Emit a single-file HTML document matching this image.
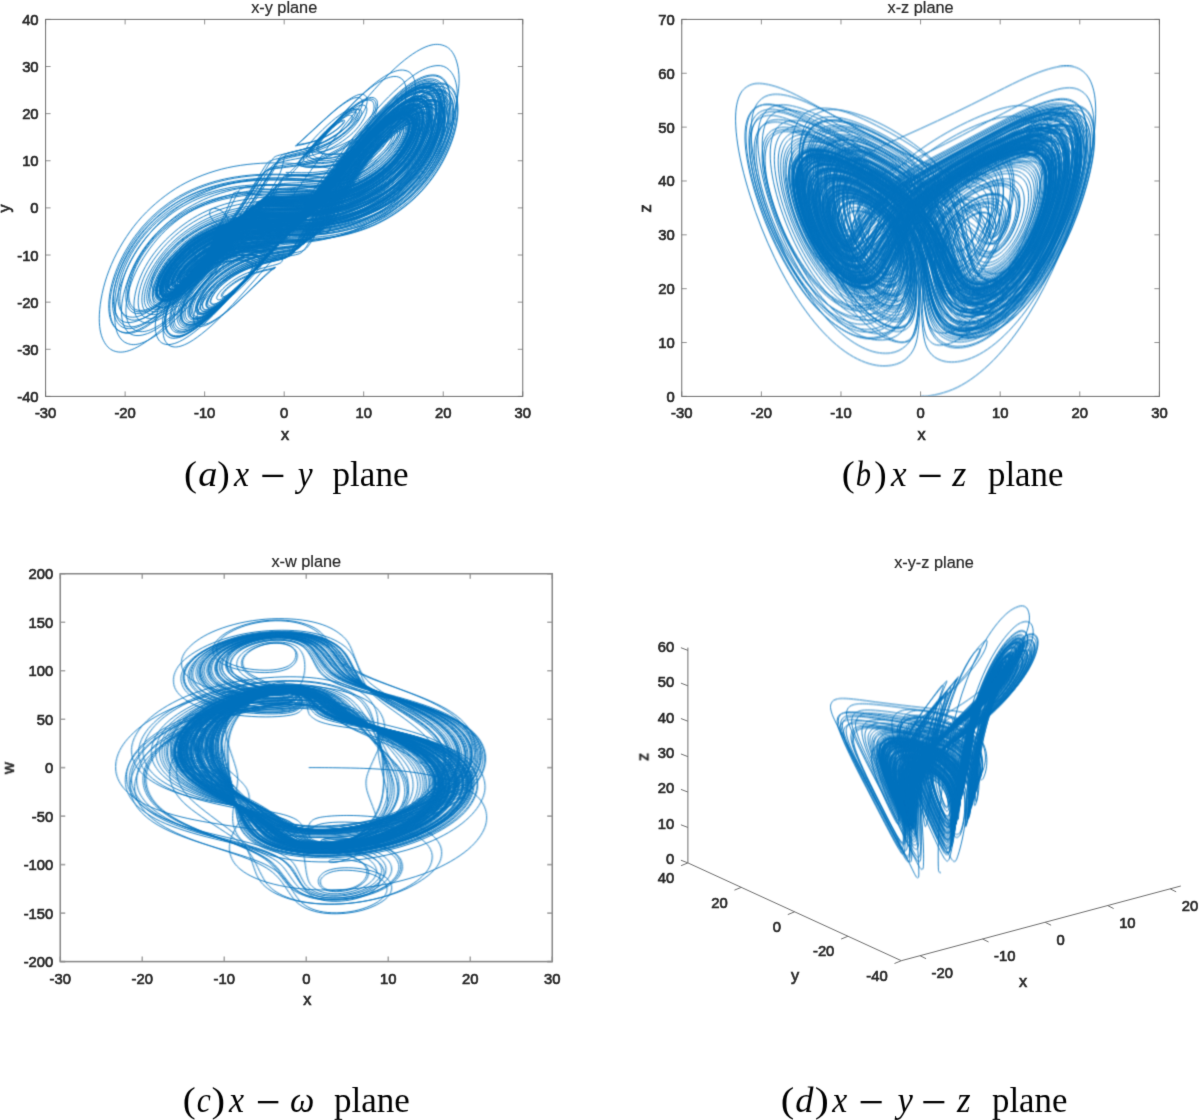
<!DOCTYPE html>
<html><head><meta charset="utf-8"><title>Hyperchaotic attractor</title>
<style>
html,body{margin:0;padding:0;background:#fff}
svg{display:block}
text{font-family:"Liberation Sans",sans-serif;stroke:#262626;stroke-width:.65px}
text.s{font-family:"Liberation Serif",serif;stroke:none}
.cv{fill:none;stroke:#0072bd;stroke-linejoin:round;stroke-linecap:round}
</style></head><body>
<svg width="1200" height="1120" viewBox="0 0 1200 1120">
<rect width="1200" height="1120" fill="#fff"/>
<defs>
<filter id="bl" x="0" y="0" width="100%" height="100%" filterUnits="userSpaceOnUse" color-interpolation-filters="sRGB"><feConvolveMatrix order="3" kernelMatrix="0.0311 0.1141 0.0311 0.1141 0.4191 0.1141 0.0311 0.1141 0.0311" edgeMode="none"/></filter>
<filter id="bt" x="0" y="0" width="100%" height="100%" filterUnits="userSpaceOnUse" color-interpolation-filters="sRGB"><feConvolveMatrix order="3" kernelMatrix="0.0113 0.0838 0.0113 0.0838 0.6193 0.0838 0.0113 0.0838 0.0113" edgeMode="none"/></filter>
<clipPath id="ca"><rect x="45.6" y="19.4" width="477.15" height="377"/></clipPath>
<clipPath id="cb"><rect x="681.75" y="19.4" width="477.65" height="377"/></clipPath>
<clipPath id="cc"><rect x="60.25" y="573.75" width="492" height="387.85"/></clipPath>
<clipPath id="cd"><rect x="600" y="560" width="600" height="480"/></clipPath>
</defs>
<g filter="url(#bt)">
<rect x="45.60" y="19.40" width="477.15" height="377.00" fill="none" stroke="#6e6e6e" stroke-width="1.0"/>
<path d="M45.60 396.40v-5M45.60 19.40v5M125.12 396.40v-5M125.12 19.40v5M204.65 396.40v-5M204.65 19.40v5M284.18 396.40v-5M284.18 19.40v5M363.70 396.40v-5M363.70 19.40v5M443.23 396.40v-5M443.23 19.40v5M522.75 396.40v-5M522.75 19.40v5M45.60 396.40h5M522.75 396.40h-5M45.60 349.27h5M522.75 349.27h-5M45.60 302.15h5M522.75 302.15h-5M45.60 255.02h5M522.75 255.02h-5M45.60 207.90h5M522.75 207.90h-5M45.60 160.77h5M522.75 160.77h-5M45.60 113.65h5M522.75 113.65h-5M45.60 66.52h5M522.75 66.52h-5M45.60 19.40h5M522.75 19.40h-5" stroke="#6e6e6e" stroke-opacity=".75" stroke-width="1.0" fill="none"/>
<text x="45.60" y="418.20" font-size="14.8" text-anchor="middle" fill="#262626">-30</text>
<text x="125.12" y="418.20" font-size="14.8" text-anchor="middle" fill="#262626">-20</text>
<text x="204.65" y="418.20" font-size="14.8" text-anchor="middle" fill="#262626">-10</text>
<text x="284.18" y="418.20" font-size="14.8" text-anchor="middle" fill="#262626">0</text>
<text x="363.70" y="418.20" font-size="14.8" text-anchor="middle" fill="#262626">10</text>
<text x="443.23" y="418.20" font-size="14.8" text-anchor="middle" fill="#262626">20</text>
<text x="522.75" y="418.20" font-size="14.8" text-anchor="middle" fill="#262626">30</text>
<text x="38.60" y="401.90" font-size="14.8" text-anchor="end" fill="#262626">-40</text>
<text x="38.60" y="354.77" font-size="14.8" text-anchor="end" fill="#262626">-30</text>
<text x="38.60" y="307.65" font-size="14.8" text-anchor="end" fill="#262626">-20</text>
<text x="38.60" y="260.52" font-size="14.8" text-anchor="end" fill="#262626">-10</text>
<text x="38.60" y="213.40" font-size="14.8" text-anchor="end" fill="#262626">0</text>
<text x="38.60" y="166.27" font-size="14.8" text-anchor="end" fill="#262626">10</text>
<text x="38.60" y="119.15" font-size="14.8" text-anchor="end" fill="#262626">20</text>
<text x="38.60" y="72.02" font-size="14.8" text-anchor="end" fill="#262626">30</text>
<text x="38.60" y="24.90" font-size="14.8" text-anchor="end" fill="#262626">40</text>
<text x="284.18" y="12.90" font-size="16.3" text-anchor="middle" fill="#262626" style="stroke-width:.2px">x-y plane</text>
<text x="285.18" y="440.20" font-size="16.3" text-anchor="middle" fill="#262626">x</text>
<text x="9.85" y="208.40" font-size="16.3" text-anchor="middle" fill="#262626" transform="rotate(-90 9.85 208.40)">y</text>
<rect x="681.75" y="19.40" width="477.65" height="377.00" fill="none" stroke="#6e6e6e" stroke-width="1.0"/>
<path d="M681.75 396.40v-5M681.75 19.40v5M761.36 396.40v-5M761.36 19.40v5M840.97 396.40v-5M840.97 19.40v5M920.58 396.40v-5M920.58 19.40v5M1000.18 396.40v-5M1000.18 19.40v5M1079.79 396.40v-5M1079.79 19.40v5M1159.40 396.40v-5M1159.40 19.40v5M681.75 396.40h5M1159.40 396.40h-5M681.75 342.54h5M1159.40 342.54h-5M681.75 288.69h5M1159.40 288.69h-5M681.75 234.83h5M1159.40 234.83h-5M681.75 180.97h5M1159.40 180.97h-5M681.75 127.11h5M1159.40 127.11h-5M681.75 73.26h5M1159.40 73.26h-5M681.75 19.40h5M1159.40 19.40h-5" stroke="#6e6e6e" stroke-opacity=".75" stroke-width="1.0" fill="none"/>
<text x="681.75" y="418.20" font-size="14.8" text-anchor="middle" fill="#262626">-30</text>
<text x="761.36" y="418.20" font-size="14.8" text-anchor="middle" fill="#262626">-20</text>
<text x="840.97" y="418.20" font-size="14.8" text-anchor="middle" fill="#262626">-10</text>
<text x="920.58" y="418.20" font-size="14.8" text-anchor="middle" fill="#262626">0</text>
<text x="1000.18" y="418.20" font-size="14.8" text-anchor="middle" fill="#262626">10</text>
<text x="1079.79" y="418.20" font-size="14.8" text-anchor="middle" fill="#262626">20</text>
<text x="1159.40" y="418.20" font-size="14.8" text-anchor="middle" fill="#262626">30</text>
<text x="674.75" y="401.90" font-size="14.8" text-anchor="end" fill="#262626">0</text>
<text x="674.75" y="348.04" font-size="14.8" text-anchor="end" fill="#262626">10</text>
<text x="674.75" y="294.19" font-size="14.8" text-anchor="end" fill="#262626">20</text>
<text x="674.75" y="240.33" font-size="14.8" text-anchor="end" fill="#262626">30</text>
<text x="674.75" y="186.47" font-size="14.8" text-anchor="end" fill="#262626">40</text>
<text x="674.75" y="132.61" font-size="14.8" text-anchor="end" fill="#262626">50</text>
<text x="674.75" y="78.76" font-size="14.8" text-anchor="end" fill="#262626">60</text>
<text x="674.75" y="24.90" font-size="14.8" text-anchor="end" fill="#262626">70</text>
<text x="920.58" y="12.90" font-size="16.3" text-anchor="middle" fill="#262626" style="stroke-width:.2px">x-z plane</text>
<text x="921.58" y="440.20" font-size="16.3" text-anchor="middle" fill="#262626">x</text>
<text x="650.60" y="208.40" font-size="16.3" text-anchor="middle" fill="#262626" transform="rotate(-90 650.60 208.40)">z</text>
<rect x="60.25" y="573.75" width="492.00" height="387.85" fill="none" stroke="#8c8c8c" stroke-width="1.6"/>
<path d="M60.25 961.60v-5M60.25 573.75v5M142.25 961.60v-5M142.25 573.75v5M224.25 961.60v-5M224.25 573.75v5M306.25 961.60v-5M306.25 573.75v5M388.25 961.60v-5M388.25 573.75v5M470.25 961.60v-5M470.25 573.75v5M552.25 961.60v-5M552.25 573.75v5M60.25 961.60h5M552.25 961.60h-5M60.25 913.12h5M552.25 913.12h-5M60.25 864.64h5M552.25 864.64h-5M60.25 816.16h5M552.25 816.16h-5M60.25 767.67h5M552.25 767.67h-5M60.25 719.19h5M552.25 719.19h-5M60.25 670.71h5M552.25 670.71h-5M60.25 622.23h5M552.25 622.23h-5M60.25 573.75h5M552.25 573.75h-5" stroke="#8c8c8c" stroke-opacity=".75" stroke-width="1.6" fill="none"/>
<text x="60.25" y="984.00" font-size="14.8" text-anchor="middle" fill="#262626">-30</text>
<text x="142.25" y="984.00" font-size="14.8" text-anchor="middle" fill="#262626">-20</text>
<text x="224.25" y="984.00" font-size="14.8" text-anchor="middle" fill="#262626">-10</text>
<text x="306.25" y="984.00" font-size="14.8" text-anchor="middle" fill="#262626">0</text>
<text x="388.25" y="984.00" font-size="14.8" text-anchor="middle" fill="#262626">10</text>
<text x="470.25" y="984.00" font-size="14.8" text-anchor="middle" fill="#262626">20</text>
<text x="552.25" y="984.00" font-size="14.8" text-anchor="middle" fill="#262626">30</text>
<text x="53.25" y="967.10" font-size="14.8" text-anchor="end" fill="#262626">-200</text>
<text x="53.25" y="918.62" font-size="14.8" text-anchor="end" fill="#262626">-150</text>
<text x="53.25" y="870.14" font-size="14.8" text-anchor="end" fill="#262626">-100</text>
<text x="53.25" y="821.66" font-size="14.8" text-anchor="end" fill="#262626">-50</text>
<text x="53.25" y="773.17" font-size="14.8" text-anchor="end" fill="#262626">0</text>
<text x="53.25" y="724.69" font-size="14.8" text-anchor="end" fill="#262626">50</text>
<text x="53.25" y="676.21" font-size="14.8" text-anchor="end" fill="#262626">100</text>
<text x="53.25" y="627.73" font-size="14.8" text-anchor="end" fill="#262626">150</text>
<text x="53.25" y="579.25" font-size="14.8" text-anchor="end" fill="#262626">200</text>
<text x="306.25" y="567.25" font-size="16.3" text-anchor="middle" fill="#262626" style="stroke-width:.2px">x-w plane</text>
<text x="307.25" y="1005.40" font-size="16.3" text-anchor="middle" fill="#262626">x</text>
<text x="14.10" y="768.17" font-size="16.3" text-anchor="middle" fill="#262626" transform="rotate(-90 14.10 768.17)">w</text>
<text x="674.30" y="864.30" font-size="14.8" text-anchor="end" fill="#262626">0</text>
<text x="674.30" y="828.88" font-size="14.8" text-anchor="end" fill="#262626">10</text>
<text x="674.30" y="793.47" font-size="14.8" text-anchor="end" fill="#262626">20</text>
<text x="674.30" y="758.05" font-size="14.8" text-anchor="end" fill="#262626">30</text>
<text x="674.30" y="722.63" font-size="14.8" text-anchor="end" fill="#262626">40</text>
<text x="674.30" y="687.22" font-size="14.8" text-anchor="end" fill="#262626">50</text>
<text x="674.30" y="651.80" font-size="14.8" text-anchor="end" fill="#262626">60</text>
<text x="674.30" y="883.10" font-size="14.8" text-anchor="end" fill="#262626">40</text>
<text x="727.65" y="907.55" font-size="14.8" text-anchor="end" fill="#262626">20</text>
<text x="781.00" y="932.00" font-size="14.8" text-anchor="end" fill="#262626">0</text>
<text x="834.35" y="956.45" font-size="14.8" text-anchor="end" fill="#262626">-20</text>
<text x="887.70" y="980.90" font-size="14.8" text-anchor="end" fill="#262626">-40</text>
<text x="931.56" y="977.99" font-size="14.8" text-anchor="start" fill="#262626">-20</text>
<text x="994.09" y="961.28" font-size="14.8" text-anchor="start" fill="#262626">-10</text>
<text x="1056.61" y="944.56" font-size="14.8" text-anchor="start" fill="#262626">0</text>
<text x="1119.14" y="927.85" font-size="14.8" text-anchor="start" fill="#262626">10</text>
<text x="1181.67" y="911.14" font-size="14.8" text-anchor="start" fill="#262626">20</text>
<path d="M687.90 862.90L687.90 647.57M687.90 862.90L901.30 960.70M901.30 960.70L1180.80 886.00M687.90 862.90L680.90 860.20M687.90 827.48L680.90 824.78M687.90 792.07L680.90 789.37M687.90 756.65L680.90 753.95M687.90 721.23L680.90 718.53M687.90 685.82L680.90 683.12M687.90 650.40L680.90 647.70M687.90 862.90L681.10 865.70M741.25 887.35L734.45 890.15M794.60 911.80L787.80 914.60M847.95 936.25L841.15 939.05M901.30 960.70L894.50 963.50M920.06 955.69L926.06 958.69M982.59 938.98L988.59 941.98M1045.11 922.26L1051.11 925.26M1107.64 905.55L1113.64 908.55M1170.17 888.84L1176.17 891.84" stroke="#6e6e6e" stroke-width="1" fill="none"/>
<text x="934.00" y="567.50" font-size="16.3" text-anchor="middle" fill="#262626" style="stroke-width:.2px">x-y-z plane</text>
<text x="1023.00" y="987.30" font-size="16.3" text-anchor="middle" fill="#262626">x</text>
<text x="795.00" y="981.00" font-size="16.3" text-anchor="middle" fill="#262626">y</text>
<text x="648.50" y="757.00" font-size="16.3" text-anchor="middle" fill="#262626" transform="rotate(-90 648.50 757.00)">z</text>
<text class="s" transform="translate(183.88 485.75) scale(1.081 1)" font-size="36" fill="#000">(</text>
<text class="s" transform="translate(198.19 485.75) scale(1.065 1)" font-size="36" fill="#000" font-style="italic">a</text>
<text class="s" transform="translate(217.30 485.75) scale(1.043 1)" font-size="36" fill="#000">)</text>
<text class="s" transform="translate(234.07 485.75) scale(0.942 1)" font-size="36" fill="#000" font-style="italic">x</text>
<rect x="262.30" y="474.75" width="21.05" height="2.3" fill="#000"/>
<text class="s" transform="translate(297.69 485.75) scale(0.932 1)" font-size="36" fill="#000" font-style="italic">y</text>
<text class="s" transform="translate(332.51 485.75) scale(0.976 1)" font-size="36" fill="#000">plane</text>
<text class="s" transform="translate(841.63 485.75) scale(1.081 1)" font-size="36" fill="#000">(</text>
<text class="s" transform="translate(855.69 485.75) scale(0.848 1)" font-size="36" fill="#000" font-style="italic">b</text>
<text class="s" transform="translate(874.20 485.75) scale(1.038 1)" font-size="36" fill="#000">)</text>
<text class="s" transform="translate(890.99 485.75) scale(0.978 1)" font-size="36" fill="#000" font-style="italic">x</text>
<rect x="919.40" y="474.75" width="21.20" height="2.3" fill="#000"/>
<text class="s" transform="translate(952.25 485.75) scale(1.000 1)" font-size="36" fill="#000" font-style="italic">z</text>
<text class="s" transform="translate(988.02 485.75) scale(0.967 1)" font-size="36" fill="#000">plane</text>
<text class="s" transform="translate(182.63 1112.00) scale(1.081 1)" font-size="36" fill="#000">(</text>
<text class="s" transform="translate(196.87 1112.00) scale(0.879 1)" font-size="36" fill="#000" font-style="italic">c</text>
<text class="s" transform="translate(211.58 1112.00) scale(1.135 1)" font-size="36" fill="#000">)</text>
<text class="s" transform="translate(229.07 1112.00) scale(0.942 1)" font-size="36" fill="#000" font-style="italic">x</text>
<rect x="257.90" y="1101.00" width="20.45" height="2.3" fill="#000"/>
<text class="s" transform="translate(289.91 1112.00) scale(0.956 1)" font-size="36" fill="#000" font-style="italic">ω</text>
<text class="s" transform="translate(334.01 1112.00) scale(0.973 1)" font-size="36" fill="#000">plane</text>
<text class="s" transform="translate(780.81 1112.00) scale(1.124 1)" font-size="36" fill="#000">(</text>
<text class="s" transform="translate(795.14 1112.00) scale(1.012 1)" font-size="36" fill="#000" font-style="italic">d</text>
<text class="s" transform="translate(814.63 1112.00) scale(1.178 1)" font-size="36" fill="#000">)</text>
<text class="s" transform="translate(832.32 1112.00) scale(0.938 1)" font-size="36" fill="#000" font-style="italic">x</text>
<rect x="860.60" y="1101.00" width="21.10" height="2.3" fill="#000"/>
<text class="s" transform="translate(897.38 1112.00) scale(0.961 1)" font-size="36" fill="#000" font-style="italic">y</text>
<rect x="923.30" y="1101.00" width="21.05" height="2.3" fill="#000"/>
<text class="s" transform="translate(957.08 1112.00) scale(0.968 1)" font-size="36" fill="#000" font-style="italic">z</text>
<text class="s" transform="translate(992.02 1112.00) scale(0.967 1)" font-size="36" fill="#000">plane</text>
</g>
<g filter="url(#bl)"><g clip-path="url(#ca)"><path class="cv" transform="scale(0.2)" stroke-width="4.5" d="M1437 1037C1435 1032 1433 1031 1438 1020s71-105 139-199 141-191 214-279 147-170 209-223 109-79 143-90 58-8 79 0 38 24 51 52 25 74 22 136-17 139-46 221-73 155-123 226-110 133-176 183-138 90-216 118-162 45-246 49-172-4-245-22-129-47-157-70-34-39-37-49 0-15 2-20 8-8 15-10 20-1 34 7 29 21 36 39 12 41 4 77-39 98-85 157-89 90-101 96-15 5-17 4-5-2-6-5-3-6 3-19 28-50 75-88 109-67 177-86 186-22 221-27 33-7 47-22 71-106 134-195 136-184 208-269 145-163 203-208 93-60 119-65 41-1 55 7 26 23 33 48 10 67-3 125-44 126-87 191-97 122-159 169-132 84-209 109-163 40-254 44-227-11-289-14-64 5-78 14-31 40-74 113-78 108-81 110-2 2-3 2 0 0 0 0 0-1 1-2-2-6 42-37 106-57 171-70 134-6 151-1 14 6 15 8 2 4 1 8-11 20-78 93-146 152-198 191-72 40-85 41-18-2-23-7-9-10-10-24 1-39 27-82 75-89 129-128 118-68 190-85 171-24 193-32 25-3 59-54 102-166 167-256 137-180 204-250 124-114 159-131 53-18 69-15 26 9 35 23 15 33 13 71-18 96-51 157-80 118-137 167-123 88-197 116-156 45-248 52-227-2-287 2-76 12-103 32-87 103-143 168-84 78-91 81-9 2-11 2-3-2-4-5-2-4 5-17 40-53 91-86 114-60 184-73 178-10 196-13 18-5 25-14 44-78 104-164 132-182 203-273 147-179 214-243 121-99 157-114 58-16 77-11 34 16 45 36 22 49 21 100-17 117-47 188-74 143-127 203-114 113-183 153-146 69-230 88-173 24-266 20-231-31-273-36-31-1-36 2-5-8-13 26-48 148-61 172-3 9-3 10 0 0 0 1 0 0 4-2 81-43 141-57 115-12 133-8 18 9 20 12 3 6 1 12-10 26-70 90-131 121-159 135-31 11-36 10-8-3-10-7-4-9-1-22 21-42 62-83 96-72 159-95 160-38 180-47 15 8 54-60 100-161 167-255 137-188 209-272 143-154 197-194 87-51 112-55 41 2 56 12 27 26 34 56 8 72-7 135-46 133-89 198-96 124-158 171-132 86-210 112-164 41-258 46-219-5-310-9-103 3-122 14-26 10-67 84-33 62-33 63 1 2 1 2 1 1 4 0 60-30 119-44 117-12 136-7 20 10 23 13 3 7 2 15-10 28-67 89-120 107-140 117-23 6-27 5-5-3-7-6-3-6 2-19 25-47 68-82 98-66 168-86 125-29 138-38 20-24 62-96 109-167 176-260 140-189 212-272 143-152 196-190 87-50 112-54 44 2 59 13 29 29 36 61 10 80-4 145-44 140-86 208-96 130-157 180-130 91-207 120-161 47-253 55-190 4-300-6-165-13-181-8-22 9-31 23-24 82-23 94 2 12 4 15 3 4 14 4 106-19 144-17 44 9 49 13 7 9 8 15 5 10-19 43-93 94-109 103-15 5-17 5-2-1-3-2-1-3 1-7 10-22 50-51 94-54 162-69 44-10 44-10 0 0 0 0 1 0 0 0 14-9-7 5-104 97-175 162-123 97-146 106-31 5-38 2-12-7-15-15-7-22 3-50 40-71 87-119 102-80 165-107 173-41 219-50 44-13 61-33 69-116 129-206 128-184 198-269 141-161 195-203 87-56 110-60 39 0 52 9 23 21 29 47 7 65-9 122-48 124-93 184-101 112-166 154-136 73-217 94-168 30-270 30-217-7-260 0-59 15-92 48-116 140-144 164-19 13-20 14-3 0-3-1-1-1 0-3-7 0 19-25 83-62 145-84 135-30 193-26 50 7 51 8 2 3 2 4 11-9-8 12-116 128-189 202-138 128-174 148-50 16-60 14-18-6-24-14-10-19-7-44 18-69 56-122 91-97 149-135 126-64 200-80 184-16 209-22 32-9 53-37 84-141 145-229 131-177 196-245 119-108 150-122 46-14 58-11 22 9 29 22 12 29 8 65-24 93-61 149-87 109-147 152-129 76-207 98-161 32-262 33-186 0-218 9-46 14-93 68-127 161-181 214-76 58-86 60-13 1-17-1-5-5-6-11-4-12 13-42 58-74 111-110 117-65 190-81 194-17 229-23 37-7 58-30 89-126 156-215 139-182 209-257 134-130 175-153 62-25 79-24 28 8 38 20 17 29 18 63-10 88-39 149-74 121-128 174-118 95-190 127-150 53-236 63-210 4-288 2-84 7-103 19-48 54-103 132-112 136-132 150-20 10-23 9-5-1-6-2-2-3 0-10 9-23 46-58 94-71 158-94 133-33 220-33 80-4 88-9 11-15 57-86 116-167 186-259 145-185 215-260 137-131 181-157 71-30 92-29 37 8 50 23 24 36 28 75-2 99-25 168-63 137-111 201-108 119-174 163-139 77-219 100-168 33-260 33-219-20-285-29-52-2-59 3-5-16-22 37-75 166-81 175-2 4-2 4 0 1 0 1 0 0 1-1 34-26 91-50 128-36 174-34 51 9 55 12 5 6 5 9 10-2-14 30-114 128-173 178-85 56-97 58-16 1-20-2-6-9-7-16-6-14 15-50 72-69 122-104 107-61 183-79 117-24 132-35 35-46 87-129 120-179 189-271 143-182 211-251 126-113 164-132 60-19 78-16 32 12 43 28 20 40 20 83-14 103-43 170-73 133-126 189-115 104-185 140-148 61-235 76-179 17-288 13-191-8-221-1-43 14-71 48-91 129-92 130-1 2-1 2 0 0 0 0 0 0 2-1 62-41 121-61 131-24 165-19 32 10 35 13 4 6 4 11 13-3-36 53-133 141-181 176-61 33-70 33-12-2-15-5-6-7-6-17 2-28 30-67 80-78 136-109 120-51 209-67 73-17 88-32 57-88 115-176 128-184 198-273 144-174 207-232 110-85 140-95 49-9 65-3 28 18 37 38 17 53 10 104-29 117-66 183-86 127-144 178-124 92-198 122-157 49-248 58-202 4-305-1-123 2-147 13-32 14-85 92-65 87-65 88-1 1-1 0 0 1 2-1 54-41 113-62 131-31 173-28 44 10 47 13 4 6 4 10 15-7-20 36-126 139-184 186-83 54-95 56-17-1-21-3-7-9-7-17-5-19 17-57 74-71 125-107 108-63 183-80 128-25 144-36 30-32 82-116 117-177 186-269 142-181 210-250 125-112 162-130 58-18 75-15 31 12 41 28 20 39 19 82-16 102-46 168-75 129-129 184-117 100-188 134-150 57-238 70-183 14-295 8-161-2-188 8-37 10-81 69-95 122-97 124-2 1-2 1-1 0-1 0 0 0 1-1-5-1 38-31 106-56 170-67 123-4 137 1 12 7 14 9 1 5 0 10-24 36-91 107-144 142-186 169-53 24-62 23-14-3-18-8-7-10-6-25 10-47 42-90 83-88 142-121 122-54 208-68 115-18 131-29 38-46 93-133 121-180 189-268 142-173 204-229 105-79 133-88 43-7 57-1 24 17 32 36 12 45 3 95-35 113-75 174-92 117-152 162-130 81-208 105-163 37-259 40-226-6-273 0-63 14-92 39-102 126-148 175-49 41-53 42-4 1-5 1-2-2-2-4-3-1 10-19 60-61 117-89 124-47 196-52 132 0 133 0 0 0 1 0 0 0 0 0 0 0-1 0 4-3-4 1-52 47-123 129-148 170-215 231-116 89-143 99-42 7-54 2-20-13-27-28-11-39-2-83 38-100 79-159 95-111 156-153 129-72 203-91 146-24 241-18 96 3 107-4 6 15 50-70 94-168 155-247 127-148 169-179 58-33 71-34 19 3 25 9 10 14 10 31-5 52-32 99-74 97-130 139-122 74-197 96-154 30-257 31-143 4-167 15-40 21-102 102-134 175-199 242-116 102-141 113-35 9-43 7-14-8-18-17-8-21-1-51 33-78 75-126 98-93 163-126 136-55 219-67 202-9 235-16 44-11 74-45 105-145 171-228 137-158 187-197 72-43 86-45 23 2 29 7 13 13 14 30-1 43-24 90-66 100-119 145-117 81-189 106-150 37-247 41-158 6-182 16-34 11-90 86-128 174-193 245-121 114-149 128-37 12-46 10-14-7-18-14-8-17-3-43 27-71 66-119 93-93 156-127 135-58 217-71 206-10 245-16 48-12 76-40 99-133 165-217 138-163 192-208 80-52 96-55 25 1 32 6 13 12 16 28 1 37-19 83-59 98-110 145-113 85-183 113-148 43-239 49-180 5-207 14-36 9-80 65-122 168-187 242-127 128-159 146-42 17-51 16-16-6-20-12-8-15-5-38 19-62 55-110 88-94 150-130 131-61 211-76 207-13 254-18 54-12 79-35 90-118 156-203 137-168 195-219 91-64 109-69 28-1 36 3 14 12 17 26 4 34-12 77-52 98-101 146-108 90-177 120-145 49-233 57-198 4-230 12-42 11-77 51-110 152-175 230-132 139-168 162-48 22-57 22-16-5-21-11-9-13-7-32 14-51 47-98 83-94 142-131 128-65 206-81 204-15 257-21 60-11 83-32 83-106 149-192 137-172 198-229 101-77 122-83 32-4 40 0 16 11 20 24 7 29-6 70-45 94-90 144-103 95-170 128-140 56-224 67-213 7-256 13-54 13-81 38-93 124-157 205-133 151-176 183-57 31-68 31-16-2-21-7-9-12-8-27 6-41 34-86 76-93 133-131 124-69 200-86 195-20 260-24 68-11 90-29 74-91 139-178 136-174 200-238 112-92 137-101 37-8 47-5 17 10 22 22 8 28 0 65-36 92-78 144-97 100-162 136-136 62-218 77-206 12-272 16-74 11-97 28-72 87-135 171-132 160-181 201-67 42-78 44-18-2-23-5-8-10-9-22 1-29 25-70 67-89 122-129 119-71 194-90 181-24 258-28 75-10 95-26 67-79 132-167 136-177 202-246 123-109 153-123 44-13 56-10 19 8 25 20 11 25 6 59-26 86-63 141-90 105-151 145-131 72-209 91-164 26-269 26-123 6-146 18-41 29-104 115-128 169-183 222-82 62-95 65-19 2-23-1-9-7-10-16-4-19 13-53 55-81 107-122 114-73 185-94 161-29 252-32 86-9 105-23 58-66 122-153 134-179 203-254 133-129 171-151 56-23 70-21 24 7 31 17 14 23 13 53-15 79-46 134-79 113-136 158-124 83-198 108-155 39-249 43-191 0-221 8-40 11-75 54-112 157-171 223-103 95-120 103-22 5-26 4-8-5-10-10-4-11 3-33 34-64 80-105 107-76 176-100 139-35 236-38 105-8 123-19 43-43 104-129 132-179 202-262 143-153 193-190 78-43 97-45 31 3 41 11 18 20 21 45 0 63-21 118-61 119-111 172-110 100-179 135-145 58-229 71-200 9-285 8-89 7-110 20-51 53-109 135-121 149-153 173-35 20-40 20-7-2-9-4-4-5-3-13 6-23 37-61 85-76 146-105 131-47 212-53 144-6 159-12 13 4 64-71 119-169 189-260 144-179 212-245 122-105 156-119 53-15 69-11 28 13 37 29 17 41 14 85-21 104-55 169-83 126-139 177-122 94-195 125-154 51-241 59-202 2-291-3-89 2-105 12-29 22-79 103-105 142-121 154-13 8-15 8-3 0-3-1-1-2 0-5 0-11 34-42 94-66 158-87 138-27 206-24 55 6 55 6 1 1 1 1 0 0-2 2-66 67-138 148-151 166-212 216-97 66-119 70-32 1-41-4-17-15-22-31-6-47 10-94 53-102 101-157 107-97 172-130 135-56 212-66 189-3 214-7 31-8 45-25 63-113 118-197 123-172 184-236 110-97 135-107 36-10 46-7 16 9 21 20 8 26 1 60-32 88-74 139-97 97-161 133-136 61-218 76-201 12-279 14-86 10-112 28-71 74-137 158-137 163-187 204-69 44-81 46-18-2-23-6-9-9-10-21 1-32 24-73 66-91 121-131 119-72 193-92 181-25 257-29 75-11 96-27 66-80 131-168 135-177 201-245 121-108 151-122 43-12 54-10 20 9 25 20 11 25 6 59-27 87-65 141-91 104-152 144-132 70-211 89-167 23-271 24-115 7-138 19-46 37-109 124-130 168-184 219-80 58-93 61-18 1-23-2-8-8-9-17-3-19 15-55 57-82 109-123 115-73 187-94 166-27 253-31 83-9 102-23 60-70 124-157 135-179 203-253 132-126 169-147 54-20 67-19 23 8 30 18 14 23 12 54-16 80-48 136-81 111-139 157-125 81-200 105-156 37-251 40-183 1-211 9-38 10-78 59-116 163-175 227-99 90-115 96-21 5-26 3-7-5-9-10-5-12 4-36 39-67 86-108 107-75 176-98 141-34 240-37 100-8 117-19 47-50 109-136 132-179 202-261 142-150 191-184 73-39 91-40 30 3 40 12 17 21 20 46-2 67-25 123-64 117-115 170-113 98-182 131-147 55-232 66-212 6-283 7-77 9-98 24-60 71-118 150-120 143-149 163-32 16-36 16-8-2-10-5-3-6-2-15 9-28 44-67 89-77 151-104 131-45 215-51 136-6 151-12 17-4 71-82 122-172 192-261 144-177 210-240 117-94 149-106 49-12 63-7 27 14 35 32 16 42 10 88-27 110-63 173-86 123-144 173-125 89-200 118-157 45-246 51-223-5-285-6-66 7-83 19-48 62-98 137-98 118-109 125-11 5-12 5-3-1-3-2-1-2 1-7 9-24 51-58 104-65 170-83 140-21 213-16 34 1 34 1 0 0 0 0 0 0-1 0 6-14-42 36-129 151-203 230-146 143-193 173-68 32-84 31-27-5-36-14-16-23-18-51 6-75 33-132 72-117 126-169 117-92 186-121 143-47 222-52 185 7 207 4 26-6 38-20 51-99 102-181 116-167 175-229 102-89 123-97 30-6 38-4 14 9 18 19 7 22-3 56-38 84-82 132-101 91-167 123-141 52-225 62-212 5-255 11-54 11-83 39-99 126-167 209-138 156-186 193-68 39-81 40-21-2-27-7-11-12-12-29 3-45 28-91 68-98 123-141 120-77 193-99 152-32 255-35 119-8 140-21 44-36 107-123 130-176 195-244 118-106 144-118 37-11 46-8 16 7 20 16 8 20 2 51-29 79-70 129-95 95-158 130-136 60-218 73-211 11-259 16-57 12-83 35-89 116-154 199-136 162-188 205-75 47-89 50-22-1-28-6-11-11-13-25 1-37 22-81 62-96 115-140 117-79 189-103 149-35 248-39 139-7 161-18 37-21 99-106 130-176 195-248 125-117 154-132 42-14 52-12 16 7 21 16 9 18 5 46-24 75-62 125-91 98-152 135-133 64-213 79-206 14-267 19-67 11-91 30-77 96-142 181-135 166-190 214-83 58-98 61-24 1-30-3-12-10-14-23-2-32 16-73 57-93 108-138 113-82 184-107 147-39 242-44 153-6 176-16 33-12 91-92 128-175 195-250 129-127 163-146 46-18 57-17 18 6 23 14 10 18 7 43-18 70-53 120-86 100-146 138-130 69-208 86-189 20-270 23-84 10-106 26-65 72-129 158-133 170-192 224-91 69-108 73-25 3-32-1-12-9-14-20-5-27 10-65 51-90 99-135 110-84 179-111 146-43 237-48 165-7 189-16 32-8 85-79 126-173 193-251 134-136 171-160 53-23 64-22 20 5 26 12 10 17 9 40-13 64-45 114-81 102-139 143-127 72-203 92-164 26-265 28-109 8-131 21-51 47-114 134-132 172-192 232-101 81-120 87-27 5-34 2-12-8-15-18-5-22 6-56 44-86 90-132 106-86 174-114 143-46 232-53 175-6 200-15 33-7 80-69 123-170 190-249 137-146 179-174 60-30 73-30 21 4 27 11 12 16 11 37-8 59-36 109-75 103-132 146-123 77-197 100-154 32-256 34-139 6-162 17-37 20-98 105-129 174-192 239-109 95-130 104-30 6-37 4-13-7-16-15-6-19 2-49 36-78 80-124 102-88 168-118 141-49 227-57 183-7 210-16 34-7 76-60 119-165 187-246 139-153 186-188 68-37 82-38 24 3 31 9 12 15 13 35-4 53-28 102-69 104-123 150-119 82-191 107-152 39-247 43-169 4-195 14-34 8-84 74-124 171-187 241-118 110-143 122-33 10-40 9-13-6-16-13-7-15-1-40 28-70 69-116 96-89 161-120 138-52 222-62 189-8 217-15 36-8 74-54 114-158 182-242 140-160 192-201 79-48 95-51 27 1 35 7 14 15 16 33 0 47-20 95-61 106-113 154-113 88-184 117-148 46-237 53-199 4-231 11-43 12-77 50-110 151-173 226-125 128-154 145-39 15-46 14-13-4-17-9-6-12-3-32 19-58 55-103 91-89 154-121 134-56 216-67 193-9 223-16 37-8 71-47 110-152 178-238 141-166 198-215 91-63 111-67 31-2 40 3 16 14 20 30 5 43-11 90-51 105-99 156-108 96-176 129-143 55-228 66-215 7-266 12-61 11-85 33-83 107-145 187-129 147-166 173-47 24-55 24-13-2-17-6-6-9-5-23 8-41 39-83 82-87 142-122 130-58 209-71 196-10 227-17 38-8 67-41 103-142 171-230 142-173 205-232 108-86 133-94 39-7 50-3 20 13 26 28 10 38 0 80-37 103-80 159-98 105-161 144-136 68-216 86-166 23-272 22-124 4-147 16-37 23-98 108-126 167-175 212-66 47-75 48-13 1-17-2-6-6-6-13-2-19 18-53 65-79 120-115 120-64 195-79 197-16 235-21 42-8 63-30 88-121 155-210 139-179 208-252 131-121 167-140 56-20 71-18 26 9 34 21 15 30 14 65-16 91-48 150-80 119-136 168-123 88-197 116-154 45-244 51-220-3-264 1-54 11-76 31-79 110-135 181-105 111-121 119-17 6-21 6-5-3-6-6-3-5 1-17 25-44 68-81 103-72 170-93 145-29 233-31 68-6 80-15 41-54 101-138 130-180 202-268 145-171 208-225 105-76 133-84 45-6 60 1 26 18 34 39 13 52 4 106-34 121-74 185-91 124-151 173-129 88-205 115-159 44-249 49-220-8-288-11-68 4-83 14-32 38-78 114-93 124-101 130-6 4-7 4-2 0-2-1 0-1 1-4-1-9 40-41 102-62 166-79 148-18 188-12 25 6 26 8 1 2 1 3 23-21-32 38-134 151-204 219-128 106-156 118-40 10-49 7-16-9-21-18-10-24-3-56 34-79 75-131 95-97 156-131 130-59 207-71 171-12 192-19 25-4 53-46 96-160 159-248 134-174 195-234 108-88 133-98 39-8 50-4 20 12 25 26 10 36 2 77-35 99-77 154-97 103-160 142-134 68-214 86-168 23-277 22-143 4-171 16-44 24-107 104-135 165-181 204-60 39-68 40-13 0-16-3-5-6-5-14 0-23 23-58 70-81 127-115 124-61 201-74 188-13 215-19 30-5 59-41 104-148 172-237 142-179 209-246 124-109 157-124 50-15 65-12 24 12 33 26 14 35 10 74-21 98-57 159-86 117-144 164-125 85-200 112-156 42-248 46-218-4-257 0-51 11-74 34-84 119-139 186-95 96-107 102-14 4-17 3-4-2-5-5-2-4 3-18 30-50 77-86 108-68 178-86 179-20 231-23 42-6 53-16 51-74 112-160 134-182 205-269 146-170 208-224 104-74 132-82 47-6 62 1 27 20 35 42 15 57 6 112-35 123-74 189-90 127-150 178-127 91-202 120-158 47-247 54-194-1-292-11-94-2-108 5-10-12-49 65-96 155-108 165-6 6-7 6-1 0-1 0 0 0 0-1-10 8 15-16 87-61 149-80 140-25 182-20 36 9 38 11 3 4 3 7 22-17-27 38-134 149-200 208-107 80-127 86-27 3-34 0-11-8-14-18-5-25 8-59 47-83 95-128 108-81 174-107 171-37 233-45 56-13 73-29 62-95 121-185 127-181 196-263 139-150 187-184 73-40 92-41 31 3 41 12 19 22 22 48-1 70-23 126-61 119-111 173-112 99-181 133-145 58-231 71-195 12-294 10-118 6-145 20-54 43-118 124-121 134-140 146-20 9-23 9-5-2-6-4-2-4 0-12 13-32 53-68 98-71 163-92 140-31 226-32 63-6 72-13 30-44 86-125 127-177 198-268 145-179 213-245 122-102 157-117 56-15 74-11 31 15 42 33 20 46 17 93-18 112-50 181-77 135-131 192-118 104-189 140-149 62-234 76-176 16-275 9-188-20-207-17-25 7-36 21-46 102-82 158-35 48-36 48 0 1 1 0 9-14 61-43 119-49 179-55 95 5 102 9 8 6 9 9 3 4-2 14-62 78-131 147-131 114-157 126-33 10-40 8-10-5-13-11-6-12 0-33 26-63 68-106 99-80 163-107 177-41 222-50 46-13 64-35 76-123 139-213 132-185 202-268 142-155 194-194 82-48 104-51 37 2 49 12 22 22 27 50 4 67-13 126-53 126-100 185-103 111-169 151-139 71-220 90-171 26-274 25-205-6-240 2-51 14-84 50-117 148-142 170-19 13-21 14-2 0-2-1-1-1 0-3-6 0 20-27 84-63 146-85 136-30 197-27 52 7 54 8 1 2 1 3 8-5-5 10-110 120-183 196-143 138-184 161-55 22-67 21-20-5-26-13-11-20-9-43 11-63 46-118 89-95 145-136 121-71 193-89 191-21 229-26 42-10 57-27 64-106 122-193 126-178 192-252 128-127 164-148 53-21 67-20 23 7 31 17 13 24 12 55-15 81-47 136-79 110-137 156-124 80-199 105-157 38-253 41-203-1-239 8-51 14-89 55-119 151-178 213-94 80-107 85-18 2-22 1-7-5-9-11-4-9 7-35 46-67 95-106 110-72 180-92 180-26 244-30 59-10 77-25 67-89 131-177 136-181 206-260 140-143 186-173 69-34 87-34 30 4 40 15 18 24 20 53-4 77-29 135-66 121-118 175-115 98-185 131-147 57-233 68-200 8-287 7-92 5-112 18-47 46-103 127-118 145-143 163-27 15-30 15-6-2-7-4-3-4-1-11 6-21 40-57 90-73 153-98 131-40 215-43 109-4 119-10 15-11 64-86 119-169 189-260 145-183 215-253 129-117 168-137 62-21 80-18 33 11 44 26 21 40 21 82-12 102-40 170-72 135-125 193-114 107-184 145-146 64-230 80-173 20-271 14-195-19-216-16-28 8-40 23-52 105-90 162-43 53-44 53-1 1-1 1 0 0 0 0 0 0 1-2 25-29 79-57 122-48 183-52 97 5 104 9 6 5 7 7 2 3-2 12-66 80-136 151-138 129-172 146-42 15-51 14-13-5-17-11-7-14-3-35 18-60 57-106 93-87 154-119 124-50 214-62 106-16 122-28 40-50 95-137 121-180 190-268 141-168 200-219 98-71 122-77 40-4 53 2 22 17 29 38 10 51-3 102-41 117-83 176-98 111-161 154-135 74-215 94-166 31-268 31-204-4-240 4-51 14-88 53-119 150-158 186-39 28-42 29-5 0-6-1-2-3-2-6-4-5 18-32 75-67 135-94 126-44 201-48 116-2 122-4 7-3 11-13 10-41 60-117 121-173 192-268 145-188 216-267 140-139 189-171 81-39 106-41 44 6 60 21 30 37 37 76 7 92-9 164-47 149-89 221-95 138-156 193-129 99-204 132-158 55-245 66-181 10-271-1-177-37-222-58-21-12-21-13-1 0-1 0 0 0 1 1 8 6 16 29 12 52 2 93-49 104-50 106-1 2-1 2 0 1 0 1-2 2 4-2 92-51 150-64 107-8 118-4 12 6 13 9 2 4 0 11-21 36-85 101-129 114-154 126-28 8-33 6-8-3-10-8-4-9 1-24 24-51 68-91 99-71 165-94 155-35 173-45 16 5 60-72 104-166 171-259 140-188 211-270 140-149 191-184 82-45 105-47 40 4 54 15 25 29 31 61 6 80-11 145-52 133-97 197-101 120-164 165-135 81-214 105-167 37-263 40-232-9-306-11-84 8-102 20-38 35-80 108-18 35-18 36 1 1 1 1 1 1 4 0 73-36 133-49 112-8 128-3 18 9 20 13 3 7 1 15-18 38-77 98-117 103-136 111-21 5-25 4-5-3-7-7-3-6 3-21 29-51 73-86 101-65 172-84 122-28 135-37 22-31 67-105 112-170 180-264 140-188 211-269 142-147 193-182 82-44 106-46 42 4 57 17 27 30 34 64 6 83-10 150-49 140-92 207-98 126-161 175-133 87-210 114-164 43-257 49-197 1-307-10-137-7-152-1-21 10-32 31-25 84-25 91 2 8 4 10 1 4 15 3 115-24 153-21 43 9 48 14 7 8 7 14 4 11-21 45-95 97-114 108-16 6-18 5-3-1-4-2-1-2 0-8 9-21 50-53 93-54 163-71 57-14 57-14 0 0 0 0 0-1 0-1 0 0 0 1 4-12-46 34-142 143-205 194-96 63-113 66-24 1-31-3-11-12-13-23-5-28 14-71 62-87 111-130 109-79 175-102 182-33 218-41 38-11 56-33 74-125 134-215 129-183 197-265 138-149 187-183 75-41 95-43 33 3 44 13 20 24 24 52 1 74-20 132-60 121-110 178-109 102-176 139-143 62-227 77-177 19-288 16-163 1-194 12-45 17-102 86-124 142-141 153-16 8-18 8-3-1-4-2-1-3 0-8 8-20 46-54 97-66 162-86 146-24 217-23 38-3 40-5 2-2 3-4-1-2-1-3-2-1-3-1 1-5-15 8-92 99-164 185-150 172-215 230-112 83-140 92-44 7-58 1-24-17-31-35-13-46-4-97 37-108 77-172 92-122 151-169 127-83 200-107 151-36 230-35 183 21 200 21 21-4 28-12 26-60 65-135 98-160 155-224 102-97 123-107 27-7 34-5 11 6 14 13 6 17-2 42-33 72-77 118-101 85-168 114-139 47-225 54-191 4-219 11-37 7-74 51-116 155-185 239-141 160-194 202-80 49-97 52-27-2-35-8-15-14-18-33 0-48 20-97 60-106 111-155 113-90 183-119 148-48 236-56 201-3 234-10 44-11 74-46 105-146 168-222 126-133 157-152 40-17 48-17 13 5 16 10 7 11 5 29-18 51-53 96-88 89-150 122-131 57-212 69-197 10-229 17-39 8-70 44-106 145-174 231-141 169-200 222-97 69-118 75-33 3-42-2-18-13-22-29-6-39 8-85 47-104 93-156 104-99 171-133 141-59 224-72 212-9 274-13 71-10 94-29 73-89 135-171 129-153 170-184 51-29 60-29 13 2 17 6 6 8 6 20-6 32-35 73-77 86-135 121-126 61-203 75-199 13-234 19-41 9-67 37-98 134-165 222-140 175-205 239-116 94-143 105-43 9-54 5-21-11-28-25-11-33-3-74 31-99 71-156 93-109 155-150 133-73 211-93 161-29 265-28 152-2 176-12 32-8 85-82 123-168 175-220 75-59 86-62 14-1 17 1 6 5 7 12 3 13-13 42-56 76-109 113-117 66-190 83-195 18-240 23-46 8-65 26-79 107-145 196-139 181-208 257-136 134-177 159-64 27-80 26-29-7-38-18-17-28-18-60 8-85 36-144 74-121 128-173 117-95 189-127 150-52 236-61 215-3 285-3 75-7 95-21 54-66 110-144 114-135 135-150 23-10 26-10 6 1 7 3 2 4 0 12-10 29-46 65-94 73-159 97-134 35-221 37-95 4-105 10-20 23-73 101-123 172-194 263-144 181-213 249-125 108-161 125-58 17-76 13-31-13-42-30-20-43-18-88 16-107 47-174 76-134 130-191 117-104 188-140 148-61 233-75 176-16 276-8 177 16 195 12 25-7 39-27 61-121 98-172 33-38 34-39 1 0 1 0 1 0 0 0 1 0-2 3-39 38-95 65-125 43-185 46-84-8-89-11-5-5-6-8-3-2 4-13 83-98 153-168 134-119 163-133 38-11 46-9 13 5 16 12 7 16 2 38-24 65-66 112-97 85-160 116-124 46-219 58-91 15-107 28-46 64-102 151-123 181-192 267-142 165-198 212-92 62-115 67-38 2-50-5-22-18-27-40-8-56 6-108 46-118 90-176 102-109 166-150 137-70 218-89 169-27 274-26 189 3 221-6 46-14 90-64 124-155 159-184 32-22 35-22 5 0 6 2 2 2 2 6 2 9-25 39-81 69-142 95-128 41-206 44-103 2-109 5-2-11-21 31-67 114-132 204-136 187-209 277-147 172-211 229-112 84-145 96-54 9-73 2-33-20-45-43-20-61-16-118 23-127 55-201 79-144 133-205 117-112 187-152 147-68 231-86 174-25 266-21 188 22 272 45 42 10 44 9 4-2 5-5-5-29 0-72 44-126 47-132 1-4 1-5 0-1-1-1 10-6-9 3-111 52-167 59-87 0-95-4-9-7-10-10-3-5 2-16 52-70 115-129 105-82 119-86 17-2 21 0 6 4 7 9 4 7-7 31-46 62-95 97-103 62-181 80-108 25-121 36-34 50-85 131-118 178-188 271-143 186-213 260-133 128-177 153-69 29-90 28-37-9-49-24-24-38-28-77 3-100 27-168 64-136 112-198 108-116 174-159 140-74 222-95 171-32 270-32 238 15 299 15 67-7 82-18 32-35 57-94 11-34 10-35-1-3-2-4 15-8-20 3-130 37-172 36-49-10-54-14-7-8-8-13-5-7 18-40 100-109 135-133 35-16 39-16 6 2 7 3 2 4 1 9-3 19-36 52-86 65-148 87-130 33-139 39-12 7-17 24-6 53-40 114-104 160-172 256-139 193-212 281-146 169-209 222-108 78-142 89-57 9-78 1-37-24-51-52-23-69-20-131 18-141 48-219 73-154 125-221 114-123 181-170 142-81 224-106 170-37 263-40 194 4 281 21 149 44 166 56 15 14 16 17 0 4-1 6-3 3-7 4-19 0-37-10-32-27-39-46-10-39 0-73 47-90 48-92 0-1 0-2 0 0 0 0 1-1-3 1-86 47-139 58-79 4-85 2-6-4-7-7-2-3 1-10 41-55 104-113 104-79 117-83 16-2 19 0 5 3 6 8 3 9-7 30-44 62-94 96-104 56-191 76-75 21-87 34-41 73-94 157-124 180-193 274-142 186-213 261-134 128-178 153-72 31-94 30-39-10-52-25-26-38-30-80 1-98 23-168 59-143 106-208 104-121 169-167 138-80 218-104 169-37 265-40 212 7 314 16 108 2 120-4 18-10 26-30 13-65 11-73-5-10-9-12 23-11-46-2-114 6-129 0-18-10-20-15-5-9-1-20 28-51 70-90 47-33 49-34 3 0 4 1 1 1 1 2 4-1-10 16-59 51-113 72-100 24-102 24-1-1-1-1 0 0 0-1-24 21 30-27 142-135 194-171 65-34 75-34 13 3 17 6 7 11 6 21-1 24-33 70-80 77-135 110-123 54-204 71-65 18-81 35-58 98-116 186-128 186-197 276-143 176-208 237-114 91-147 103-52 12-69 7-30-17-40-37-18-49-14-100 24-116 57-183 81-131 137-185 121-98 193-130 153-55 243-67 187-11 300-5 170 4 199-6 41-14 78-62 63-90 63-91 1-2 1-2-1 0-1 0 19-10-37 19-119 47-174 51-77-7-84-11-8-7-9-11-4-5 6-23 76-94 137-149 93-69 105-71 16-2 19 0 6 5 7 11 3 12-11 38-52 69-103 104-110 58-191 76-102 23-116 34-39 59-92 143-122 179-192 272-144 183-212 253-128 116-168 136-62 22-81 19-34-12-46-28-22-42-22-85 9-105 37-174 71-134 123-193 113-109 181-147 145-67 229-85 176-23 279-21 225 15 263 11 49-12 66-28 71-117 75-127 2-7 2-7-1-2-2-2 24-13-16 5-125 48-177 51-71-7-78-12-9-7-9-12-4-5 7-25 78-97 133-143 74-49 82-51 10 1 13 3 4 4 4 9 2 11-17 39-63 69-117 98-153 53-202 65-41 14-54 30-53 99-112 186-128 186-199 278-145 181-214 250-126 111-165 130-63 21-83 17-36-13-49-31-23-45-25-92 10-114 37-184 68-142 119-204 112-115 179-157 143-73 226-93 173-30 271-30 234 18 306 23 67-3 76-9 14-6 22-35 11-77 10-82-4-8-8-10 15-8-60 4-107 7-122 2-16-10-19-14-3-9 0-20 29-51 73-92 54-40 58-40 4 0 5 0 1 2 1 3 4 1-9 17-58 53-113 75-119 33-120 33-1 0-1 0 0 0 0-1-8 6 2-2 109-102 178-163 112-83 131-89 25-2 31 1 10 8 12 16 5 19-7 49-46 78-95 120-108 74-176 97-167 33-189 42-21-3-57 57-101 167-166 259-135 185-205 264-138 141-184 171-72 36-92 36-35-5-47-17-22-28-25-61 1-82 23-145 60-130 109-188 108-108 175-147 142-67 226-85 174-22 281-20 204 6 241-2 53-16 89-54 116-138 124-145 6-4 7-4 0 0 1 0 0 1-1 2 8-1-27 27-97 60-161 76-140 14-165 9-20-7-22-9-2-4-1-7-8 1 54-67 143-154 202-202 87-56 102-59 22 1 28 5 10 9 11 21 2 33-17 72-63 89-115 130-115 74-184 95-185 29-215 36-36 10-58 39-86 140-149 230-133 182-201 257-133 131-173 154-60 26-77 25-28-7-37-19-17-27-17-60 10-86 38-145 73-119 128-170 118-92 190-123 152-50 241-59 220-3 294-4 89-11 115-28 76-81 136-154 100-101 111-107 13-4 15-3 4 2 5 4 2 5-2 16-29 45-75 80-108 65-177 82-185 17-218 20-29 5-38 15-45 73-105 158-131 182-203 272-146 176-212 237-117 92-150 104-54 12-71 7-32-17-42-37-19-50-16-102 22-120 55-190 80-136 135-193 120-105 191-141 151-61 236-75 177-16 273-8 199 25 218 24 23-6 30-14 24-67 55-128 46-77 46-78 1-1 1-1 0 0-1 0 36-25-12 8-109 59-169 71-116 7-131 2-15-8-17-11-2-6 0-12 20-35 85-104 137-129 170-147 39-14 45-13 10 3 13 8 5 9 2 24-16 49-53 90-93 79-155 107-175 43-216 54-42 12-61 36-80 128-142 219-133 186-204 271-143 160-199 204-90 56-114 60-40 1-54-8-24-22-31-48-8-66 6-125 45-127 89-190 99-117 162-162 134-79 213-102 166-34 263-37 233 9 286 6 68-12 92-31 82-106 122-152 24-26 25-26 1-1 1-1 0 1 0 1 2-1-3 4-57 48-115 71-131 35-182 33-57-9-60-12-4-4-5-7-9 5 12-23 114-129 181-191 112-88 132-95 27-3 33-1 10 7 12 15 6 20-5 49-43 76-91 120-107 78-173 102-182 36-221 44-40 12-60 37-81 129-143 219-133 184-202 264-138 145-185 177-73 37-92 38-32-4-43-14-20-26-23-55 1-77 24-136 62-123 112-179 112-102 180-138 144-61 229-75 179-18 289-14 152-1 180-13 40-15 97-89 121-142 137-153 15-7 17-7 3 1 3 2 2 2 0 7-6 18-44 51-97 67-162 86-138 25-214 22-40 2-41 2 0 1 0 1 0 0 0 0 0 1 1 1-3 6 14-8 92-99 165-183 150-166 212-218 100-67 124-73 37-2 48 4 21 16 26 36 8 49-5 100-46 117-91 175-102 110-165 149-135 69-210 85-149 19-242 10-93-5-104 0-4-18-39 55-87 163-145 242-125 149-167 180-57 33-68 33-18-2-23-7-10-13-10-29 5-44 32-90 73-96 130-136 121-72 197-92 157-27 261-27 120-6 143-19 47-35 112-121 135-175 200-243 119-104 145-116 38-9 48-7 15 8 20 18 8 22 2 53-30 83-71 134-96 97-160 132-136 60-217 74-210 11-258 17-56 11-80 34-87 114-151 198-135 162-186 205-75 48-89 50-21-1-27-5-11-11-13-25 0-35 21-78 63-96 116-139 116-79 189-102 149-35 249-38 135-7 158-18 38-24 100-110 131-176 197-248 125-117 155-132 42-14 52-12 17 7 22 16 9 19 5 47-24 76-61 126-91 99-152 136-133 65-212 81-203 15-269 19-71 11-94 29-74 90-138 175-134 166-190 215-83 59-99 63-23 0-29-4-12-9-14-22-2-30 16-70 56-93 107-137 113-81 183-106 147-39 243-43 149-7 172-17 33-14 92-96 129-176 196-251 130-127 164-147 48-18 59-17 18 6 24 14 10 18 7 44-18 70-52 121-86 101-146 140-129 70-207 88-179 21-269 24-92 9-115 24-59 63-123 149-132 170-191 226-92 70-109 75-25 2-32-1-11-8-14-19-4-25 10-62 50-88 98-133 110-84 179-110 145-42 237-48 160-6 184-16 31-8 86-83 127-175 195-253 134-137 172-161 54-24 66-24 20 6 26 13 12 17 10 41-12 64-43 115-80 103-138 145-126 74-202 95-157 29-261 30-123 7-146 20-43 32-106 119-130 173-191 234-102 85-121 91-27 5-34 2-12-7-15-16-5-20 6-53 42-82 88-128 105-85 173-113 143-45 232-52 169-7 194-16 31-6 81-73 124-172 192-252 138-147 181-176 62-32 75-32 23 4 29 11 13 16 13 38-7 59-35 110-73 105-129 149-121 80-195 104-153 35-252 38-157 4-181 15-34 10-89 85-127 173-189 240-112 101-134 110-30 8-37 6-11-7-15-14-6-16 2-43 33-74 76-120 101-87 167-116 140-49 226-57 177-7 203-15 31-6 76-65 122-168 190-250 140-155 189-191 72-42 87-43 25 2 33 9 14 15 15 35-2 54-25 103-66 107-119 154-116 86-188 114-150 43-241 49-191 3-221 11-40 11-78 56-114 158-177 231-121 119-147 133-34 12-41 10-12-4-15-10-6-13-2-34 23-62 62-107 95-87 159-118 137-52 221-61 182-8 208-16 32-5 73-57 117-163 185-248 142-163 197-208 85-55 104-58 29-1 38 6 16 14 19 32 4 49-15 97-55 107-104 158-111 94-179 126-146 53-231 63-216 5-263 11-57 12-82 34-86 115-149 193-127 142-160 165-42 20-50 20-11-3-15-7-6-10-4-24 10-44 43-87 87-85 148-118 132-55 212-66 188-10 215-17 32-5 67-47 111-155 179-243 142-171 204-228 104-77 128-84 37-5 48 0 19 14 24 30 10 40-2 85-42 105-85 161-100 105-164 143-136 67-217 84-172 21-276 19-118 5-140 17-40 29-101 115-126 164-173 205-60 41-68 43-12 0-16-3-5-6-5-14-1-19 21-54 68-80 125-115 122-61 198-75 195-13 226-18 35-7 59-34 96-133 163-222 141-180 209-251 129-116 164-134 54-18 69-15 26 9 34 22 15 32 13 69-17 95-50 155-82 118-139 167-124 88-198 116-155 44-245 50-221-3-265 0-54 11-76 30-76 107-131 178-103 109-118 117-16 5-19 4-5-2-6-4-3-4 1-16 25-43 68-79 104-71 171-91 153-27 233-28 59-7 70-15 40-56 100-140 130-180 202-269 146-173 210-229 109-82 138-92 48-8 64-2 27 18 36 39 15 53 8 105-30 121-68 187-89 127-148 178-126 92-200 122-157 49-245 56-190 2-291-8-99-3-113 4-11-10-51 66-96 154-111 168-10 7-10 8-1 0-2 0 0-1 0-2-9 7 17-18 85-62 147-81 139-27 187-23 41 9 43 11 3 3 3 6 22-19-20 29-131 145-199 210-119 95-142 103-32 6-40 3-13-8-16-17-7-24 2-54 39-77 86-127 104-84 167-113 127-45 222-54 96-13 111-25 40-52 95-138 120-180 188-265 140-162 195-207 86-56 107-60 35-1 46 6 19 18 24 39 5 56-11 108-51 116-98 171-105 104-171 141-141 64-224 79-176 20-285 17-144 4-172 16-44 22-106 101-130 154-160 176-31 16-35 17-7-2-8-4-3-4-2-11 5-23 38-58 87-75 149-101 131-41 216-45 110-6 121-13 20-18 72-95 121-173 192-264 146-179 213-247 125-107 161-123 56-18 74-14 30 13 40 30 19 42 17 86-16 109-48 176-78 130-133 185-119 102-191 136-150 58-235 71-176 14-280 5-155-11-173-6-23 6-44 38-82 146-113 182-22 21-22 21-2 1-2 1 0-1 0-1-4 3 5-8 64-53 123-77 130-37 188-37 68 10 71 12 4 4 4 6 6-2-6 15-106 120-176 190-132 114-161 127-38 11-46 9-14-7-18-14-7-19-2-44 26-68 70-119 99-85 161-117 125-50 212-61 116-15 132-25 32-35 85-121 118-179 186-266 140-168 199-219 96-68 119-74 38-4 50 2 21 16 27 36 8 49-4 99-43 114-87 171-100 108-164 148-137 70-217 89-168 26-274 25-178-1-209 9-44 14-94 73-128 159-166 191-40 25-44 26-7-1-8-2-3-4-2-9-1-13 25-46 79-72 139-100 128-46 207-51 127-6 138-11 8 3 53-67 112-163 182-255 144-185 214-261 136-130 180-156 69-29 89-28 35 8 47 22 23 35 26 73-4 93-29 161-64 136-114 196-109 114-176 155-142 71-223 91-171 27-266 24-224-21-255-20-36 7-47 17-34 66-72 131-57 82-57 82-1 1-2 2 0 0 1-1-6 6 4-4 79-57 140-76 136-25 174-21 36 9 39 12 3 5 3 9 17-11-30 44-135 146-194 196-87 57-101 59-19 0-24-3-8-8-9-17-2-27 16-62 60-84 113-123 116-69 188-87 162-26 183-35 17 5 63-68 109-173 176-264 138-181 206-253 128-117 165-136 57-20 73-18 29 11 39 25 17 33 16 72-14 95-45 158-76 124-130 176-119 95-192 126-152 52-241 62-209 4-301 3-109 7-135 21-56 49-116 126-93 99-99 103-7 2-8 2-2-1-2-2-1-2 2-8 22-34 70-66 111-59 179-72 174-6 184-4 5 1 5 2 0 0 0 1 18-18-22 20-119 135-194 213-145 141-189 167-63 28-77 27-23-5-31-14-13-20-13-46 10-71 39-125 77-111 133-157 121-82 191-106 142-33 233-33 114-3 128-10 11 6 59-81 104-172 167-254 132-156 180-193 70-42 85-43 24 1 31 7 14 16 15 34-1 49-24 98-65 104-118 150-115 84-186 110-151 42-243 48-201 1-236 9-47 13-86 54-118 153-183 225-123 118-149 132-35 12-42 10-12-5-16-11-6-13-2-36 25-63 65-108 95-89 159-120 135-52 219-62 180-9 206-17 31-5 73-60 118-166 186-250 141-162 195-205 82-52 100-55 29 0 37 7 16 14 19 33 2 47-18 96-57 108-107 158-111 92-180 123-147 52-234 61-214 4-256 10-54 12-81 38-94 125-157 202-126 136-157 156-39 18-47 17-12-3-15-8-6-9-3-25 14-48 49-91 88-86 150-118 132-55 214-65 185-9 211-16 31-5 68-52 114-159 183-245 142-170 202-223 99-71 121-78 36-3 46 2 18 14 24 31 7 43-6 89-44 107-90 162-103 102-168 139-139 64-221 79-186 16-280 16-98 7-120 20-50 48-111 133-127 160-170 196-55 35-63 36-12-1-15-3-5-7-5-16 0-25 25-61 73-82 131-116 126-59 203-72 191-12 220-17 33-6 60-38 101-141 169-230 141-178 208-246 124-108 157-123 50-14 64-11 24 11 32 25 14 32 10 72-23 98-58 158-85 117-144 163-127 84-202 110-157 40-249 44-212-5-248 1-46 11-71 37-90 129-145 195-95 94-107 99-15 4-17 3-5-3-6-6-4-6 3-21 34-52 81-88 108-69 177-88 177-22 235-24 47-7 60-18 54-76 116-163 134-182 206-268 145-165 204-213 97-65 123-71 42-2 56 6 25 20 32 44 11 59-2 115-41 126-83 189-96 122-158 168-132 84-210 109-161 38-253 42-228-13-279-13-55 6-69 17-42 63-86 132-84 106-89 110-5 3-6 3-1-1-2-1 0-2 1-5 9-17 53-49 107-61 172-74 153-12 178-6 16 5 17 6 1 2 1 4 10-9-50 57-141 157-209 220-117 91-141 99-34 6-43 3-15-10-19-21-8-25 2-62 40-89 84-139 100-94 164-126 134-53 215-62 152-10 170-17 16 5 58-64 105-173 170-260 136-170 195-223 96-72 118-78 34-4 45 1 18 14 23 30 7 42-5 87-45 103-90 157-103 100-168 137-138 61-221 76-188 16-286 16-112 7-139 22-57 48-123 132-133 156-173 186-47 27-54 27-11-1-14-5-5-7-5-17 4-31 33-69 81-82 141-114 129-55 207-66 174-11 196-18 23 2 64-54 115-164 184-253 143-175 208-237 114-91 142-102 45-9 58-4 23 13 30 29 13 38 5 82-31 106-70 165-91 115-152 159-130 79-207 103-161 35-257 36-199-4-229 2-42 11-71 45-101 146-154 205-79 72-88 75-11 2-14 1-4-4-4-7-4-5 6-25 46-61 98-96 114-63 186-78 190-14 220-18 30-5 44-21 73-106 137-195 137-184 209-268 145-159 201-201 88-54 112-57 40 0 53 9 25 24 31 51 8 70-7 130-48 128-93 192-100 119-164 164-134 80-213 103-164 37-256 38-229-15-273-15-49 6-63 17-38 62-81 131-78 101-82 104-4 2-4 2-1 0-2-1 0-1 1-3 8-15 52-46 107-58 173-71 145-8 164-3 14 5 15 7 1 3 0 6-2 6-67 78-144 157-206 209-96 65-114 69-26 1-33-3-12-11-15-23-4-33 13-74 58-90 107-136 110-83 177-108 152-37 235-44 71-11 87-24 49-71 105-159 122-179 190-261 137-151 185-186 73-40 90-41 30 2 39 11 17 20 20 45-1 66-24 120-63 115-115 167-113 94-183 126-147 53-234 64-216 6-290 8-88 10-115 28-75 80-138 157-119 126-140 138-24 8-28 8-7-3-8-6-4-5 0-18 19-42 60-80 98-75 163-99 135-35 230-39 88-8 101-17 41-49 101-134 130-179 201-266 145-169 205-220 101-70 127-77 42-4 55 3 24 19 32 40 11 55-1 108-40 120-81 182-96 119-158 164-131 81-209 105-163 37-256 39-223-11-262-7-49 9-67 26-68 102-116 166-75 81-80 83-6 2-8 2-1-1-2-2-1-2 3-10 29-40 79-72 115-58 184-70 181-4 189-2 3 0 3 0 0 1 0 1 16-15-13 11-107 117-181 198-149 156-201 193-78 42-95 43-28-3-37-10-16-19-18-40 0-60 24-115 69-106 120-157 112-93 179-123 140-48 219-54 172 1 191-3 25-6 42-30 72-135 130-219 126-169 184-226 97-77 117-84 30-4 39-1 14 11 18 23 7 31-5 69-43 93-89 143-105 92-172 124-142 53-227 64-215 5-265 10-62 12-90 37-94 114-160 195-136 152-179 182-57 31-67 31-17-3-22-8-9-11-8-27 7-43 35-88 76-94 133-132 125-68 201-86 199-19 257-24 62-11 85-30 77-100 142-187 137-174 200-236 110-90 134-99 36-7 46-3 17 10 22 22 8 29-1 67-37 93-80 145-98 99-163 135-137 61-219 76-208 12-273 15-73 11-96 29-74 89-137 172-133 159-180 198-65 40-76 41-17-1-21-5-9-10-9-22 2-30 26-72 70-89 125-128 121-70 195-88 190-22 258-26 68-11 89-28 71-88 136-176 137-176 203-244 121-106 150-119 43-12 54-9 20 9 26 21 11 26 5 62-28 89-66 143-91 105-152 145-132 71-211 90-165 25-270 24-121 7-144 19-42 30-104 117-128 169-183 219-79 59-91 62-18 1-22-2-9-7-10-15-3-18 15-53 57-81 109-121 115-72 187-93 172-26 253-29 76-10 96-24 62-75 126-163 136-179 205-254 132-127 170-148 55-22 69-20 24 7 32 18 13 23 12 54-15 81-46 138-80 113-137 159-124 83-198 108-155 40-249 44-195-1-226 7-41 11-74 50-109 153-168 219-102 96-119 104-21 5-25 3-8-4-9-9-4-9 3-30 34-63 80-103 106-76 174-99 141-33 239-36 97-8 114-19 45-49 107-135 132-179 203-262 142-156 194-193 79-46 99-48 32 2 43 10 19 21 22 46 2 66-18 122-60 117-109 173-110 102-177 138-144 61-227 75-182 14-283 11-109 4-130 15-36 26-94 110-120 157-155 186-38 23-43 24-7-1-9-3-3-4-2-10 1-19 29-52 80-76 140-104 131-47 210-54 144-5 157-10 8 10 55-61 113-164 183-255 144-183 214-255 131-121 171-142 62-22 80-20 31 10 42 24 20 37 21 77-11 97-40 163-72 131-125 188-115 104-185 140-147 62-231 76-174 17-277 10-165-11-184-6-26 7-48 39-85 145-120 186-29 27-31 28-2 0-2 0-1 0-1-1-3 3 7-11 61-55 120-81 128-40 192-42 87 8 91 11 3 3 4 4 2 1-3 9-81 91-154 168-146 142-189 168-58 26-69 26-19-5-25-11-10-15-9-36 11-61 42-109 80-100 138-139 124-69 197-86 189-19 218-26 36-9 55-34 81-135 143-223 131-179 197-249 123-115 156-131 49-17 63-14 22 9 30 21 13 29 10 63-21 87-56 144-84 112-142 156-126 79-202 103-159 35-257 38-201-2-236 7-51 15-90 57-122 155-178 211-83 68-94 72-14 1-18 0-5-5-6-10-4-13 9-38 51-70 103-108 117-66 189-83 192-19 231-24 41-8 60-28 82-115 148-204 138-182 208-260 138-137 182-164 67-31 85-30 30 6 41 17 18 27 20 59-6 83-32 143-68 124-121 178-115 99-185 134-147 57-232 69-187 11-287 7-108 2-128 12-32 22-88 105-114 151-140 171-24 14-27 14-5-1-6-2-2-3-1-8 2-13 34-47 88-70 150-95 131-38 211-39 99-2 106-6 3 3 33-49 95-143 162-236 140-188 213-272 145-157 201-199 92-55 118-59 45 0 61 10 29 27 37 58 11 74-1 139-41 139-81 209-93 133-153 186-128 96-203 128-158 52-246 61-181 7-275-6-176-32-186-32-12 3-15 7-3 20-16 75-55 129-56 132-1 3-1 3 0 0 1 0-8 6 7-3 109-54 166-64 104-4 115 1 12 7 14 10 2 6-1 14-34 51-98 115-124 107-145 116-25 6-30 5-7-4-9-8-4-9 2-27 30-57 74-95 100-71 168-92 153-33 171-42 17-1 63-80 109-169 176-262 139-186 210-266 139-142 187-174 77-39 99-40 37 5 51 17 24 31 29 65 2 86-18 151-56 134-103 197-106 115-171 158-138 76-219 98-169 33-267 34-236-13-292-11-67 10-85 24-68 92-93 135-7 13-8 14 1 1 1 1 0 0 3-1 67-36 127-52 120-15 142-10 23 9 25 13 4 7 2 13-2 19-59 81-129 123-159 139-32 11-37 10-7-3-9-6-4-8-1-19 14-37 57-79 96-69 159-92 155-38 174-47 12 9 52-61 98-160 164-253 139-189 210-274 144-159 200-203 93-57 119-62 45-1 60 9 28 26 36 55 12 70 0 133-41 133-82 201-93 128-153 179-129 90-205 120-160 47-252 55-193 4-305-5-147-6-166 1-27 10-45 40-37 90-38 94 1 5 2 6 2 2 7 2 79-27 135-34 85 2 94 7 12 9 14 13 4 7-3 23-55 75-105 119-67 46-73 47-7 0-9-2-3-2-3-6-3-6 13-28 62-62 118-89 156-47 175-54 18-10 21-16 3-16 2-22-4-7-6-8-3-2-8-1-12-2-74 68-146 168-218 240-135 119-172 137-55 18-70 16-26-10-35-23-16-32-14-70 17-97 50-160 84-116 141-168 121-89 190-117 143-43 219-45 182 16 201 16 21-4 28-11 21-50 60-127 96-163 157-238 123-134 158-156 49-22 60-22 18 5 24 12 10 16 8 38-13 63-45 113-81 99-140 139-127 70-204 89-162 25-267 25-127 5-151 18-47 32-113 117-136 173-198 234-103 84-123 91-28 5-36 1-12-8-15-18-6-23 5-57 43-84 89-130 106-88 173-116 141-48 229-55 173-8 198-17 32-6 79-69 123-171 190-251 136-146 179-176 60-30 73-30 21 4 28 11 11 16 11 37-8 56-36 107-74 103-130 146-122 78-196 101-153 33-255 35-145 6-169 17-36 17-96 99-129 174-192 239-110 97-131 106-30 7-37 4-13-7-16-15-7-17 2-47 36-76 80-122 101-88 167-118 140-49 226-57 182-8 208-16 34-7 76-61 120-166 188-248 139-154 186-189 70-38 84-40 24 3 31 10 13 15 15 35-4 52-28 102-68 105-122 150-117 84-190 110-151 40-244 44-177 4-204 13-35 9-81 68-122 168-185 239-119 113-144 126-34 10-41 9-12-7-16-13-7-13-1-38 28-65 68-110 96-89 160-120 136-52 220-62 188-8 215-16 35-7 73-55 116-160 184-244 140-161 194-204 81-51 98-53 28 0 36 6 15 15 18 33 1 46-19 95-59 106-109 155-112 91-182 121-147 48-235 57-207 3-243 10-48 12-78 43-102 140-165 216-126 133-157 152-40 17-48 17-12-5-16-10-6-11-4-28 17-51 53-95 88-89 150-121 132-56 213-67 193-10 222-17 36-7 69-47 110-152 178-238 142-169 201-221 96-68 117-74 33-2 43 3 17 13 22 30 6 40-8 86-48 106-94 158-104 100-170 135-142 59-225 73-209 10-276 12-76 11-98 28-69 82-130 163-129 154-170 185-51 30-59 30-13-2-16-5-6-8-6-19 5-32 33-72 77-86 136-120 126-60 204-74 197-12 229-18 37-8 65-38 100-139 168-227 141-176 206-239 115-95 144-106 43-10 55-6 22 11 28 25 12 35 5 76-31 101-70 158-94 110-155 152-132 75-210 96-161 30-262 30-164 0-189 9-32 7-79 70-120 167-172 221-77 63-88 66-14 2-17 0-5-5-6-10-3-13 11-39 52-73 104-110 118-66 191-83 194-17 237-21 43-8 61-26 77-106 143-195 138-182 209-260 138-138 183-166 68-32 85-31 31 7 41 18 19 25 20 57-6 75-32 136-67 123-119 177-113 101-183 135-147 58-232 70-189 10-286 6-104 3-123 14-35 26-91 110-116 151-144 174-28 17-32 17-5-1-6-2-2-4-2-9 2-17 32-51 87-71 149-97 132-40 212-43 113-3 122-8 6 2 48-64 108-158 178-251 143-186 214-265 139-138 187-168 75-35 96-35 38 6 52 19 24 34 29 70 1 89-20 156-58 139-105 203-104 120-169 165-138 79-218 103-166 34-258 35-220-17-288-25-56-1-64 4-3-23-30 52-81 160-84 163-2 3-2 3 0 0 0 0 1 0 2 0 27-25 84-50 126-40 177-41 64 9 69 12 5 6 6 10 6 0-9 22-101 117-165 175-102 75-117 79-20 2-25-1-8-5-9-13-4-16 10-45 49-76 98-114 111-69 182-88 155-28 174-38 18 1 68-80 111-174 178-265 140-184 209-257 131-124 171-146 63-25 81-23 32 9 42 23 20 33 21 71-10 95-37 159-70 129-123 184-114 103-184 138-148 60-234 74-180 15-291 11-166-3-195 7-38 10-84 70-107 132-112 136-4 3-5 3-1 0-1-1 0 0 1-2-3-5 38-35 103-59 168-73 139-9 158-4 16 6 17 8 2 4 1 7-2 9-67 80-145 155-202 200-83 51-98 53-21-1-26-5-10-11-12-23-1-35 20-77 66-90 119-132 115-73 185-93 185-28 217-36 35-10 57-38 85-138 147-227 133-182 201-257 132-129 171-151 59-25 75-24 27 7 36 19 17 28 17 60-11 86-40 145-75 118-130 168-119 91-191 121-153 48-243 56-224 1-290 4-82 12-109 31-81 92-141 162-98 98-110 103-13 3-15 3-4-3-5-5-3-4 3-17 31-49 78-85 109-65 178-82 187-18 221-21 31-6 42-18 57-87 119-174 134-184 206-272 146-170 208-224 106-76 135-84 48-6 63 1 29 20 38 43 15 57 7 113-33 124-71 192-88 130-147 182-125 95-199 126-156 51-245 59-180 6-286-5-131-11-145-6-17 3-34 34-72 144-101 180-9 10-9 11 0 0 0 0-19 14 15-13 97-59 159-75 133-14 156-8 21 8 23 11 3 4 2 9 3 8-60 76-142 147-191 182-64 35-74 35-15-2-19-6-7-9-7-21 4-37 31-77 75-86 133-121 119-58 200-73 125-20 141-31 34-36 88-122 119-180 188-269 141-176 205-237 114-91 144-102 48-11 62-6 27 15 35 33 15 42 9 89-28 111-65 173-86 122-145 170-126 86-201 114-159 43-252 49-229-4-295-2-81 11-106 30-79 91-131 152-62 61-66 62-4 2-5 1-1-1-1-2-2 0 5-10 42-48 96-78 121-49 189-57 131 4 135 5 3 2 3 2 0 2 0 3-21 19-88 93-147 164-212 221-108 78-130 85-34 4-43 0-15-13-20-26-7-32 6-75 47-95 93-147 102-95 167-128 134-54 213-63 168-7 188-13 25-4 50-42 91-157 152-243 132-172 192-229 101-80 123-87 35-6 45-1 17 11 22 25 8 36-3 77-40 99-85 152-102 98-167 133-138 61-221 75-196 14-283 15-98 9-124 25-66 63-132 147-135 157-178 190-55 32-64 33-13-2-17-5-6-9-6-20 3-34 30-74 77-85 136-120 126-61 203-75 195-15 227-21 38-9 65-40 101-141 169-230 141-175 206-238 113-93 141-104 42-9 54-5 21 12 28 26 11 36 3 78-32 98-72 155-94 110-156 151-131 73-209 93-162 29-265 29-157 1-182 11-33 8-85 79-123 168-175 219-73 57-83 60-13 1-17-1-5-5-6-11-3-14 13-43 58-75 111-111 118-65 191-81 196-17 235-21 42-8 61-28 83-114 149-203 139-181 209-257 136-134 178-158 63-28 80-27 29 8 38 19 18 28 19 61-8 85-36 146-73 121-127 173-117 97-188 129-149 54-235 64-208 4-287 3-83 6-103 18-47 53-102 132-114 140-136 156-23 11-27 11-5-1-6-2-2-4 0-10 7-25 42-60 92-72 156-96 134-36 219-37 94-4 103-9 13-14 62-87 118-169 188-261 145-183 215-256 133-123 174-145 65-25 85-23 34 10 46 25 23 38 24 79-6 103-33 171-67 137-118 197-113 112-180 153-144 70-226 89-171 26-265 23-224-25-254-25-33 5-42 13-21 45-53 111-66 105-67 106-1 1-1 1-1 1 2-2 67-50 127-71 133-28 175-25 41 10 44 13 3 5 3 8 17-10-23 38-129 142-189 192-89 59-102 61-19 0-23-3-8-8-10-17-2-21 17-57 60-82 112-120 113-68 186-86 156-26 176-35 17 2 67-79 111-174 178-265 140-182 207-253 128-115 164-134 58-20 74-17 30 11 39 25 18 35 17 75-15 96-46 159-75 126-130 178-118 96-190 128-152 53-241 64-202 6-301 3-119 6-145 19-49 36-109 115-93 102-98 105-6 2-7 2-2 0-2-1 0-1 2-6 19-29 66-61 111-57 178-69 155-5 168-2 8 3 8 4 1 1 1 2 4-5-57 62-143 159-212 223-118 94-144 104-36 6-46 2-16-9-21-20-8-30 1-66 37-86 82-140 102-93 164-128 131-56 208-67 171-10 191-17 25-4 50-42 91-155 152-242 133-173 194-234 108-89 133-99 38-7 49-3 19 10 25 24 9 34 1 74-35 98-77 152-96 104-159 142-136 67-216 84-172 21-279 20-133 5-160 18-48 30-113 113-135 165-181 204-60 39-69 40-13-1-17-4-6-7-6-16 1-23 25-60 70-83 126-118 124-62 200-76 193-14 224-20 34-7 62-39 100-142 168-230 141-178 207-245 122-106 154-120 49-14 62-10 24 11 31 24 14 35 9 74-23 98-60 157-87 115-147 161-127 81-203 106-159 38-252 41-204-4-237 2-43 12-72 44-100 142-155 205-89 83-100 87-14 3-17 2-5-3-6-7-3-6 6-25 39-59 88-96 111-67 182-85 187-19 234-23 43-7 57-20 65-91 128-179 136-183 208-267 145-157 199-198 87-53 110-56 38 1 51 10 22 22 28 48 7 69-10 127-50 127-96 189-103 114-168 157-137 75-216 96-166 31-261 30-212-13-243-9-39 9-57 27-68 114-114 174-64 67-68 69-4 1-5 1-2-1-2-2-1-1 3-9 36-42 88-73 116-54 185-64 157 0 163 1 5 2 5 3 0 1 0 2 4-7-56 58-140 159-211 228-129 110-160 123-44 11-55 8-19-8-25-19-11-29-5-63 29-81 69-138 93-103 153-142 127-68 200-84 193-16 238-19 46-8 59-21 50-82 104-167 119-175 184-248 124-124 157-142 48-19 60-17 20 6 27 16 11 22 8 50-17 77-51 130-86 104-145 145-128 73-204 94-159 29-264 29-156 4-183 15-41 16-101 92-133 171-192 227-91 72-106 76-21 3-26 0-9-7-11-15-4-19 10-51 50-80 100-122 112-77 182-99 149-33 247-37 97-10 116-23 53-57 116-144 133-179 202-256 134-133 174-156 57-25 71-24 24 7 31 16 14 23 14 51-13 74-43 130-78 112-134 158-122 83-196 109-154 40-248 44-194 0-224 8-42 11-77 54-113 156-172 222-105 98-123 106-22 5-27 4-8-5-10-10-5-10 3-32 35-63 80-105 104-77 172-101 139-37 235-41 112-8 130-18 41-38 102-124 130-178 201-261 142-155 193-192 78-44 97-46 31 2 41 10 18 20 21 44 1 64-20 119-60 117-111 171-111 98-180 133-145 57-229 70-203 9-284 9-87 7-108 21-53 57-111 138-122 149-153 173-36 19-41 19-8-1-10-4-3-5-2-13 6-27 38-63 84-78 146-107 131-47 213-54 145-5 161-12 13 4 65-71 120-170 190-260 144-178 211-243 120-99 153-113 51-13 66-9 27 14 36 30 16 39 11 84-24 106-59 169-83 124-141 175-124 91-198 120-155 48-244 55-218-4-287-5-72 6-89 18-44 53-95 129-101 126-114 135-13 6-15 6-2-1-3-2-1-2 1-7 6-21 46-55 101-66 167-85 136-25 213-21 46 1 46 1 0-1 0-1 0 0 0 0 0 0 0 0 3-5-11 6-81 86-154 170-151 169-215 223-104 74-129 80-38 4-49-2-21-16-27-34-9-48 3-97 44-108 89-168 102-107 164-148 132-70 206-87 147-21 241-13 94 4 105-1 4 19 41-57 88-164 147-243 126-151 168-183 59-34 71-35 19 2 24 8 10 12 11 29-4 47-31 92-73 96-129 138-122 73-197 93-154 30-257 30-132 5-155 17-43 28-107 112-135 175-200 243-118 105-145 117-36 10-45 7-16-7-20-17-9-22-2-52 31-79 72-129 96-96 160-131 135-59 216-72 209-11 252-17 52-11 78-37 92-124 157-208 136-161 187-203 75-47 89-49 22 0 28 5 12 12 13 27 0 38-21 83-64 96-117 140-116 80-188 104-149 37-247 40-146 6-169 17-36 17-96 99-130 176-195 247-124 117-154 132-40 13-50 11-16-7-20-15-9-18-5-45 25-73 63-122 92-97 153-133 133-63 213-78 209-13 262-18 62-12 86-33 83-105 148-190 136-166 191-214 83-56 99-59 23-1 30 3 12 12 14 25 3 32-16 75-58 94-108 140-113 83-183 109-147 41-241 46-162 6-186 15-33 9-87 82-127 174-193 249-129 128-163 147-45 18-55 16-17-6-22-13-10-17-7-41 19-66 54-116 86-98 147-136 129-66 208-83 198-18 267-22 74-11 97-28 71-86 136-172 135-169 193-223 92-67 109-72 26-2 33 1 13 11 16 23 4 27-11 67-51 92-100 138-108 86-177 114-145 45-235 52-177 5-204 14-34 8-80 68-122 168-189 246-133 138-170 162-52 23-63 22-18-5-24-12-10-15-8-37 13-59 45-108 81-100 140-139 126-71 203-90 177-23 267-25 91-10 113-25 60-65 124-151 133-173 194-232 101-79 121-86 28-4 36-1 13 9 16 20 6 24-6 61-44 87-90 134-105 89-172 119-143 49-230 57-190 6-219 15-38 9-76 56-117 160-183 240-136 146-178 175-58 30-70 30-20-4-26-10-11-15-10-34 8-52 37-101 76-100 132-142 123-74 198-95 158-28 261-30 113-9 135-22 48-43 112-130 132-174 195-238 109-92 131-101 32-7 40-4 14 8 17 18 7 21-2 54-37 82-81 130-101 92-166 123-140 53-225 63-199 7-232 15-43 11-76 47-108 149-175 231-137 154-184 189-66 37-79 38-21-3-27-9-12-13-12-31 4-45 29-93 70-100 125-143 119-78 193-101 151-34 252-37 137-6 159-18 39-23 100-108 130-175 195-243 117-106 142-117 35-10 44-8 14 8 18 16 8 19 1 48-31 77-71 125-97 93-161 127-136 56-219 68-206 10-244 16-48 12-77 41-100 135-166 218-138 161-189 202-74 46-89 48-23-2-30-7-12-13-13-29 0-39 23-85 63-99 116-144 115-82 187-107 149-39 245-43 158-5 182-16 34-10 89-86 128-174 193-246 124-118 153-133 39-14 48-12 15 6 20 14 8 17 4 43-25 69-63 118-92 95-154 130-133 60-214 74-208 12-254 17-54 12-80 36-91 120-157 205-137 165-192 212-83 56-100 59-25 0-32-4-13-12-15-26-3-35 16-79 58-97 108-143 112-86 182-113 146-44 238-50 177-5 204-14 35-8 81-67 122-169 188-244 128-130 162-150 44-18 54-17 16 6 21 12 9 16 6 38-18 62-53 110-87 96-147 133-130 64-209 80-206 15-261 20-62 11-86 32-82 103-147 189-136 169-195 222-93 67-111 72-28 2-36-2-13-11-16-24-5-30 10-72 51-94 99-142 108-89 176-118 144-49 232-57 194-5 224-13 41-11 77-54 114-157 180-235 132-141 170-166 51-24 61-23 17 4 22 10 10 14 8 34-12 53-43 101-81 96-140 135-127 67-204 85-195 19-264 23-73 11-95 28-72 86-137 173-136 172-197 231-102 80-123 87-31 4-39 0-15-10-19-22-6-26 6-65 44-90 89-139 103-93 170-125 141-53 225-64 207-7 244-13 47-12 77-44 103-139 168-219 134-151 177-182 59-31 70-32 18 3 24 9 9 12 9 29-7 45-34 92-75 96-132 135-123 72-199 91-176 24-263 27-87 10-109 25-61 69-126 156-134 174-198 238-111 93-135 103-35 7-44 4-16-9-20-20-8-24 1-59 36-88 78-138 99-97 164-131 138-58 220-71 212-9 260-15 57-12 82-35 89-116 154-199 135-158 182-195 67-40 79-42 19 3 25 7 10 11 10 25-3 36-27 81-69 93-124 134-119 74-193 95-161 28-258 31-99 10-120 23-55 57-119 144-134 176-199 244-120 107-148 120-40 11-50 8-18-9-23-19-9-21-3-54 29-81 69-133 93-100 155-137 133-65 213-81 200-16 272-19 77-11 100-28 69-81 133-166 133-165 186-212 78-53 92-56 20 0 26 4 10 9 11 21 2 29-18 69-60 90-112 132-115 77-187 100-149 33-251 36-116 8-137 20-46 41-109 128-132 177-200 250-127 120-160 138-47 16-58 14-19-7-25-16-11-21-8-50 21-78 56-130 87-104 147-144 130-71 207-90 167-25 269-26 111-7 134-21 48-41 111-128 131-171 188-225 89-69 104-73 22-2 28 1 10 8 12 18 4 19-11 55-52 82-101 125-111 80-181 104-144 37-243 40-127 8-148 20-40 29-101 115-131 178-200 255-134 135-174 158-56 25-69 24-22-6-29-15-13-19-12-46 13-70 44-124 78-108 135-152 124-79 199-103 155-35 253-38 165-3 190-12 34-9 85-77 124-171 184-235 104-91 122-99 25-5 31-3 10 6 12 13 5 14-4 41-39 72-85 115-105 81-172 107-141 41-234 46-139 7-159 17-33 18-93 102-129 177-198 259-141 149-188 182-69 37-85 37-27-3-35-11-15-19-17-42 4-62 29-116 67-112 121-161 116-89 187-118 150-47 239-55 211-1 249-7 49-12 77-41 97-133 158-207 119-123 143-137 30-11 36-10 10 3 12 8 5 9 1 26-20 53-59 95-96 82-161 110-137 45-223 52-152 7-171 15-23 4-79 83-126 174-196 260-143 166-201 213-92 62-113 67-35 1-46-6-19-16-24-36-7-52 9-103 51-111 97-167 104-104 170-142 139-64 221-80 175-19 279-16 116-4 138-16 37-24 96-109 124-162 165-198 50-33 57-34 9 0 12 2 4 6 4 12 0 20-24 53-74 78-132 110-127 54-203 64-175 9-196 14-19-2-53 43-107 154-176 244-143 181-212 253-129 118-167 137-57 20-74 17-28-10-38-24-18-35-16-73 14-96 45-160 78-124 134-176 119-96 191-128 151-52 238-62 200-4 289 0 91-4 108-14 34-30 87-111 109-142 128-157 19-11 21-11 3 1 4 2 1 2 0 7-2 15-36 48-92 68-156 90-135 32-213 30-75 1-77 2-4 3-4 5 0 3 0 4 2 1 3 1 1 2 9-2 56-57 127-142 149-177 219-247 130-113 167-130 55-16 71-13 28 11 37 25 18 39 16 80-18 98-52 165-82 121-137 175-119 98-188 129-145 51-223 58-169-3-244-17-51-5-58-1 0-24-25 41-66 149-120 225-118 146-156 175-50 28-59 29-14-2-18-6-7-11-7-24 5-40 34-83 78-90 136-126 126-64 202-80 197-15 261-18 67-9 88-26 73-87 140-174 138-176 204-242 119-101 147-113 42-11 53-7 19 9 24 21 11 28 4 65-30 91-69 145-93 105-156 144-133 69-212 87-171 23-272 23-106 7-128 20-46 41-108 127-127 168-181 218-78 57-90 60-18 1-23-2-8-7-9-16-3-21 15-56 57-83 110-123 115-73 188-93 167-27 254-30 81-9 101-23 60-70 124-158 135-178 204-252 132-126 168-147 54-20 67-18 23 6 31 17 13 24 11 55-15 81-48 137-81 111-139 157-126 80-200 105-156 37-252 40-183 0-210 8-38 10-77 59-116 163-174 227-100 90-116 97-21 4-26 3-7-5-9-11-5-12 4-35 39-66 85-107 108-76 176-99 141-34 240-37 100-8 118-19 46-49 108-135 132-179 202-261 142-150 191-184 74-40 92-42 30 4 40 13 17 20 20 46-2 66-24 121-63 118-115 171-112 98-181 131-147 56-233 67-210 7-282 7-79 9-100 23-59 69-117 149-120 143-149 164-32 16-37 16-7-2-9-4-4-6-2-15 8-27 42-66 89-77 151-105 131-45 214-50 138-6 153-13 16-2 69-80 122-172 192-261 144-177 211-240 117-96 149-109 50-11 65-7 26 14 35 32 15 41 10 87-26 109-62 173-85 124-143 173-125 90-200 119-156 46-245 53-222-5-286-6-69 6-86 18-45 57-95 132-100 122-111 129-11 6-12 5-3 0-3-1-1-3 0-7 8-23 50-56 102-65 168-84 138-22 212-17 36 2 36 2 0 0 0 0 0 0 0 0 10-12-21 16-111 126-185 208-150 156-203 194-82 46-100 47-30-2-40-10-17-18-20-41-1-61 21-116 61-117 112-171 111-97 178-130 141-54 219-62 197 3 226 2 33-6 44-18 44-81 93-163 114-169 175-235 109-101 133-112 34-9 43-7 14 7 18 16 9 22 1 52-31 78-72 127-97 94-161 127-136 57-219 69-213 8-266 13-64 11-90 33-88 106-155 190-139 162-191 205-76 49-91 51-22 0-29-5-11-11-13-26 0-38 21-81 62-97 115-141 117-81 189-105 147-36 247-40 137-7 159-18 36-22 97-107 129-176 194-248 125-118 155-134 42-14 51-12 17 7 22 15 9 19 5 46-23 74-61 124-90 98-152 135-132 64-212 80-204 14-268 19-69 11-93 30-76 92-141 177-135 166-190 215-84 59-100 63-23 0-30-4-11-10-13-22-3-31 15-72 56-93 107-138 112-82 183-108 147-39 242-44 153-6 177-16 32-12 90-91 128-176 195-251 130-128 163-147 47-18 58-17 18 6 24 14 9 17 7 42-18 69-53 120-85 100-145 139-130 68-208 86-186 20-269 23-86 10-109 26-63 69-127 156-133 169-192 224-92 70-109 75-26 2-32-1-12-9-15-20-4-26 11-64 49-89 98-135 109-84 179-111 145-43 236-49 165-6 190-15 31-8 84-79 126-173 193-251 134-137 172-161 53-24 65-23 19 5 25 12 11 17 10 40-13 64-45 114-80 102-138 143-126 73-202 93-162 27-265 28-111 8-134 21-49 44-112 131-131 172-192 233-101 82-121 88-27 5-34 2-12-8-15-18-6-21 6-55 43-84 89-130 105-87 173-115 143-46 232-53 175-7 200-15 33-7 80-69 123-169 190-249 137-146 180-175 60-31 73-31 21 4 28 11 11 16 12 37-8 58-37 108-74 104-130 147-122 78-197 100-153 33-255 36-142 6-166 17-35 17-96 100-129 174-191 240-110 96-132 105-30 7-37 5-13-7-16-15-6-18 2-47 36-78 79-124 101-88 168-118 140-49 226-57 183-7 210-15 34-8 76-61 119-164 187-246 138-154 186-189 69-38 84-40 24 3 31 10 12 14 14 34-4 53-28 102-68 105-122 150-118 83-190 109-151 40-245 44-174 4-201 13-35 9-82 70-123 170-186 240-119 113-144 125-33 11-41 9-12-5-16-12-6-15-1-39 27-68 68-114 96-89 160-120 137-53 221-62 189-8 218-16 36-8 73-53 114-159 182-242 141-161 193-203 80-50 97-53 27 1 35 7 14 14 17 33 1 47-20 95-59 105-110 154-113 89-183 118-148 48-237 55-202 4-236 11-45 12-77 47-106 146-170 222-125 131-155 148-39 16-47 15-13-3-16-9-7-11-4-30 17-56 53-100 90-89 153-122 134-55 215-67 193-9 223-16 37-8 70-47 110-152 178-237 141-168 199-218 93-65 114-70 31-3 41 3 16 13 21 30 5 43-10 88-49 106-97 158-107 97-174 131-142 57-226 69-214 8-271 11-66 12-90 31-76 97-138 177-129 151-168 179-48 26-57 27-12-2-16-6-6-9-5-22 5-38 35-79 81-86 141-120 128-59 207-72 196-12 227-18 38-9 66-40 102-141 171-229 141-174 205-235 111-89 137-98 40-8 52-3 20 12 26 27 11 36 2 78-36 101-77 157-96 107-158 148-133 70-213 89-163 26-269 25-139 3-162 13-33 13-92 96-125 168-175 216-69 51-79 53-13 1-17-1-5-6-6-13-3-15 16-48 61-77 115-113 119-65 193-81 197-16 237-21 42-8 62-29 85-116 151-205 140-180 209-255 133-126 172-148 59-23 75-21 27 8 36 20 16 29 16 62-13 89-43 149-77 119-132 170-121 91-193 121-152 49-241 57-222-2-276 1-63 9-83 26-67 88-123 162-109 123-127 134-20 8-23 7-6-2-7-4-3-4 0-14 18-35 58-72 99-72 164-94 136-33 228-34 79-5 90-13 31-39 87-120 126-177 198-267 146-176 212-237 116-93 148-105 52-12 68-7 28 16 38 35 17 48 12 97-24 116-59 183-85 128-142 181-123 97-196 129-154 52-241 62-179 8-286-2-124-8-139-2-17-1-45 49-91 156-115 181-15 13-16 13-1 1-1 0 0 0 0-1-8 7 9-11 76-60 136-82 134-32 189-30 56 10 58 12 3 3 3 6 10-6-10 18"/></g>
<g clip-path="url(#cb)"><path class="cv" transform="scale(0.2)" stroke-width="4.5" d="M4619 1982C4617 1982 4618 1982 4618 1982s0 0 0 0-31 2 4 0 105-16 164-45 121-75 182-137 120-139 175-227 105-185 150-289 84-210 115-318 54-215 64-305 8-159-3-206-28-76-50-95-48-30-86-30-87 10-168 43-195 94-308 150-226 108-336 157-191 88-227 117-51 53-59 81-10 59 7 120 70 181 80 226 3 56-2 66-10 14-17 17-16 4-32-3-46-26-79-71-62-114-74-170-6-94 3-117 20-37 37-47 37-16 73-11 94 24 152 62 110 91 147 145 64 113 86 196 40 193 60 242 43 72 67 90 52 26 86 26 76-10 125-40 104-79 158-146 105-152 149-244 80-190 104-282 32-174 29-227-15-84-30-105-35-33-62-38-63-5-127 17-163 72-270 130-221 120-317 178-164 107-209 155-89 133-104 153-20 20-28 22-15 1-27-6-34-29-51-69-21-83-17-109 14-41 26-52 27-17 52-18 65 7 113 35 94 70 125 116 52 99 61 155 1 108-10 136-22 40-35 47-26 11-46 7-51-16-91-54-88-101-125-177-66-160-77-232-7-123 3-155 25-52 45-65 42-22 77-21 87 16 146 50 117 86 161 141 77 113 104 194 54 203 78 260 47 85 72 103 50 28 81 28 67-7 111-35 98-77 148-144 98-152 135-240 63-181 73-253 4-115-6-144-23-45-42-55-41-17-82-11-106 27-200 75-205 113-305 174-188 120-253 176-131 145-158 169-39 26-55 26-32-2-56-19-57-57-80-109-33-108-31-142 12-53 24-67 28-22 51-26 61-1 114 23 117 70 163 117 79 100 103 163 38 144 49 242 24 158 42 192 37 53 62 67 55 20 94 16 87-20 140-57 111-91 167-163 107-160 153-255 85-197 113-295 45-194 47-263-8-109-21-137-31-45-54-54-53-13-102-2-128 46-231 99-219 116-330 174-221 115-288 161-98 79-118 115-32 111-36 126-7 14-9 15-5 2-8 1-9-2-21-22-23-64-22-92 10-43 20-54 24-18 43-21 49 1 87 21 78 60 105 101 42 89 45 131-6 68-15 83-18 20-29 23-23 5-44-5-54-33-90-84-70-124-86-190-16-116-8-147 21-49 36-61 34-17 59-17 64 10 110 40 91 81 126 136 60 119 81 210 40 201 62 257 47 86 74 107 56 32 91 35 75-5 123-30 102-68 156-131 108-144 155-234 86-190 115-285 43-183 44-245-10-91-23-115-30-35-53-42-52-9-104 7-139 59-244 117-219 124-327 183-217 118-291 168-137 119-152 130-18 9-24 8-12-2-20-13-21-39-22-65 6-44 15-56 20-20 37-24 42-3 78 12 77 49 105 86 45 81 49 119-4 65-12 78-15 18-25 22-20 4-39-4-49-30-82-78-64-119-76-177-7-101 1-127 21-38 36-47 31-14 58-10 68 21 110 55 82 82 111 141 50 131 67 230 32 191 53 241 44 77 72 97 59 31 95 32 79-7 129-34 106-72 161-137 110-147 158-238 90-192 121-290 52-193 57-263-3-112-14-140-28-44-49-54-46-13-90-3-115 37-214 90-215 122-324 181-224 117-320 169-151 91-184 127-40 53-42 54-3 1-4 1-2-1-4-5-6-23-2-42 13-30 24-38 24-13 45-12 50 12 79 35 52 59 62 89 8 54 4 65-9 16-15 19-11 4-22 1-27-10-52-43-47-90-53-132 1-67 8-82 18-22 30-27 26-6 49 2 57 31 87 70 55 93 69 156 15 138 6 184-21 62-32 72-21 15-36 15-34-2-68-26-80-74-122-143-77-154-98-234-26-150-20-195 20-71 37-90 38-30 65-34 63-2 112 19 108 65 155 115 84 106 113 177 52 184 75 273 46 131 71 162 51 47 79 55 61 9 100-4 88-42 140-92 105-122 151-205 88-179 116-269 40-170 40-223-11-82-24-102-29-31-53-36-54-7-113 13-153 67-258 127-218 126-318 187-180 115-246 173-105 98-122 104-29 7-44 2-36-19-58-53-41-86-44-123 6-59 15-74 22-25 41-30 45-8 88 7 100 51 143 93 75 94 96 149 30 124 27 182-17 93-30 111-25 26-40 30-34 5-64-8-74-44-121-100-93-134-129-217-63-174-73-248-4-126 8-160 28-56 49-70 47-23 85-22 96 17 162 52 133 88 184 142 88 110 117 181 57 195 81 263 46 96 68 116 45 29 72 31 59-3 100-27 90-68 138-132 94-148 128-233 54-169 58-230-4-94-16-117-26-35-47-43-46-13-96-1-134 47-231 100-200 116-285 176-145 113-198 176-102 136-124 153-39 21-59 20-42-6-73-31-72-73-102-135-47-130-49-176 8-72 20-91 27-28 49-34 50-10 102 5 126 57 187 104 111 99 148 157 62 127 90 226 50 142 73 170 47 43 74 51 57 8 97-6 88-43 139-94 104-123 150-207 86-177 112-267 38-171 36-226-12-84-27-105-32-35-58-41-60-8-121 11-157 64-259 119-206 118-287 175-137 108-181 165-88 140-106 158-29 21-43 22-28-1-52-18-56-55-81-108-36-111-34-148 12-55 24-70 27-23 50-27 59-2 113 20 120 65 169 113 85 98 111 159 42 137 56 236 28 159 46 193 39 53 64 66 56 20 95 15 86-22 139-59 111-96 165-170 106-162 150-257 80-196 106-292 37-184 36-244-12-96-27-120-34-39-60-46-59-10-116 7-149 60-256 116-223 119-329 177-197 111-250 154-77 77-95 123-31 94-35 100-8 6-12 7-8 0-16-7-28-32-38-69-7-69-1-88 17-30 31-38 31-12 60-8 74 24 115 57 72 78 92 125 26 100 22 136-15 56-26 66-20 16-33 17-31 0-60-19-70-62-106-125-67-143-79-207-8-110 3-141 26-44 45-56 40-12 68-10 72 16 120 50 94 85 130 142 61 122 83 217 43 197 66 249 48 79 75 98 57 28 91 28 77-10 125-39 103-77 157-144 104-152 148-243 79-191 101-281 29-165 25-213-16-73-31-91-34-28-61-31-63 0-131 27-172 87-281 148-221 125-324 184-185 111-245 163-93 88-105 92-18 4-27 0-22-12-36-37-22-66-20-92 12-40 22-50 24-18 46-20 56 5 98 28 84 64 111 106 45 91 49 137-6 78-15 95-20 24-31 28-24 5-46-3-54-30-92-78-76-122-99-193-27-135-22-174 17-61 31-76 33-25 57-28 59 0 105 23 99 67 140 118 74 109 99 186 47 200 69 271 46 106 72 132 52 40 84 45 68 3 112-15 96-54 150-111 107-132 154-219 88-183 117-276 45-182 46-242-8-93-21-116-30-37-53-44-52-8-105 7-140 59-245 117-218 123-324 184-203 117-270 169-126 119-142 129-23 9-32 8-20-6-35-24-32-59-35-92 4-53 13-67 21-23 38-28 41-7 79 7 87 45 124 85 62 86 75 135 12 100 4 130-19 42-30 50-22 11-39 10-39-8-74-38-79-88-113-158-58-150-64-209 1-99 13-125 29-40 50-50 44-11 78-4 84 28 134 67 94 93 127 154 58 130 81 233 45 181 69 225 50 67 77 82 58 22 94 18 80-20 130-56 105-92 157-165 100-162 139-255 69-192 84-273 12-138 4-174-22-55-40-68-38-21-72-19-85 16-171 57-198 108-307 171-220 124-307 180-152 113-207 168-49 40-60 42-20 0-34-9-34-32-48-69-15-75-10-98 15-35 28-44 28-16 55-15 70 15 115 45 87 74 113 120 43 101 46 153-8 88-18 108-23 28-35 32-27 7-51-1-59-30-100-79-84-122-113-199-46-155-46-211 10-87 24-109 29-34 51-41 51-11 96 2 106 45 159 89 96 97 130 160 58 142 85 246 48 159 73 194 49 53 76 64 58 13 95 4 82-32 133-77 104-112 151-192 90-173 120-263 45-176 46-234-9-87-22-109-29-34-52-41-51-8-105 8-145 60-248 118-215 121-311 182-172 114-232 172-109 117-127 128-30 11-46 8-34-11-59-39-53-82-64-129-6-82 2-103 19-33 34-42 35-14 70-9 90 27 143 64 98 86 130 138 53 113 63 184 10 163 1 216-23 72-36 85-25 19-44 21-47-3-88-26-94-68-146-134-100-149-141-238-73-188-92-276-23-165-16-218 23-83 42-105 42-34 73-40 75-5 142 16 156 70 233 120 140 103 186 158 77 110 102 186 48 194 67 239 37 60 56 71 36 16 61 12 56-15 97-50 87-95 126-167 67-155 78-221 6-106-3-133-22-40-40-51-40-18-81-12-110 27-196 72-179 105-250 162-124 111-167 175-91 165-117 198-46 42-68 48-46 5-79-8-74-42-118-95-88-127-118-205-48-156-49-209 9-83 22-104 29-32 52-39 54-11 110 4 141 57 221 107 151 105 203 162 86 109 126 197 69 144 92 167 42 31 66 34 51 0 87-19 81-57 126-117 86-141 114-219 40-154 39-203-13-74-27-92-30-30-55-36-59-6-121 14-155 67-238 119-156 110-210 167-88 109-133 201-67 121-89 139-41 24-65 24-52-6-89-31-84-73-125-139-77-148-95-221-20-128-12-164 20-52 36-66 36-22 68-23 83 9 159 43 164 88 234 142 123 109 165 170 85 171 114 225 50 70 72 82 45 17 73 12 63-19 106-56 92-98 132-172 74-161 89-233 14-125 5-159-23-49-40-63-37-21-73-20-92 15-172 52-173 94-247 149-130 110-174 171-91 169-120 217-48 60-69 70-42 12-70 5-63-24-105-66-87-107-121-182-58-155-63-213 3-93 14-116 27-36 47-45 46-14 95-4 127 44 208 91 157 102 213 158 94 109 132 187 75 162 98 189 45 39 68 44 49 4 84-11 78-47 124-102 91-131 124-211 53-163 57-222-7-91-19-114-27-36-49-44-49-13-101-1-135 47-222 96-169 107-231 164-104 109-145 182-80 156-103 180-41 33-63 36-46 1-79-16-76-53-118-111-81-137-104-211-30-137-25-178 18-59 33-75 32-24 61-28 70 1 138 28 158 78 230 131 129 108 172 167 83 155 116 227 54 90 76 105 45 22 72 20 60-11 101-41 91-83 135-152 83-156 106-235 30-148 25-192-18-64-33-81-34-26-62-30-69-1-139 25-166 79-250 133-154 111-206 168-89 123-133 209-60 98-80 112-40 19-64 17-53-12-91-42-83-85-121-154-65-150-75-213-5-104 5-131 24-41 42-51 41-17 83-12 110 31 189 74 156 97 214 152 99 109 136 181 75 175 100 210 46 49 69 57 49 10 82 0 74-34 120-82 95-118 134-198 69-168 81-239 7-119-2-151-24-47-42-59-40-19-79-16-103 22-188 63-181 99-257 155-132 111-177 171-93 168-121 209-46 51-65 59-40 8-67-1-63-30-104-76-83-116-111-188-40-142-39-188 14-69 27-87 30-27 54-32 59-7 120 14 145 66 218 117 130 105 174 163 76 130 113 221 58 117 81 137 45 29 71 31 58-3 98-26 89-65 136-129 92-146 124-230 52-168 55-229-7-93-19-117-28-37-50-45-50-13-102-1-137 48-228 98-182 109-251 165-117 109-159 176-86 156-108 179-39 31-59 34-41 0-72-16-71-53-109-111-72-135-88-200-13-113-5-143 21-45 37-57 37-19 72-18 93 18 166 55 149 91 207 144 97 108 132 176 71 183 96 229 48 65 71 77 49 17 81 12 71-21 117-59 98-99 144-175 85-165 111-250 36-160 33-210-15-76-29-95-32-31-59-36-62-6-127 15-162 69-256 124-181 114-245 170-106 105-150 181-76 129-95 144-35 20-55 20-42-6-74-30-73-73-106-136-53-135-57-186 4-80 15-100 25-32 45-39 48-13 97 0 126 47 194 94 126 100 168 156 71 113 102 207 57 157 81 187 45 45 71 52 56 9 93-3 85-41 135-91 102-122 146-205 82-176 105-262 30-160 26-208-18-72-33-91-34-29-62-33-67-3-137 22-170 76-268 132-191 116-260 172-112 104-155 173-76 125-93 138-31 17-48 17-37-7-66-31-67-74-93-134-37-120-35-159 12-60 25-75 28-25 52-29 59-3 116 18 130 68 186 117 97 100 128 161 54 149 78 239 43 126 65 153 46 41 74 48 61 8 102-7 92-45 145-98 106-123 154-207 89-179 120-273 48-184 51-249-7-105-20-131-31-42-54-51-51-13-102-2-134 47-234 98-213 115-309 174-170 112-220 163-97 135-122 176-32 38-42 42-21 4-36-2-37-23-62-63-42-97-45-137 6-62 17-78 23-25 42-31 48-8 94 8 107 51 154 95 83 94 107 150 38 125 40 196-10 132-22 159-25 38-39 45-31 12-57 6-67-24-114-68-101-109-147-189-86-171-113-261-43-178-44-243 11-104 27-131 34-47 60-58 60-17 112-7 128 40 204 84 145 99 196 154 86 110 114 181 54 194 75 254 41 82 61 98 39 22 64 22 54-7 94-34 87-77 131-145 82-153 104-230 27-139 23-179-17-58-31-73-32-24-61-26-72 1-146 32-175 86-263 143-164 115-219 173-105 141-146 207-58 73-79 83-41 12-67 7-60-22-100-62-85-104-117-177-53-149-56-204 6-84 18-106 27-33 48-41 49-12 100 0 131 49 206 96 141 102 189 158 82 111 118 200 66 154 89 181 45 38 70 43 52 4 89-11 82-49 130-104 94-133 131-215 62-170 70-238 1-108-10-136-25-43-45-53-44-17-88-10-117 32-206 77-184 105-259 162-130 110-174 172-93 165-119 197-42 40-61 45-40 4-68-8-66-40-106-92-77-127-98-195-25-126-19-163 19-52 34-67 33-22 62-24 77 6 146 36 150 82 213 134 109 107 146 170 74 174 102 235 50 82 73 97 47 23 76 22 65-12 109-43 96-84 143-154 90-157 120-243 46-169 47-226-10-88-23-110-30-35-53-43-54-10-110 5-147 54-240 106-187 112-257 169-118 108-161 175-85 148-106 168-36 27-55 28-40-1-69-20-70-59-105-118-63-134-72-191-3-93 7-117 24-37 42-46 41-16 83-9 112 36 183 79 135 96 182 151 79 109 110 190 61 176 85 213 46 53 71 63 52 13 87 5 79-30 128-74 102-111 148-190 86-171 113-259 38-167 36-221-14-81-28-102-32-32-58-38-59-8-121 11-159 65-256 119-195 115-268 172-121 107-164 171-84 139-102 156-33 22-49 22-36-3-63-23-66-63-95-120-46-126-48-169 8-69 20-87 27-27 49-34 51-9 103 8 125 58 185 105 107 99 141 157 58 124 84 223 45 149 67 180 45 46 72 55 58 11 97 0 87-36 140-84 106-116 155-197 91-175 123-269 53-186 58-255-5-109-17-138-29-43-51-53-48-15-96-6-125 40-223 90-211 112-307 170-173 114-226 165-99 133-128 181-34 42-46 46-22 5-37-1-38-22-64-62-46-99-50-141 4-67 14-83 22-28 41-34 45-10 89 3 107 48 158 91 88 94 115 150 44 120 49 196-1 158-13 196-23 50-37 60-28 15-51 13-57-11-104-45-100-91-151-164-96-162-133-254-64-188-77-272-10-148 1-191 26-66 47-84 45-30 83-32 93 5 168 35 165 80 237 132 127 106 167 162 65 113 89 201 45 180 63 213 36 46 54 54 38 10 66 3 62-26 105-70 88-113 122-189 56-156 61-212-5-87-16-109-26-34-46-41-47-13-97-1-135 50-223 100-172 109-235 166-106 109-149 183-81 148-105 171-44 31-67 34-50-1-86-21-81-60-125-121-85-142-110-219-35-148-32-194 15-68 29-86 31-28 58-32 64-4 129 18 156 70 234 122 141 109 189 166 82 125 122 215 60 111 82 129 42 24 67 24 54-6 93-32 86-74 128-140 81-150 103-226 26-140 20-179-18-60-33-75-33-25-63-27-74 3-147 32-167 82-245 137-140 110-187 168-90 150-125 220-55 82-76 95-42 18-68 14-58-14-99-48-88-92-127-163-70-156-83-225-9-115 0-145 23-46 40-57 39-19 77-17 101 22 181 62 167 95 234 150 114 110 153 175 84 175 111 216 46 54 68 63 45 11 75 3 69-29 113-74 91-113 128-190 63-162 71-227 2-104-9-131-25-41-44-51-43-16-87-10-117 33-201 77-171 102-236 158-111 110-151 177-84 170-109 202-44 43-66 49-44 6-75-6-72-40-116-91-87-126-117-202-47-153-47-205 10-79 22-99 29-31 52-38 54-9 111 7 144 58 225 108 151 107 203 164 86 109 128 199 68 137 90 158 43 30 67 33 52-2 89-23 84-62 128-123 86-144 113-223 38-152 36-200-14-72-28-90-30-29-56-34-61-6-125 15-156 68-239 121-154 109-206 166-87 112-132 204-65 118-87 135-41 24-64 24-52-7-90-32-84-74-125-140-76-150-94-221-18-127-11-162 20-52 36-65 36-22 69-22 86 10 162 45 164 88 234 142 122 109 163 171 85 172 115 225 49 68 71 79 44 16 73 11 64-20 107-58 92-100 132-174 73-161 88-234 12-123 3-156-22-49-39-62-38-21-74-19-95 16-176 54-174 94-247 149-129 111-172 172-91 170-120 216-47 58-68 67-42 12-70 5-63-26-105-68-88-110-121-185-56-154-61-212 5-89 16-112 27-35 47-43 48-14 98-3 130 45 210 93 155 103 210 160 93 109 131 189 73 158 96 185 45 37 68 42 50 3 85-13 79-48 125-104 91-134 124-214 52-163 55-221-7-89-19-112-28-36-50-44-50-12-102 0-137 49-224 98-170 108-231 164-104 109-144 183-80 154-102 178-42 32-63 35-46 1-80-17-76-55-118-113-81-138-103-211-28-136-23-176 18-58 32-73 33-25 62-28 72 3 142 31 159 79 231 132 127 109 169 168 83 159 116 228 53 85 75 100 44 21 72 19 61-12 103-43 91-86 135-157 82-157 104-236 27-145 22-187-18-63-33-80-33-26-62-29-72 1-144 29-169 79-252 134-152 112-203 169-91 130-132 211-58 92-79 105-39 18-63 15-54-12-92-44-84-89-121-158-64-150-73-212-2-100 9-126 24-39 42-49 42-16 85-10 115 33 194 77 155 99 211 154 96 109 132 183 75 173 99 206 46 47 69 54 49 9 82-2 76-36 123-85 95-122 133-202 68-168 79-239 6-117-4-147-24-46-42-58-41-19-81-15-106 23-191 65-181 100-257 156-132 111-176 172-93 168-121 207-44 49-64 56-40 8-67-2-64-32-104-79-83-119-109-191-38-139-36-183 14-66 27-83 30-27 55-31 62-5 124 17 149 69 220 120 127 106 170 165 77 138 112 224 56 109 79 129 45 28 71 29 59-4 100-29 90-69 137-134 92-148 123-233 50-167 52-226-7-91-20-114-28-36-51-44-51-13-105 0-140 49-231 100-182 110-250 166-115 109-157 177-85 153-107 176-39 29-58 32-41 0-72-17-72-56-109-114-71-135-85-200-12-109-4-137 21-44 37-55 37-19 73-17 97 18 170 56 149 93 204 147 95 108 129 178 69 183 95 228 47 62 71 74 48 17 80 11 73-22 119-60 99-101 145-177 86-165 112-251 36-161 34-212-14-78-28-97-32-32-59-38-62-6-126 15-161 68-256 123-183 114-249 170-109 106-152 179-78 132-97 147-35 21-53 21-41-5-73-29-71-70-103-132-53-134-57-184 5-79 16-98 25-32 46-39 47-12 97 1 126 51 193 97 123 99 164 156 69 114 100 209 55 155 78 185 46 45 72 53 56 8 94-4 84-40 135-90 103-123 148-205 83-177 108-264 32-163 29-213-15-77-30-97-33-31-61-36-64-5-130 17-166 71-265 127-196 116-269 172-120 106-162 170-80 133-97 148-31 19-47 19-34-4-61-25-64-66-90-124-39-119-38-158 12-60 24-76 28-24 52-28 57-5 112 15 126 66 181 114 96 100 126 160 51 142 73 237 40 136 62 166 45 44 72 53 60 11 101-1 89-38 142-86 108-117 158-199 94-176 129-271 58-192 66-267 2-123-9-156-27-50-47-62-46-18-88-13-108 26-202 72-208 108-312 167-196 117-259 168-95 88-133 157-50 85-59 91-18 8-29 6-24-8-45-33-46-77-54-121-2-71 6-90 21-30 37-37 38-12 76-4 94 37 143 77 87 87 113 139 41 113 44 176-9 114-22 139-24 35-39 41-30 9-55 3-63-25-109-71-95-114-136-194-73-171-91-252-20-149-11-194 24-69 42-87 41-28 72-32 77 1 140 27 137 76 196 126 103 105 137 169 61 150 88 248 48 136 70 162 44 40 69 46 53 5 89-9 82-47 130-101 96-130 134-213 66-171 77-241 6-113-4-141-22-44-41-54-40-19-80-13-108 27-199 73-197 109-287 169-159 116-214 175-113 153-140 180-44 33-63 36-39 0-68-16-67-53-102-110-63-130-73-188-4-94 6-118 22-37 40-46 39-16 80-10 107 30 175 72 128 93 173 148 76 111 105 193 57 180 81 220 46 57 71 68 53 16 87 10 79-26 128-67 102-103 150-180 91-168 122-259 48-177 51-239-7-98-20-122-29-40-52-48-53-14-106-1-138 48-236 100-204 114-288 172-147 111-193 167-96 151-117 176-34 28-48 31-30 1-53-12-56-44-85-96-49-117-52-162 5-70 16-88 24-28 44-35 47-10 95 4 118 49 175 94 102 97 135 154 54 119 74 215 37 172 57 210 42 57 68 71 54 19 91 14 83-22 135-59 107-94 160-168 102-163 143-257 75-195 94-284 23-164 17-211-20-74-36-92-38-29-68-32-72 1-145 29-180 87-288 145-221 121-309 176-145 102-184 149-75 132-88 150-18 18-25 19-15 2-27-6-33-29-51-69-22-85-18-112 14-41 26-52 27-18 52-19 64 6 112 33 96 70 128 116 54 99 63 156 3 111-7 141-23 43-35 51-26 11-46 8-50-13-90-49-87-96-126-171-70-161-85-235-12-132-2-169 24-56 42-71 40-24 73-24 83 10 143 41 121 81 168 134 83 110 112 185 56 199 80 265 47 95 71 116 49 31 78 33 64-3 107-27 93-67 143-131 99-146 137-233 66-180 77-254 7-118-3-148-23-46-41-57-40-18-79-13-102 24-194 70-202 110-301 171-186 120-250 177-131 146-159 174-41 29-58 30-33-1-58-17-58-53-85-106-41-114-41-154 10-61 21-76 26-26 48-30 53-6 105 12 118 61 169 108 90 98 119 158 46 135 63 234 34 155 54 189 42 52 68 64 57 17 96 11 87-27 140-67 110-101 163-177 102-167 143-262 75-197 94-288 25-166 19-215-19-76-36-95-37-30-66-33-70 0-141 27-176 83-286 142-224 121-319 177-159 103-200 147-74 124-88 151-17 23-23 26-10 2-18-2-22-13-39-44-25-78-23-106 12-44 23-55 24-19 46-22 56 2 100 25 90 65 121 108 52 94 59 146 1 94-9 118-21 33-33 39-25 9-44 5-50-19-89-60-83-108-114-182-51-153-54-211 7-93 20-115 27-36 48-44 47-13 88-3 99 38 151 81 96 96 130 158 58 137 83 242 48 166 72 204 50 58 77 70 58 16 95 9 82-28 132-70 104-105 154-183 94-170 127-262 55-184 60-250-3-103-14-130-27-40-47-48-46-13-92-3-122 42-222 95-213 119-316 181-194 119-261 174-131 133-153 148-31 16-45 15-28-5-49-25-48-65-60-110-10-80-3-102 18-34 32-43 32-15 64-11 84 22 134 57 93 82 123 133 50 110 57 174 0 129-12 163-24 46-38 54-27 13-49 11-54-14-97-50-94-97-139-173-81-164-106-249-34-165-30-218 16-87 33-110 38-38 66-45 64-9 119 7 129 55 193 102 117 102 156 161 67 120 93 216 51 184 73 222 45 55 68 66 48 14 79 7 72-25 118-66 98-108 141-185 80-168 100-248 23-140 17-178-18-58-33-72-34-24-64-25-76 5-153 38-183 92-280 151-182 120-246 177-121 138-165 196-56 60-75 67-37 7-61-1-57-30-93-75-73-115-91-178-21-115-14-147 20-47 35-60 33-21 63-21 81 10 147 42 135 83 188 135 89 106 120 174 60 186 84 243 47 81 71 99 50 25 81 24 68-9 114-38 99-80 150-148 98-154 135-244 65-183 77-259 6-127-3-160-25-51-44-64-42-20-81-17-101 20-191 62-198 102-293 161-175 116-232 170-103 130-141 190-45 58-59 64-28 7-46 1-45-21-75-61-61-104-72-157-8-90 1-113 21-36 38-46 36-16 73-11 97 28 158 67 115 89 154 141 66 109 86 187 37 194 55 249 39 79 62 98 49 30 82 32 72-5 120-30 103-69 158-132 108-144 154-234 86-188 115-284 45-188 47-253-9-104-22-131-32-41-56-50-53-12-105 0-135 50-238 103-219 117-322 175-191 113-245 161-79 77-112 149-36 68-43 72-13 6-21 4-18-5-36-28-38-72-42-109 3-61 13-76 20-25 38-31 41-9 81 3 92 45 133 85 71 88 89 140 24 112 18 155-19 64-30 76-24 18-39 19-36 0-67-20-78-62-120-127-79-146-101-224-27-147-22-192 18-68 34-86 35-29 62-33 66-3 119 19 117 66 167 116 90 105 120 173 57 180 82 265 48 122 72 149 50 40 78 46 60 5 100-11 89-50 140-105 103-131 146-216 80-180 101-265 24-149 19-192-17-63-33-79-33-24-62-26-70 2-145 33-182 90-287 151-209 124-290 182-134 107-196 180-66 67-82 72-30 5-49-3-45-28-72-70-49-102-53-146 3-69 13-86 23-28 41-35 44-11 87 1 107 49 159 92 91 93 120 149 47 121 57 205 10 196 18 269 19 98 34 119 34 35 62 44 65 11 112-1 101-40 158-87 117-113 172-192 107-172 152-271 84-204 113-306 49-202 53-278-4-122-17-155-30-50-53-62-50-16-94-8-112 34-210 83-215 115-326 172-230 110-325 158-140 80-164 107-31 49-33 80 21 122 23 142 0 17-2 19-2 2-4 2-3 1-8-4-25-29-35-65-8-68-1-87 16-28 28-35 29-12 54-7 65 22 101 54 64 75 81 121 19 97 13 128-16 45-26 53-19 12-33 12-31-4-61-28-72-76-104-141-53-141-57-196 5-87 16-108 25-33 44-41 41-11 76-1 84 36 129 78 81 96 110 161 50 156 70 257 41 157 66 196 50 60 79 73 62 19 101 12 86-26 138-65 108-99 161-175 101-167 141-262 73-195 90-281 18-150 11-191-20-63-37-78-37-24-69-23-74 9-153 44-189 101-299 164-222 123-325 180-178 106-235 157-75 68-83 70-13 2-20-2-17-11-26-34-11-56-6-75 14-31 26-39 27-14 52-11 63 15 101 44 69 69 86 110 22 86 18 114-13 39-22 46-17 11-29 11-28-2-56-25-66-71-94-133-44-129-44-176 10-70 22-86 24-25 43-30 42-5 79 10 84 48 123 93 70 101 93 173 39 184 56 271 38 134 62 168 50 53 81 65 66 16 108 7 91-31 145-75 111-106 164-185 103-170 144-267 76-200 96-291 24-163 19-211-18-72-33-90-35-27-64-29-65 2-135 31-175 88-284 149-219 123-328 179-215 112-276 155-100 98-107 105-7 5-9 5-3 0-6-2-7-9-7-29 6-38 14-50 20-18 36-21 39-3 69 12 63 45 82 76 27 67 26 88-8 31-13 37-11 8-18 8-18 0-37-16-51-55-70-105-22-98-18-124 14-38 24-47 22-14 39-13 41 6 73 30 66 66 90 119 40 123 43 192-9 125-20 150-22 33-34 39-25 8-45 3-55-22-98-67-90-116-127-196-66-169-78-244-9-131 2-169 29-57 49-71 42-22 75-22 81 13 138 44 115 84 159 137 78 113 105 191 51 204 74 273 47 102 71 125 50 34 80 38 63 0 106-21 93-62 144-123 102-140 143-228 74-181 91-262 17-138 10-173-20-55-36-68-36-23-68-21-82 10-165 49-193 103-299 166-209 125-289 183-155 138-197 178-51 38-67 40-30-1-52-14-51-45-74-93-34-103-32-137 12-53 23-66 26-22 49-25 58-1 109 21 110 66 154 112 75 99 97 161 33 139 36 225-5 170-16 203-21 44-33 52-27 14-52 11-65-15-115-51-105-92-158-167-101-163-142-257-74-195-95-288-28-177-23-236 22-93 40-119 41-38 71-46 70-10 134 6 156 61 245 110 171 103 229 156 96 103 124 162 46 149 63 236 32 107 47 124 29 24 46 27 38 1 68-16 71-54 111-113 74-137 91-205 17-118 10-149-19-47-34-60-36-20-69-19-90 13-167 50-166 96-234 151-118 109-157 171-82 173-110 222-49 63-72 75-47 15-77 10-70-23-115-63-96-102-139-178-79-165-99-245-23-144-17-185 19-62 35-78 36-25 67-28 77 4 151 34 173 82 257 137 152 112 203 169 89 128 131 210 56 90 76 103 37 17 60 14 52-12 89-44 81-88 116-157 58-147 64-203-3-89-14-112-26-34-46-43-45-14-92-5-123 44-200 89-145 101-196 156-85 110-120 192-68 164-92 194-45 42-70 49-52 7-87-6-81-42-129-94-97-127-136-209-69-172-82-246-9-124 0-157 24-50 42-63 40-20 78-17 99 19 184 59 185 98 267 154 145 112 192 171 98 161 128 207 46 54 65 62 37 9 61 1 59-27 97-71 79-113 103-182 33-131 30-171-16-59-30-75-31-24-58-27-66-2-130 23-145 75-210 126-113 105-151 165-72 160-102 235-51 99-74 119-47 27-75 29-62-5-105-30-93-71-142-136-95-149-131-236-59-177-66-245 1-110 12-138 26-43 47-54 45-16 90-9 119 33 211 79 194 107 276 164 142 112 189 170 97 160 122 194 40 39 57 44 35 4 60-7 59-37 94-87 69-122 83-182 11-104 3-131-21-41-37-52-36-18-71-15-96 21-164 59-137 89-186 142-83 107-113 180-58 188-82 235-46 68-70 82-50 21-83 18-74-17-121-52-102-91-152-164-95-161-130-251-58-182-66-253-1-116 11-146 26-46 47-57 46-19 90-13 116 31 209 77 202 109 294 167 164 113 215 168 102 145 131 190 39 45 53 50 28 5 47-2 47-27 78-70 58-109 67-161 3-84-6-106-21-33-38-42-39-14-79-7-104 33-165 74-112 91-149 145-63 112-83 193-36 193-55 241-40 73-63 90-51 27-85 28-75-10-124-38-104-74-159-141-106-149-151-240-84-191-110-286-40-183-39-243 12-96 26-120 33-38 58-45 57-10 114 6 148 61 253 116 221 118 322 176 179 110 229 157 77 92 108 159 28 46 34 49 13 4 22 2 21-9 40-37 36-78 37-113-7-55-17-69-22-23-41-28-47-6-89 10-95 52-134 94-66 91-82 144-18 113-11 153 21 57 33 68 23 16 40 17 38-4 73-27 80-73 122-141 76-150 96-227 22-143 15-184-20-64-37-81-36-28-65-31-70 1-125 26-118 71-167 122-86 108-116 178-55 189-80 267-47 112-72 137-50 37-78 42-62 3-103-16-91-55-142-113-102-136-144-222-76-181-95-264-19-142-13-181 19-58 35-72 35-23 66-24 77 6 157 42 188 96 293 157 205 124 282 181 137 123 189 183 57 53 72 57 31 3 50-7 48-32 75-77 47-106 50-148-5-66-16-83-23-27-43-33-46-10-92 4-110 53-161 97-90 94-117 152-46 123-57 212-15 198-28 251-28 75-48 93-45 32-77 36-74 1-123-20-106-59-163-117-114-134-166-220-99-185-138-285-70-206-88-299-22-169-16-219 20-80 37-99 39-31 69-34 71 1 141 28 177 85 288 144 224 118 333 173 199 103 244 139 60 64 71 95 7 111 8 129 3 13 4 15 3 1 5 1 3 1 11-8 25-45 29-77-3-54-12-68-20-22-35-27-36-7-68 5-74 42-104 79-52 82-60 125-2 80 6 98 17 26 26 31 21 7 38 2 43-19 77-60 72-108 93-174 25-124 19-161-19-54-32-67-29-20-52-21-55 4-98 29-89 68-125 120-64 113-85 197-39 204-59 269-44 100-70 125-55 40-88 45-72 3-118-16-99-56-154-112-110-132-159-219-93-184-127-281-56-194-63-267-2-117 9-147 27-48 47-58 45-16 87-8 107 33 204 84 212 120 321 180 224 120 317 174 141 87 194 144 37 34 41 34 8 0 12-3 12-11 17-32 2-46-5-61-17-24-30-30-32-9-60-2-67 30-97 63-50 71-58 106-2 61 4 75 13 18 21 21 16 5 31 0 38-19 68-61 58-105 67-157 5-87-4-108-19-31-33-38-30-11-55-5-63 24-100 60-70 87-94 149-38 140-45 234-7 202-15 272-21 97-38 120-38 41-70 51-73 14-120 3-102-36-160-81-117-108-174-186-110-169-157-267-89-204-122-309-57-206-67-291-7-141 3-180 24-59 44-73 43-22 80-18 88 16 172 58 200 112 308 171 212 113 318 159 238 93 297 121 63 41 70 54 10 25 5 45-54 98-75 138-13 35-12 38 1 3 2 4 2 1 4 0 6 1 20-20 28-64 28-92-8-43-16-53-19-16-33-18-35-1-64 15-64 49-86 89-36 89-37 129 10 61 18 72 17 17 27 19 22 2 43-10 56-42 89-97 60-127 68-185 2-94-8-116-22-34-37-42-34-12-62-6-71 26-112 63-77 88-104 151-46 146-63 249-34 176-56 221-47 71-75 89-61 26-100 25-83-13-134-45-108-81-163-149-108-154-155-247-86-194-115-292-46-190-48-254 7-101 20-126 29-39 51-47 50-10 99 4 129 53 232 111 217 123 325 182 224 114 319 165 143 85 175 122 27 31 28 32 2 0 3 0 1-1 2-5 1-25-6-40-17-24-30-30-30-8-54-1-55 26-79 53-35 59-37 80 3 32 7 37 9 9 14 10 12 2 26-7 38-35 57-77 23-87 20-112-13-36-21-43-18-12-33-12-35 6-63 28-59 63-79 113-31 115-29 168 16 79 26 92 19 19 31 22 25 2 50-11 63-46 102-105 75-138 95-211 23-135 15-175-22-61-38-77-37-20-60-22-57 3-101 26-94 70-133 122-69 113-93 194-44 207-66 276-46 108-73 134-54 41-86 47-70 3-114-15-96-52-150-108-108-132-156-218-90-183-121-278-49-186-52-250 7-97 19-122 28-37 49-45 48-10 97 4 129 53 232 111 216 124 325 185 217 120 299 173 151 116 168 124 24 7 33 5 18-8 30-27 22-54 21-79-9-41-19-51-22-19-42-21-50 1-89 22-81 58-108 98-44 87-47 128 6 69 14 84 18 20 29 24 22 4 43-5 54-32 89-82 70-123 86-188 15-117 8-148-20-47-35-58-31-18-58-17-66 11-112 41-91 76-125 131-60 119-82 210-40 202-62 258-46 86-73 107-56 33-90 35-75-5-123-30-103-69-157-132-108-143-154-233-87-189-115-284-43-183-44-243 8-95 22-118 30-38 53-44 53-9 106 7 140 59 245 117 218 124 327 183 216 118 289 168 134 119 149 131 18 10 23 9 12-2 20-11 20-36 22-63-5-45-14-58-19-20-36-25-40-4-75 10-76 46-105 83-46 80-51 119 3 65 10 79 15 19 25 23 20 4 38-3 47-28 80-74 64-117 77-176 9-102 0-128-20-38-34-47-31-15-58-11-66 20-108 53-82 81-111 139-50 130-67 228-31 193-52 244-44 79-71 100-58 32-94 34-78-6-128-32-106-70-162-133-110-146-158-236-91-191-124-290-53-193-60-266 0-118 11-148 27-45 47-56 46-16 88-8 109 32 206 84 213 121 321 180 223 116 323 169 162 94 195 128 44 62 46 64 2 1 3 1 1 0 2-2 5-6 3-26-9-35-19-45-22-16-39-17-42 2-70 20-56 50-70 81-15 57-12 71 8 19 13 22 10 5 18 4 21-4 43-27 48-76 58-120 4-74-2-91-16-24-27-29-23-8-43-3-50 22-80 57-57 85-72 144-17 131-10 176 21 62 31 72 21 14 35 15 32-2 63-24 77-71 117-140 73-150 90-226 19-137 11-176-22-60-39-75-35-25-64-26-68 5-118 31-103 72-144 124-74 113-100 192-48 204-71 275-47 106-73 131-53 38-84 43-66 3-110-17-95-55-147-113-106-137-151-224-84-185-109-275-34-165-32-215 14-75 27-94 32-28 57-32 58-3 121 21 164 77 271 138 219 127 321 187 181 113 249 172 97 84 112 89 26 3 40-3 34-22 53-57 29-81 27-110-11-46-21-58-24-20-46-23-55 0-100 22-96 63-130 107-59 95-72 151-9 115 0 150 22 48 34 58 25 13 44 12 44-9 81-39 86-85 126-157 73-157 91-234 17-138 9-177-22-61-40-76-38-27-69-28-76 5-134 32-120 77-169 128-86 109-115 181-56 194-80 267-48 104-72 127-49 35-78 38-62 0-104-20-92-61-142-121-100-141-140-228-72-180-86-258-13-130-4-164 21-51 38-63 37-21 72-18 90 14 176 56 197 104 299 166 196 121 265 178 138 144 173 182 46 37 62 40 32 1 55-13 54-43 82-93 44-112 46-153-7-65-18-81-25-26-46-32-49-8-98 8-114 56-166 102-92 96-120 154-47 127-62 224-29 173-48 212-39 59-63 73-55 22-92 19-83-16-135-50-109-88-163-160-107-158-152-252-83-196-109-292-39-184-39-247 11-97 25-122 33-39 58-47 55-10 111 5 143 54 249 110 222 119 328 177 200 112 255 157 81 79 102 127 34 88 39 93 9 6 13 6 9 0 19-10 31-43 38-79 3-65-4-82-19-27-33-34-35-11-67-4-79 33-119 69-69 81-86 129-21 98-16 133 18 50 28 59 21 14 35 15 34-3 65-26 74-72 110-137 63-145 73-210 3-108-7-135-24-42-41-52-38-17-72-12-82 22-133 58-96 86-131 145-61 124-85 222-46 190-70 238-49 71-76 88-57 24-92 21-77-15-126-48-104-87-156-158-102-159-142-251-72-191-88-274-15-141-8-179 21-58 38-72 37-22 69-21 80 10 162 48 194 102 303 164 220 126 309 183 146 102 209 168 58 51 69 53 22 2 35-6 33-28 49-65 20-78 16-103-13-38-25-48-27-18-52-18-64 8-110 35-90 72-120 118-48 100-54 153 2 98 13 121 22 33 34 39 26 9 48 3 53-21 94-64 86-112 119-188 55-158 60-221-3-101-16-127-27-42-48-51-47-16-87-9-98 32-154 72-104 94-142 153-64 123-90 221-50 187-74 230-49 65-75 79-54 19-89 15-76-21-124-58-103-97-152-172-94-165-128-256-55-179-60-245 2-102 13-127 26-40 47-49 46-15 93-4 124 41 223 94 212 119 312 181 184 118 247 174 124 134 146 150 33 18 48 17 31-6 55-28 54-67 71-117 17-93 11-119-17-39-31-50-30-17-60-16-77 15-132 47-106 80-142 129-61 105-77 174-20 157-15 230 19 106 30 124 24 25 40 30 38 6 73-7 85-45 137-101 105-131 151-216 86-182 115-276 45-187 47-258-9-116-24-147-33-49-58-61-56-19-107-12-128 32-212 74-169 98-231 151-106 106-139 165-53 131-75 231-39 130-56 151-32 30-51 34-41 3-71-11-72-48-115-104-82-133-106-207-33-139-29-180 16-60 29-76 31-24 58-27 67-1 138 27 165 81 246 136 146 111 195 169 90 141 129 215 57 88 80 102 43 19 70 16 61-14 103-47 91-90 133-161 77-158 96-234 19-134 13-172-20-56-36-71-36-23-69-24-82 6-158 38-168 86-244 141-133 110-177 169-88 159-121 223-51 76-72 88-41 17-67 13-58-16-99-51-88-94-126-166-67-156-78-222-5-108 5-136 23-42 41-53 41-18 81-13 109 27 190 69 166 99 229 154 109 109 148 177 82 174 107 210 46 48 68 56 46 9 78-1 72-34 117-82 91-119 127-197 60-163 67-227-1-101-11-126-26-40-46-50-45-15-91-7-121 36-206 82-171 103-235 159-110 110-150 178-83 167-107 197-44 40-65 46-45 5-76-9-73-42-116-95-86-129-114-205-42-149-41-198 12-73 25-91 30-30 54-36 58-7 119 12 149 64 228 116 145 107 194 164 82 115 124 209 64 123 86 142 43 27 68 29 54-4 93-28 85-68 130-132 85-147 111-226 36-151 33-198-15-70-29-88-31-28-58-33-63-4-129 18-159 71-242 124-154 110-207 167-87 114-132 205-64 113-85 129-41 22-64 21-52-7-90-34-84-78-124-145-73-150-89-219-13-120-5-152 21-48 37-60 37-21 73-19 93 15 170 52 164 92 230 147 115 109 154 173 82 176 110 222 48 61 70 72 45 14 75 7 67-23 112-64 93-106 133-182 71-164 85-236 11-122 2-154-22-49-40-62-38-20-75-18-97 18-179 56-177 96-251 151-130 111-174 172-91 169-120 214-47 56-67 65-41 10-69 3-63-27-105-71-86-111-118-185-52-152-54-206 7-82 19-103 27-33 49-40 50-12 104 2 136 51 215 100 148 105 199 161 86 110 124 197 69 148 92 173 44 34 69 38 51 1 88-17 83-54 129-112 91-138 124-219 51-164 54-223-7-90-19-113-28-36-50-44-50-12-103 0-138 49-226 98-173 108-236 165-107 109-148 181-81 154-103 177-41 32-62 35-45 0-78-17-75-55-115-114-79-137-99-208-23-129-17-165 19-54 34-68 33-23 64-25 79 7 151 38 158 84 225 137 118 108 157 170 81 170 110 230 51 77 73 90 46 20 74 17 64-15 108-49 94-90 138-163 82-160 105-240 29-149 25-193-17-66-32-83-34-27-62-30-70-1-141 25-168 78-255 133-160 112-214 169-91 116-137 204-62 99-81 113-38 17-61 15-51-10-88-41-81-86-116-154-60-147-67-205 1-92 11-115 25-36 44-45 44-15 90-6 121 38 197 83 146 100 198 156 87 110 122 190 68 168 92 199 46 44 70 51 51 8 86-4 80-40 127-90 98-124 137-205 71-172 85-247 11-127 2-160-22-52-40-65-39-21-76-19-97 15-181 54-184 96-267 153-147 113-196 171-98 158-129 208-47 58-66 66-36 10-61 2-57-25-95-67-79-110-105-179-34-133-31-173 13-62 26-77 30-27 56-31 65-3 128 21 145 72 210 123 116 105 155 165 72 155 102 234 52 103 75 123 47 29 75 31 61-5 103-29 93-68 142-133 95-146 131-233 60-177 68-246 1-112-11-141-26-44-47-55-45-17-89-10-117 34-209 80-193 106-275 164-143 111-190 170-98 160-123 194-40 40-58 44-35 5-59-6-60-37-96-87-68-121-83-182-13-105-5-133 21-42 37-53 36-19 71-17 94 21 163 59 137 89 187 142 85 107 115 179 60 187 84 235 46 68 70 83 50 20 83 17 72-16 120-51 101-91 151-164 95-161 129-252 58-180 65-251-1-113-12-142-27-45-48-55-46-18-91-11-119 31-213 78-202 109-292 167-159 114-210 168-101 150-128 190-39 43-53 47-28 5-48-3-50-29-81-73-58-113-67-164-3-84 6-107 23-33 40-41 39-15 79-8 105 34 166 75 114 91 151 145 64 111 85 194 39 190 59 237 41 70 65 87 51 25 85 24 76-11 125-41 105-81 159-149 105-153 148-245 80-191 104-284 32-173 29-227-15-84-30-105-34-34-62-40-63-6-127 15-163 70-270 127-220 120-314 177-160 107-203 154-83 133-100 161-23 27-30 29-15 3-26-3-31-20-51-58-31-87-29-119 11-48 22-61 25-21 47-24 55 0 102 22 99 62 137 106 63 95 77 151 15 121 6 162-22 58-35 69-25 16-42 17-42-5-78-30-85-76-128-145-81-153-104-234-31-155-26-203 17-77 33-96 37-34 64-40 65-6 119 14 122 61 178 110 99 103 133 167 59 149 86 250 48 146 72 177 48 46 74 54 55 9 92-3 82-39 131-89 102-122 145-205 80-175 101-258 23-146 18-187-17-61-33-76-33-24-63-26-72 3-148 35-182 91-284 151-200 122-274 180-128 119-183 187-61 63-78 69-33 5-55-3-50-29-81-73-60-110-69-162-5-87 4-109 22-35 38-43 39-15 77-9 102 33 162 73 112 90 149 144 63 112 84 196 39 190 59 237 42 70 66 87 52 25 86 24 76-11 126-42 105-81 158-149 105-153 149-246 79-191 102-283 32-172 29-225-15-83-31-104-34-34-62-39-64-5-129 16-164 72-271 129-221 120-315 177-159 107-203 155-84 133-100 158-22 23-29 26-15 2-27-5-32-23-50-62-28-86-25-116 12-45 24-57 25-20 48-22 59 3 107 27 97 65 132 110 59 96 72 153 9 117 0 153-23 51-35 61-26 14-44 13-45-8-83-38-86-85-128-157-76-157-95-236-22-144-15-187 21-66 38-83 39-30 69-33 72 0 128 25 123 71 174 122 91 107 122 175 57 180 82 264 47 120 71 146 49 38 76 44 59 4 99-13 88-51 138-107 101-134 142-219 75-179 92-259 17-136 10-173-20-55-36-68-36-22-69-21-82 10-165 48-192 99-293 160-197 122-268 179-136 138-177 186-51 46-68 50-32 2-54-9-54-37-83-85-52-113-57-159 3-74 13-93 24-29 43-37 44-11 88 0 111 48 167 91 101 94 133 150 54 119 72 212 35 181 54 222 41 62 66 77 53 22 89 20 81-17 132-50 107-87 161-158 105-157 149-251 80-194 103-287 34-177 31-233-15-87-30-109-35-35-62-40-61-6-124 14-160 72-268 129-223 120-322 177-174 108-220 154-79 110-101 155-22 34-28 36-12 4-20 0-21-10-38-39-30-78-29-109 10-48 20-60 24-21 44-24 52-2 95 18 93 59 126 101 58 93 69 145 7 104-3 133-21 41-32 48-24 11-43 9-44-11-82-45-83-96-118-168-62-155-70-221-2-111 9-139 26-43 45-54 41-18 78-13 90 23 146 60 105 90 143 147 66 121 92 214 49 194 73 242 49 72 75 88 55 22 88 20 75-16 122-49 102-88 153-160 97-160 134-251 64-186 73-259 4-118-6-148-24-46-42-57-42-16-82-10-104 28-197 76-207 113-311 175-200 121-271 177-142 141-169 165-38 25-52 25-28-2-49-18-50-54-68-102-21-92-17-120 15-42 28-53 28-19 55-19 71 8 123 37 104 75 141 124 62 103 77 167 18 146 11 203-22 83-35 97-27 22-44 25-39 2-77-17-86-60-135-122-98-144-137-231-68-182-83-266-14-148-4-192 25-67 44-85 42-28 77-31 87 4 157 32 153 76 218 127 114 106 151 166 62 122 88 224 48 160 68 189 39 42 61 49 45 8 77-3 73-37 118-87 92-122 128-201 59-165 66-226-1-97-12-121-25-37-45-46-44-14-90-4-127 44-218 94-188 110-262 168-127 111-174 178-94 149-118 172-43 29-64 31-47-1-80-21-77-61-117-122-75-141-92-210-17-121-9-154 21-49 37-62 35-21 69-21 87 13 160 47 153 87 214 140 105 108 142 174 75 180 102 231 48 70 71 83 47 18 77 13 67-18 112-54 96-96 140-170 83-163 107-244 29-152 25-197-17-67-32-84-33-28-61-31-68-2-139 24-169 78-259 133-168 113-225 170-94 108-142 197-65 103-85 116-37 17-59 15-48-11-84-42-79-86-112-153-54-142-58-195 5-82 17-103 25-32 46-40 47-12 98 0 128 48 200 95 134 101 180 157 76 112 111 203 62 155 85 183 46 41 71 47 54 7 92-8 84-45 132-98 100-128 140-212 73-175 89-253 14-135 6-171-22-56-39-70-38-23-73-22-89 10-172 46-186 94-274 151-162 114-216 171-99 137-137 203-51 68-69 77-33 11-55 6-51-20-86-58-75-103-99-168-30-125-27-162 15-56 28-70 30-25 57-28 69 0 133 27 140 76 200 127 103 104 137 166 64 169 91 241 48 99 71 119 48 30 77 32 64-3 107-27 95-67 146-130 100-146 139-234 70-183 85-262 11-135 3-172-23-56-41-70-40-22-76-21-91 12-175 49-193 97-288 155-177 116-235 171-97 110-142 189-53 75-68 83-29 10-47 6-42-16-74-51-65-98-83-156-17-103-11-132 20-43 35-55 33-18 64-18 83 14 146 48 126 85 172 136 77 105 102 175 46 189 66 251 41 90 64 110 48 32 79 35 68-2 114-24 100-64 154-125 106-142 152-231 85-187 111-281 40-178 39-238-12-92-26-116-32-37-57-44-56-9-114 7-149 57-254 112-217 118-312 176-166 110-213 159-91 134-112 168-26 31-35 34-17 3-30-3-34-21-56-60-35-93-35-127 9-54 20-68 24-22 45-26 52-4 100 15 103 60 145 105 71 94 90 151 25 126 20 181-20 83-33 99-25 23-41 26-37 3-70-13-79-53-126-114-92-140-126-225-59-174-66-245 1-121 13-153 30-50 51-62 47-21 88-17 105 26 173 64 134 89 183 143 85 111 114 184 57 199 81 259 45 86 68 103 44 25 72 25 61-7 102-34 93-76 139-144 90-153 121-237 45-164 45-217-9-80-21-100-29-33-52-39-54-9-112 9-151 63-249 119-196 118-272 177-128 109-180 180-88 119-109 133-38 16-59 14-47-12-81-42-75-86-104-151-43-133-43-177 9-69 21-86 27-28 50-34 56-8 111 10 131 60 193 108 112 102 149 161 64 135 94 230 51 130 74 155 47 38 74 44 59 4 100-12 89-50 140-106 102-132 145-217 79-181 100-266 24-154 19-199-19-67-35-85-36-27-66-30-71 1-145 30-179 82-278 140-192 117-260 173-110 101-156 174-71 111-87 122-29 14-46 13-37-9-66-37-65-81-86-139-27-111-23-144 16-49 30-63 30-21 57-22 71 4 131 33 127 76 176 126 83 103 110 168 45 173 65 251 39 110 61 135 47 38 76 44 63 6 107-11 95-49 149-104 109-128 157-213 91-181 124-277 52-189 58-261-3-115-15-144-28-47-50-58-49-17-95-9-119 35-218 83-212 113-316 173-193 115-252 165-88 83-125 155-43 76-52 82-16 6-25 4-23-7-43-32-43-78-49-118 1-66 10-84 21-27 38-34 39-10 78 0 95 40 141 80 80 87 103 140 35 117 34 173-15 93-27 112-25 27-39 31-33 6-60-5-70-38-116-93-91-129-126-211-58-169-66-239-1-117 12-149 29-50 50-62 46-20 86-16 100 25 165 62 125 90 171 145 80 114 107 192 56 202 79 258 47 80 70 97 48 24 77 24 65-10 109-39 95-81 143-150 93-155 125-242 50-169 53-228-6-90-18-112-27-35-49-42-49-13-102 2-140 52-239 107-204 118-290 178-148 113-202 175-101 130-122 144-37 18-56 16-41-8-72-35-69-79-94-140-37-121-34-160 13-58 26-73 28-24 52-28 60-3 117 19 128 67 182 116 95 101 125 163 55 160 78 245 44 119 67 145 47 39 75 45 63 6 105-11 92-48 145-103 106-128 153-213 87-181 115-273 44-181 44-241-10-96-24-120-31-38-55-45-55-11-110 4-145 57-248 111-213 117-305 175-161 110-209 162-97 143-117 169-28 26-39 29-22 2-39-8-44-36-67-81-35-100-34-135 11-54 22-67 25-23 47-27 57-2 107 19 111 63 154 108 76 98 97 157 32 133 31 205-15 120-28 143-24 32-39 38-33 9-63 0-74-33-123-82-101-119-147-202-83-175-109-266-39-176-37-238 13-100 30-127 37-44 64-54 62-14 116-2 135 47 212 93 145 99 195 154 84 111 112 181 52 196 73 253 41 77 60 92 39 21 63 20 55-8 94-36 87-81 130-149 79-154 99-229 23-133 17-169-18-54-33-68-34-23-65-24-79 6-157 40-178 91-263 149-154 114-206 173-104 154-139 209-54 63-75 72-42 12-69 5-63-26-104-68-86-110-119-183-52-152-55-207 6-86 18-107 27-34 49-42 49-12 101 0 132 49 208 97 145 102 195 159 83 110 120 197 68 154 91 180 45 38 69 43 52 3 88-13 81-49 128-105 93-134 128-216 57-167 63-231-3-99-14-125-27-39-47-48-47-15-94-6-127 40-216 88-180 106-250 163-118 110-160 176-88 161-111 188-42 36-62 40-42 2-73-13-71-47-111-102-78-132-99-203-25-128-19-165 19-53 34-68 33-22 63-24 77 5 147 35 154 83 220 136 114 107 152 169 78 171 107 233 50 80 73 95 46 21 75 19 64-13 108-45 94-87 140-158 87-159 113-242 38-159 36-210-14-76-28-95-32-31-58-36-60-6-124 14-160 68-251 122-174 112-235 168-101 106-146 187-73 127-94 144-37 21-57 21-46-6-79-31-77-73-112-137-62-142-69-199-1-93 9-117 26-35 45-44 42-16 86-8 116 37 189 81 141 98 190 153 83 109 116 190 66 172 90 206 46 48 70 57 52 10 87 0 79-35 128-82 100-118 143-199 79-173 99-255 23-147 17-190-19-63-35-80-36-25-67-28-75 3-150 33-178 83-270 140-173 115-232 171-95 106-143 193-62 96-80 107-33 14-54 11-46-12-80-44-74-90-102-155-39-130-38-173 12-64 24-80 28-26 52-31 59-5 117 16 137 65 200 114 110 103 147 162 65 144 94 233 50 120 73 144 47 35 75 40 60 2 101-17 92-56 143-114 101-135 143-221 76-180 95-264 22-151 15-193-19-65-36-81-37-28-69-30-77 4-155 35-182 87-280 145-188 117-253 172-103 100-148 176-67 107-83 117-28 14-45 11-38-9-67-37-66-84-87-142-26-112-22-144 15-50 29-62 29-22 57-24 72 5 132 33 128 77 177 126 84 104 111 169 47 174 67 251 39 109 62 133 46 38 75 44 64 5 108-12 95-51 149-106 108-128 156-214 90-181 122-277 51-189 55-258-4-112-16-141-30-45-52-55-50-15-98-6-124 41-223 92-214 114-316 173-188 114-244 164-85 87-125 164-38 60-47 65-17 5-28 2-26-11-47-41-42-83-46-123 4-63 13-79 22-26 40-32 43-9 84 4 99 45 144 87 79 90 101 144 33 119 30 176-15 93-28 112-25 27-40 31-32 6-62-6-71-42-117-96-93-132-128-215-61-171-70-244-1-122 10-154 28-51 48-63 46-22 85-18 100 20 166 56 130 88 178 142 84 112 112 187 56 198 80 259 46 88 69 106 47 26 75 26 62-7 104-33 93-75 141-142 92-151 125-237 51-170 54-228-6-91-18-113-28-35-50-42-48-11-101 3-139 56-238 111-201 117-284 176-143 112-196 176-99 130-121 145-37 18-57 17-44-9-75-36-72-80-100-142-42-128-41-170 10-66 22-82 27-27 50-33 56-7 111 12 129 62 188 111 105 101 139 161 60 142 87 235 48 128 71 155 47 39 74 46 60 6 101-10 90-48 142-102 105-129 150-214 84-180 110-270 35-168 33-221-14-83-29-103-32-33-59-39-61-8-124 13-161 66-264 122-206 118-288 175-136 107-179 164-87 138-104 155-28 20-41 21-28-2-51-18-56-56-79-108-33-108-31-143 13-53 26-67 28-22 52-25 61-1 115 23 119 69 166 117 81 99 105 161 38 139 49 237 22 166 39 201 35 55 59 69 54 22 92 19 85-16 138-51 111-87 167-158 108-157 155-251 87-196 117-296 50-196 54-270-4-117-16-149-30-48-52-59-50-16-95-7-117 34-216 84-216 114-327 172-226 117-301 164-110 82-131 117-33 97-38 134-8 26-10 28-5 2-8 2-6 0-15-12-28-52-31-85 4-53 13-67 21-22 37-27 39-7 74 6 79 46 111 84 54 84 63 129 5 85-4 107-18 29-28 35-21 8-38 3-42-15-78-54-75-104-100-173-34-135-31-179 15-65 28-80 28-25 49-29 52-2 95 18 94 57 135 105 72 106 97 181 45 197 66 273 44 116 70 144 54 44 85 52 66 8 110-8 94-46 148-98 109-126 159-210 93-181 127-276 55-190 62-261 0-114-11-142-25-44-46-54-44-16-87-8-112 33-210 85-212 120-321 181-221 122-305 175-155 125-185 152-28 20-36 20-13-1-22-10-25-31-30-60-1-55 6-70 17-25 32-31 35-10 67-1 76 35 111 70 60 80 73 123 10 84 3 107-16 32-26 38-19 9-34 7-37-10-70-43-72-94-98-160-36-133-33-174 13-64 26-80 28-25 50-29 48-3 87 15 89 57 128 105 69 108 93 184 40 195 59 274 41 121 66 151 52 47 83 57 68 10 111-3 94-40 149-89 110-117 162-199 98-176 136-274 67-198 81-281 11-142 3-180-23-57-40-71-40-21-74-18-83 15-167 56-198 109-308 170-222 121-325 177-181 103-230 147-66 67-72 69-8 2-11 0-8-3-14-17-9-43-4-61 14-30 25-37 27-13 50-11 58 16 92 43 59 65 72 100 12 69 7 87-12 24-19 29-14 6-26 4-29-8-56-38-61-88-76-142-15-99-8-125 17-37 29-46 26-13 48-11 53 12 90 42 72 75 99 133 44 128 52 214 9 190 2 261-18 88-27 101-19 18-34 21-35 3-74-15-91-59-145-120-106-142-151-231-85-187-114-283-45-190-48-265 7-123 22-157 34-56 60-69 57-27 106-22 121 25 203 64 166 94 230 147 108 105 140 163 53 118 70 217 33 177 50 209 33 46 51 55 38 11 64 5 62-24 105-66 89-110 125-185 61-159 68-220 0-95-11-118-24-37-43-46-42-13-89-4-124 39-214 88-181 109-251 167-119 110-163 178-90 155-114 180-44 33-67 36-48 1-82-17-79-56-122-115-82-138-107-214-33-144-29-187 16-66 30-83 32-27 59-31 67-2 134 22 154 75 228 128 132 107 177 165 81 143 117 224 56 101 78 118 44 23 69 23 58-8 98-35 88-77 132-144 84-152 107-231 31-147 27-191-17-65-32-82-33-27-60-30-69-1-139 25-165 78-249 132-153 111-204 169-91 126-134 210-59 95-80 109-40 19-65 17-54-12-92-43-85-87-123-156-67-151-77-216-6-106 4-134 24-41 42-52 41-18 81-13 108 28 187 70 158 97 218 152 102 109 139 179 77 175 102 212 46 51 69 59 48 10 80 1 73-33 119-79 94-117 133-196 68-167 80-237 6-117-3-148-24-46-42-58-41-19-81-15-104 23-189 65-179 99-254 155-129 110-173 172-92 169-119 208-45 50-65 57-41 8-69-1-64-31-105-78-84-118-113-191-41-144-40-192 12-70 26-88 30-28 54-33 57-8 117 12 145 65 219 115 134 105 180 163 77 123 116 217 59 121 82 141 45 30 71 32 56-3 95-25 88-65 135-128 91-145 123-228 50-167 52-225-8-90-21-112-28-36-51-44-51-12-105 2-141 51-231 101-178 109-244 166-111 109-153 179-83 152-105 174-39 29-59 32-43 0-75-19-73-56-112-115-73-138-89-204-15-115-7-147 21-46 38-58 36-20 70-19 91 17 165 53 153 90 212 144 102 107 137 174 74 181 100 229 48 65 71 77 48 17 79 12 70-20 116-58 97-100 142-175 84-165 108-248 31-155 27-202-16-70-31-88-33-29-61-33-66-3-135 21-167 75-258 130-173 113-233 170-97 104-144 189-69 115-89 129-35 18-56 17-46-8-80-36-76-81-109-146-54-139-58-191 6-81 17-101 26-32 46-40 47-12 98 1 127 49 198 95 130 101 174 157 74 112 107 205 60 155 83 183 46 42 72 49 54 7 92-6 84-44 134-96 100-127 143-210 76-176 95-258 20-145 14-185-20-63-36-78-37-26-69-27-79 3-157 35-181 87-275 144-175 115-234 171-96 106-144 191-60 93-77 103-32 13-52 10-44-13-77-45-73-92-97-155-33-123-30-161 13-57 26-72 29-23 55-27 65-1 126 23 136 72 193 121 100 104 133 166 60 162 86 242 46 109 69 132 47 34 76 38 63 1 105-18 94-58 146-117 103-138 147-225 79-184 100-271 28-159 22-207-19-70-35-89-36-29-65-32-68-2-139 24-174 80-276 137-200 117-273 173-120 104-162 166-77 127-93 140-27 17-41 16-32-4-57-25-60-68-82-124-29-108-25-141 13-50 26-63 29-22 55-24 67 2 125 28 122 74 169 123 81 102 105 165 40 156 54 248 31 135 51 165 41 47 68 57 60 14 101 5 91-32 145-76 111-107 164-185 102-171 142-267 75-199 94-291 25-168 19-219-19-77-35-97-37-31-67-34-69 0-139 26-175 82-285 141-226 120-324 176-167 103-207 145-59 72-82 143-20 45-25 48-8 4-14 3-12-3-26-22-32-64-34-98 6-54 15-68 21-22 39-27 43-6 82 9 87 49 122 89 59 88 71 137 10 97 1 125-19 39-30 46-22 11-39 9-41-10-77-43-80-93-112-164-55-149-59-208 5-95 16-118 27-37 46-45 43-13 81-4 93 35 144 76 93 92 126 154 56 137 81 242 47 169 71 208 50 61 78 74 58 17 95 11 82-25 133-65 105-102 156-178 97-168 132-261 62-189 71-263 4-118-7-148-24-46-43-57-42-16-82-10-104 29-198 77-209 115-316 177-211 122-287 177-150 137-179 162-35 22-47 22-23-2-40-16-41-49-53-90-12-76-5-98 16-33 30-42 30-15 61-11 77 19 125 53 87 79 115 128 43 107 47 162-8 101-19 123-24 32-37 38-28 8-52 1-59-26-102-73-89-117-125-196-59-164-67-232-1-115 11-144 27-48 48-60 45-19 84-15 97 24 157 62 117 90 160 146 74 116 101 200 53 201 77 253 47 75 72 92 50 23 81 22 69-12 115-44 98-85 147-156 95-158 128-246 55-176 60-240-3-99-14-123-26-38-47-46-46-14-93-3-128 43-227 96-208 118-302 178-169 116-227 175-115 135-137 151-36 19-53 18-36-6-63-30-63-71-85-127-29-110-25-143 15-51 28-64 28-21 54-23 67 3 124 30 120 72 166 121 80 102 105 167 41 169 58 254 35 121 56 149 45 43 73 52 62 10 105-3 93-40 148-89 110-117 161-199 97-176 135-272 66-198 79-282 12-146 3-186-24-62-43-77-41-24-77-22-86 12-171 50-197 101-307 161-222 120-304 173-131 96-164 141-62 120-71 132-14 13-20 14-11 0-22-7-30-31-44-69-14-76-8-98 16-35 28-45 29-15 57-13 70 15 115 46 84 74 110 121 40 102 42 150-10 82-20 99-22 25-35 29-27 5-51-4-61-36-102-87-82-127-108-203-37-149-35-199 14-76 28-95 30-30 54-36 56-6 103 11 108 53 157 100 88 103 119 170 55 171 80 262 47 135 72 165 50 47 79 55 60 9 100-4 88-41 139-91 105-122 152-205 88-178 115-268 41-173 41-228-11-83-24-104-30-32-54-38-54-7-112 12-152 66-257 124-217 124-314 184-172 114-232 171-105 110-121 118-28 10-43 6-33-12-56-42-48-82-55-126 0-70 9-88 20-29 36-36 39-12 77-3 96 37 145 77 86 89 112 143 43 117 46 184-7 127-19 155-25 39-39 47-30 11-54 6-62-21-108-63-97-109-140-188-82-170-106-256-33-166-29-222 19-87 36-110 37-36 64-43 65-9 122 8 137 59 204 106 124 101 165 158 70 117 97 207 52 188 74 226 43 56 65 66 45 14 75 8 69-25 114-66 95-106 137-183 75-165 92-240 16-129 9-162-20-51-36-63-36-22-70-21-88 12-171 51-188 99-278 158-164 117-219 175-114 155-148 198-49 49-69 55-40 6-67-5-64-36-102-85-77-121-98-190-26-125-20-161 16-53 31-67 32-24 62-26 76 3 142 33 145 80 204 132 104 106 139 170 70 178 96 241 50 85 73 102 47 24 77 24 65-10 110-39 95-79 144-148 93-154 127-242 54-175 58-239-3-103-15-129-29-41-50-50-49-14-98-4-130 44-224 94-196 110-275 168-137 111-183 170-96 157-119 183-37 31-54 34-36 2-62-13-63-47-98-101-61-127-71-182-4-92 6-115 22-36 40-46 40-15 82-9 108 35 176 77 129 95 173 149 74 110 102 192 55 180 78 219 45 58 70 70 53 17 88 11 79-25 128-65 104-102 152-179 93-168 126-259 53-181 58-249-3-107-15-134-28-44-50-54-49-16-97-7-127 39-224 88-205 112-295 170-158 113-208 167-99 149-124 185-36 37-49 41-27 4-47-5-48-31-78-77-53-110-59-158 2-76 12-95 23-30 41-37 42-12 87-2 110 42 168 85 103 94 137 149 56 116 73 203 31 190 49 235 38 69 62 86 51 26 86 26 76-10 126-39 107-77 161-144 108-151 154-242 86-192 114-289 44-187 45-253-8-104-21-130-31-42-55-51-54-14-106-1-136 47-239 100-220 118-326 176-199 114-255 160-85 82-109 134-37 89-43 95-10 6-16 6-11-1-24-14-35-51-42-89-3-66 5-84 19-28 34-35 34-11 68-4 82 33 124 69 73 82 93 131 26 106 21 147-16 61-27 73-22 17-36 19-33 0-63-19-72-60-112-123-74-143-92-216-18-132-10-170 22-57 38-71 35-22 63-24 71 8 123 36 109 74 152 126 76 110 103 189 51 203 75 267 48 95 73 117 52 33 84 36 68-3 112-26 97-65 149-128 103-143 145-232 77-186 97-270 22-151 16-193-19-62-35-78-35-24-64-25-72 6-149 39-185 95-292 157-216 124-302 182-143 105-207 174-66 62-80 66-26 3-42-5-40-29-62-69-35-92-34-126 10-52 21-66 24-22 45-26 53-2 101 18 104 60 144 105 71 95 89 154 26 132 21 190-20 89-32 105-25 25-42 28-36 4-68-11-80-51-127-109-95-138-132-223-64-177-75-253-7-133 4-169 28-60 49-75 47-26 84-26 94 13 162 46 139 85 194 138 95 109 126 176 58 178 82 259 45 112 67 134 44 32 69 36 54 1 92-18 86-58 133-118 94-140 129-224 56-168 61-230-3-94-14-118-26-36-46-44-46-14-95-2-130 44-226 96-197 114-278 173-141 113-192 176-100 142-123 161-40 23-61 24-43-5-75-28-73-70-107-132-57-136-63-190 3-85 13-107 25-33 44-42 45-13 91-3 118 42 186 87 126 97 169 153 73 112 103 203 58 166 81 198 47 48 72 57 54 11 91 0 82-36 132-84 103-117 148-199 84-174 108-261 34-162 31-213-15-77-29-96-33-31-60-36-64-6-130 16-166 71-264 127-195 117-267 173-119 106-162 172-81 130-98 144-31 18-48 18-36-5-64-27-66-71-92-130-39-120-38-160 12-60 24-75 27-25 50-30 59-4 115 17 128 65 184 113 97 100 128 161 53 144 76 238 43 131 65 159 45 43 73 51 60 9 101-4 90-42 143-93 108-122 156-205 92-178 124-272 51-186 56-255-3-111-16-139-28-44-50-54-49-17-97-8-124 37-222 87-212 113-311 172-180 114-235 164-92 112-126 175-37 51-47 55-19 6-32 1-33-15-57-50-45-92-49-133 3-66 13-83 23-27 41-33 43-10 85 2 103 47 152 89 84 90 109 145 40 121 43 189-9 127-22 155-25 38-39 45-31 10-56 5-65-23-112-67-99-110-143-190-83-171-108-259-37-171-34-229 15-94 32-120 38-39 65-48 62-11 118 3 134 52 205 98 132 100 177 156 76 114 103 195 52 197 74 243 42 64 62 76 43 18 71 14 63-16 106-52 92-94 135-168 78-160 97-237 20-134 14-169-18-53-34-67-34-23-66-23-81 7-161 43-182 94-272 152-163 116-219 175-111 152-147 203-52 57-73 65-40 9-67 0-62-30-101-75-81-115-108-186-36-138-34-181 13-66 27-82 30-27 56-32 62-5 124 18 144 71 211 122 119 104 159 164 73 149 105 232 54 106 77 126 46 29 73 31 60-4 102-28 91-67 139-131 94-147 128-233 56-173 62-238-4-103-15-129-28-40-49-49-47-15-95-6-127 41-219 89-190 108-267 166-132 110-177 171-94 160-117 187-39 33-58 37-37 2-65-12-65-47-102-101-69-129-82-190-10-105-2-133 22-41 39-52 37-18 73-15 98 23 168 62 141 91 192 144 87 108 118 181 63 185 87 229 47 64 71 76 50 18 83 14 74-21 122-58 100-99 148-174 91-165 121-254 48-173 50-234-8-95-21-119-30-37-53-45-52-13-106 0-142 49-239 101-198 113-277 171-135 109-180 168-92 153-113 176-35 29-50 31-33 1-58-14-61-48-93-102-55-124-60-174 3-79 13-99 24-31 43-39 44-12 90-1 116 44 179 88 115 96 153 152 64 113 89 205 47 172 69 209 44 54 70 66 55 16 92 9 82-26 133-68 105-103 155-181 96-169 131-262 61-189 70-265 2-123-8-156-27-49-47-62-45-19-86-14-106 26-199 70-205 107-305 166-185 116-244 168-92 97-137 175-46 69-58 75-22 7-36 3-34-14-60-48-52-91-60-138-2-77 6-97 21-31 37-39 39-14 78-6 99 34 153 74 98 92 128 145 51 113 61 187 9 167-1 220-23 69-35 81-26 19-45 21-49-2-91-26-96-71-148-137-102-149-143-240-76-187-97-278-27-171-21-226 19-88 37-112 41-40 72-48 72-9 136 9 153 60 235 109 150 104 200 158 84 108 110 176 48 192 67 248 36 75 53 89 34 19 56 18 49-7 86-34 84-79 124-147 72-151 87-219 12-116 4-145-21-45-37-56-37-20-73-17-98 18-181 58-175 100-248 156-126 111-169 173-91 170-119 210-48 52-70 60-46 10-76 0-71-32-116-79-91-116-126-194-61-162-68-225 0-103 11-129 27-40 47-50 45-16 90-9 121 38 204 83 165 102 227 158 104 109 143 179 80 170 104 201 44 42 66 48 45 7 77-6 73-40 116-92 88-125 119-203 49-155 50-208-8-82-21-103-28-32-51-39-52-11-109 4-142 58-225 108-157 107-211 163-91 109-133 195-71 141-93 162-43 30-67 32-50-1-87-22-82-61-126-123-84-142-110-220-35-148-31-193 15-68 30-85 31-28 58-32 64-4 130 19 158 73 238 126 146 109 196 167 85 123 127 212 60 106 82 123 42 22 66 22 55-9 94-36 86-78 128-146 77-151 96-225 20-131 13-167-21-54-37-68-35-22-67-23-83 8-159 42-167 87-240 142-129 109-172 170-88 166-119 223-50 70-72 82-43 16-70 11-63-19-105-56-90-99-129-172-70-160-82-228-9-116 1-147 23-45 41-57 40-19 78-16 102 23 183 63 170 97 239 152 118 109 159 173 86 174 113 214 46 53 67 61 44 10 74 2 68-30 111-76 90-114 124-191 58-158 63-218-3-95-14-119-27-36-47-45-47-15-95-5-127 43-210 89-163 104-222 160-100 109-139 183-77 163-101 190-43 38-66 43-48 4-81-11-77-47-122-102-88-132-118-211-47-156-47-209 10-80 23-101 29-31 53-38 54-10 111 6 145 59 228 109 157 108 212 164 91 109 133 195 71 139 93 160 42 29 65 31 51-2 87-23 81-63 124-125 83-143 107-219 30-143 26-185-17-63-32-79-32-26-60-30-69 0-138 26-161 78-238 131-139 109-186 167-86 142-123 220-57 93-78 108-43 21-69 19-57-11-98-41-88-84-129-153-77-155-96-229-19-131-12-167 22-54 38-68 35-22 68-23 84 9 160 43 169 88 244 143 131 110 175 170 89 165 120 221 51 70 72 81 43 15 70 10 61-20 103-57 89-100 127-174 66-157 77-223 4-109-6-137-24-42-43-53-41-17-82-13-109 29-191 72-167 99-231 154-110 109-149 177-82 173-108 208-45 48-67 55-46 9-77-1-71-35-116-84-90-120-125-197-57-161-62-222 3-95 15-119 27-37 47-46 47-14 95-5 128 43 212 90 166 104 227 160 103 109 143 182 80 162 103 189 43 37 65 42 47 4 80-11 76-48 120-103 86-133 114-210 41-150 40-199-12-74-26-93-30-29-54-35-58-7-120 12-150 66-230 117-148 108-199 165-84 113-127 206-64 123-86 142-43 27-67 28-54-5-92-29-85-69-129-133-83-148-106-225-31-145-27-189 17-64 32-81 33-26 61-30 68-1 137 25 162 77 242 131 145 109 194 167 87 134 127 216 58 96 79 111 42 20 67 18 55-10 95-40 86-84 127-153 73-153 89-224 14-122 5-155-22-48-38-61-38-21-73-20-92 16-171 53-167 93-235 148-120 109-160 172-86 174-114 220-48 61-70 71-44 13-73 7-66-25-110-66-91-107-129-182-68-162-79-230-5-112 5-141 25-43 43-55 41-18 81-14 107 26 190 68 172 99 240 155 117 110 158 174 86 172 113 210 45 48 66 56 44 8 74-2 69-33 112-81 88-119 120-195 52-155 55-210-7-86-20-108-27-33-49-41-50-12-103 1-136 52-218 101-155 105-210 161-91 109-131 192-72 150-95 174-43 34-67 37-50 1-86-17-81-54-125-113-88-139-118-218-43-156-43-208 12-77 25-98 31-30 55-37 55-9 115 9 148 62 233 113 158 108 213 165 91 108 134 195 71 134 93 154 41 27 64 28 50-3 86-25 82-66 124-130 79-145 100-218 24-135 18-173-19-56-34-71-34-24-64-26-77 5-150 36-163 84-236 138-128 108-171 169-86 162-118 225-52 78-74 91-44 18-71 15-61-15-104-50-90-91-132-164-76-159-93-233-18-130-10-166 22-52 38-66 37-23 70-23 86 11 164 45 172 90 247 145 134 110 179 170 91 164 122 219 51 68 71 78 42 14 69 9 61-21 102-60 88-102 124-175 61-156 69-217 0-99-11-124-26-38-45-48-44-16-89-8-119 37-201 82-160 102-219 157-99 109-137 182-77 169-101 199-45 43-68 49-48 6-81-7-76-41-122-93-91-126-126-206-56-163-62-225 4-96 16-120 26-38 47-47 47-14 96-5 128 43 215 90 171 105 234 162 108 109 149 179 82 162 105 189 43 36 64 40 45 3 77-12 74-48 117-104 83-133 108-208 35-142 31-186-16-63-30-80-32-26-58-31-65-3-131 21-154 74-229 126-134 107-179 166-82 139-119 222-57 101-79 118-44 24-70 24-58-8-98-35-90-76-134-144-85-153-110-232-33-151-30-198 17-67 32-85 32-27 59-32 65-3 132 20 162 74 247 128 156 111 210 168 89 113 134 204 64 108 84 124 40 20 64 19 51-9 89-37 82-80 121-147 69-149 81-215 9-111 0-139-24-44-41-55-39-18-78-15-102 25-181 65-159 96-220 150-104 109-141 177-78 178-104 217-46 54-69 63-47 12-79 3-72-29-118-74-94-112-134-190-71-167-85-240-10-124-1-156 22-50 40-62 39-21 76-19 98 19 181 58 179 96 256 152 135 111 181 171 94 166 123 212 47 55 67 64 39 10 66 2 62-27 102-71 84-112 114-185 45-145 45-194-11-73-24-93-29-28-52-35-55-9-112 9-142 61-216 111-136 104-182 161-78 117-116 212-61 131-84 153-45 32-71 35-55-1-94-21-87-60-134-121-93-142-127-226-54-169-58-231 5-97 17-121 27-39 49-47 48-14 98-4 132 44 222 93 182 108 252 164 119 110 161 176 87 159 110 184 40 33 60 36 41 2 71-14 70-49 109-105 75-134 92-201 18-118 11-151-21-48-36-60-35-21-68-21-87 13-159 48-152 88-212 141-103 107-139 173-73 181-100 232-48 70-71 83-48 19-79 15-68-18-114-54-97-94-142-168-87-163-113-247-37-161-35-213 14-77 28-96 32-31 58-37 60-6 124 14 160 67 253 121 180 114 244 170 106 106 150 181 76 132 96 148 36 21 55 21 43-5 75-29 74-72 108-135 56-137 62-191-3-84-13-105-24-33-44-41-45-14-92-3-123 41-193 87-131 100-176 156-74 111-106 199-59 165-83 197-46 47-71 55-54 10-91-2-82-37-132-86-101-119-146-201-81-174-104-259-30-159-26-206 17-73 33-91 35-30 63-34 68-2 138 23 171 78 268 134 187 115 253 171 109 104 153 177 74 122 91 135 31 17 49 16 39-7 69-32 69-76 96-137 39-124 38-165-10-62-22-77-28-26-51-31-59-6-115 15-132 68-190 117-102 101-135 160-57 144-83 236-45 127-68 154-46 40-74 47-60 6-101-9-91-47-144-100-105-126-152-210-87-180-115-272-42-178-42-237 10-94 24-118 32-38 57-46 56-10 112 6 147 56 249 110 211 117 300 174 152 110 198 163 93 146 113 171 28 28 40 30 24 2 42-8 47-37 72-84 40-105 40-143-9-59-20-74-24-24-46-29-52-6-102 13-114 58-162 104-84 97-109 155-40 129-45 214-2 183 7 230 20 58 32 69 24 17 45 17 55-5 102-33 103-77 157-145 106-151 151-243 82-191 109-288 43-191 43-261-9-117-25-150-38-52-64-64-60-19-112-11-130 35-221 78-184 100-256 153-120 104-155 158-56 106-73 192-32 173-47 201-27 37-42 44-31 9-54 2-56-25-95-69-80-113-107-184-38-138-36-180 12-64 25-80 29-27 54-31 62-5 126 18 154 75 230 128 135 107 179 165 79 131 116 218 57 107 80 126 46 27 73 28 59-6 100-31 92-72 139-138 91-150 123-234 49-169 52-229-8-92-21-116-29-36-52-45-51-12-105 1-139 48-230 98-179 109-246 165-113 109-154 177-83 157-105 182-39 31-58 34-41 2-71-14-70-50-108-107-73-134-90-200-15-115-8-146 21-46 37-58 35-20 69-19 90 15 163 51 151 89 210 143 101 107 136 174 72 181 98 230 48 67 71 80 48 18 79 14 70-19 116-56 98-97 144-172 86-164 112-249 37-161 35-211-14-78-28-98-32-31-58-36-61-7-125 13-160 67-254 121-181 113-245 170-107 106-151 180-77 133-96 149-35 21-54 21-42-5-74-28-73-70-106-133-56-136-61-189 2-83 13-104 25-33 45-41 45-13 93-2 123 47 193 93 129 98 172 154 73 111 105 202 58 162 81 193 46 46 72 54 55 9 92-2 83-39 133-88 101-121 146-203 82-175 105-261 30-159 26-207-17-73-32-91-34-30-62-34-67-3-136 22-170 75-268 131-190 116-257 172-111 104-155 174-76 125-93 138-31 18-48 17-38-6-68-31-67-74-94-134-39-123-37-162 11-62 24-78 29-24 52-29 58-5 115 16 130 68 187 116 99 101 132 161 55 146 79 237 44 128 67 155 46 41 74 48 61 7 101-7 91-45 144-98 106-125 154-209 88-179 118-272 46-182 48-246-9-99-23-124-30-40-54-48-52-12-105 1-139 50-241 103-212 115-305 173-163 111-211 163-97 144-120 176-30 32-41 35-22 3-38-5-42-29-67-73-41-101-42-140 7-60 18-75 23-25 44-30 51-7 98 10 111 57 159 101 82 96 106 154 39 126 42 202-8 146-20 177-24 41-38 50-30 12-56 8-63-18-112-58-102-103-151-180-93-169-126-261-57-188-65-266 0-133 13-169 30-58 52-72 49-24 91-22 108 18 187 54 166 89 231 141 113 107 148 165 58 122 83 224 43 148 61 173 36 35 55 40 42 5 72-7 72-42 115-94 87-129 116-205 43-151 43-199-11-73-24-91-28-28-52-34-56-7-117 13-155 69-242 123-164 111-220 168-94 109-141 198-70 117-92 134-43 22-68 22-55-8-94-36-86-78-128-146-78-152-97-226-21-133-14-170 20-55 36-70 35-23 67-24 82 7 156 39 164 84 235 138 126 109 168 170 85 166 116 226 51 76 72 89 43 18 70 14 61-16 103-50 90-94 130-166 74-158 89-230 14-124 5-157-21-49-38-62-38-21-73-20-93 16-173 54-173 93-246 148-127 111-170 172-90 170-119 217-48 59-69 68-43 12-71 5-65-26-107-68-89-109-124-184-59-157-65-218 2-95 13-119 26-38 46-47 45-15 92-6 125 40 207 86 160 103 219 159 98 109 136 184 77 165 101 193 44 40 67 46 48 5 82-9 76-45 121-99 91-130 123-209 52-160 55-218-7-88-20-110-27-35-49-43-50-12-103 1-137 49-223 99-165 107-225 163-100 109-140 185-77 153-100 176-42 33-64 36-47 0-81-18-78-55-121-114-83-138-107-213-32-142-28-184 17-63 31-79 32-26 59-30 68-1 136 25 158 75 234 128 135 108 181 167 84 144 120 222 56 95 78 111 44 22 70 21 58-10 98-39 89-82 133-151 80-154 102-232 25-141 20-181-18-61-34-76-33-25-63-28-75 3-148 32-168 82-248 136-144 111-192 169-91 144-128 217-56 84-76 97-41 18-66 15-57-14-96-48-87-91-124-162-67-153-78-219-5-106 5-134 23-42 41-52 41-18 82-13 109 27 189 69 162 98 223 153 104 110 142 179 79 175 105 211 46 49 68 57 47 10 79 0 73-34 118-81 93-118 130-197 64-165 74-232 2-109-8-137-25-42-44-53-42-17-85-12-114 30-199 74-176 102-245 158-119 110-161 174-88 170-113 204-44 44-65 50-42 7-72-5-69-37-111-87-85-123-113-198-41-147-40-194 12-72 25-90 29-29 54-34 58-7 118 12 148 65 225 116 139 106 186 164 80 119 120 213 62 121 84 140 44 28 70 30 55-4 94-27 87-67 133-131 88-147 116-228 42-159 42-211-12-78-26-98-30-31-55-37-57-8-117 10-153 62-240 114-166 110-224 167-96 107-140 190-73 134-94 153-40 25-62 26-48-5-83-28-79-68-119-131-73-145-88-213-14-117-6-148 22-47 38-59 36-20 72-19 93 17 169 54 159 91 221 145 108 109 146 174 78 179 105 225 48 62 71 73 46 15 77 9 69-23 114-63 95-104 137-180 77-165 96-243 19-137 12-175-20-57-36-72-36-23-69-24-82 7-160 40-177 88-260 144-149 112-199 170-96 147-132 212-53 74-72 84-38 14-63 9-55-18-94-55-83-100-115-171-50-145-53-198 7-79 19-100 26-31 47-39 50-11 103 3 135 51 209 99 139 104 186 160 79 111 116 204 63 147 87 173 45 36 70 41 54 4 92-13 84-52 132-108 96-135 133-218 63-172 72-242 3-113-7-142-25-45-44-56-43-18-86-13-113 27-201 71-187 104-265 161-135 111-181 171-95 165-121 201-43 44-61 50-38 6-64-4-63-36-101-85-77-121-98-189-25-124-20-159 17-53 32-67 32-23 61-25 77 4 145 34 148 82 210 135 107 106 142 169 72 176 99 237 50 84 73 100 47 24 76 23 66-11 111-41 95-81 144-150 92-156 124-243 52-174 55-236-5-99-18-124-29-39-51-47-50-14-101-3-135 49-230 99-192 110-268 167-131 110-175 171-92 156-114 181-37 30-54 33-37 1-64-14-65-49-100-104-63-129-73-185-4-94 5-118 23-37 41-47 39-16 80-10 108 33 177 75 132 94 178 148 77 109 106 190 58 180 81 220 46 57 71 69 52 16 87 9 77-24 126-65 104-104 152-181 91-168 122-259 49-177 52-240-6-100-19-125-29-39-52-48-51-14-103-3-136 46-234 97-203 113-288 171-147 111-193 167-96 152-118 179-34 32-48 35-29 2-51-10-55-40-85-90-53-117-57-164 3-74 14-93 25-29 44-37 44-11 89 0 115 46 174 90 106 95 140 151 58 116 78 207 38 179 58 219 42 60 67 74 54 21 90 17 81-18 132-54 107-93 160-166 103-161 144-254 75-193 95-283 24-163 18-211-19-73-35-92-37-30-68-33-71-1-144 27-178 82-286 141-220 121-307 176-144 103-183 150-76 133-89 151-19 19-26 21-16 1-28-7-35-30-53-71-24-86-20-115 14-42 26-53 26-19 51-20 64 6 112 32 98 70 131 115 57 98 68 156 7 118-4 153"/></g>
<g clip-path="url(#cc)"><path class="cv" transform="scale(0.2)" stroke-width="4.5" d="M1548 3838C1544 3838 1546 3838 1546 3838s-3 0 2 0 160 0 272 4 220 13 310 30 158 43 203 70 71 55 85 83 19 57 13 88-24 66-60 105-95 80-169 116-166 65-262 85-200 30-300 31-194-10-271-29-130-45-163-71-47-51-54-76-8-52 6-91 71-127 81-157 9-45 2-65-12-35-85-99-101-100-116-132-18-60-12-88 20-59 53-92 88-69 154-94 146-38 200-37 81 12 100 25 47 56 75 77 75 43 172 68 223 51 310 80 145 62 183 93 56 61 66 91 9 60-3 93-38 72-84 111-113 80-195 111-176 56-272 69-193 16-276 8-147-28-190-52-68-46-95-91-78-152-117-223-44-104-44-141 10-71 33-107 62-74 118-106 132-57 180-63 55 1 58 3 4 3 5 5 0 2-1 4 0 5-20 11-91 9-167-4-136-36-167-57-42-39-48-55-6-32 2-51 23-41 64-68 105-51 177-63 146-11 199 2 86 30 114 56 65 91 102 121 93 62 195 100 208 77 273 114 101 72 124 106 31 64 30 98-11 68-38 106-71 81-137 121-149 74-240 99-188 40-279 43-171-5-228-22-89-33-141-82-149-143-189-192-53-82-58-113-1-62 15-95 48-69 97-103 121-65 190-81 128-14 156-7 37 15 47 29 27 52 43 68 42 32 125 51 215 38 317 61 184 50 240 80 87 61 106 90 27 59 24 91-15 66-44 104-78 80-146 117-155 70-248 93-195 37-291 40-189-5-260-23-118-42-149-68-47-51-59-92-15-130-36-204-45-147-44-188 12-75 36-112 64-75 117-105 127-49 146-51 10 1 10 1 1 1 1 1 0 0-1 0 12 2-17 4-116-9-168-29-75-39-87-55-15-29-14-43 6-29 26-51 62-45 117-61 123-20 171-12 77 23 98 43 52 79 77 107 57 51 131 79 201 57 303 87 179 62 232 96 82 66 100 99 23 63 18 98-21 72-54 113-86 84-157 122-160 72-254 95-196 38-292 41-185-4-253-21-112-41-145-70-55-57-87-135-52-151-54-197 8-84 29-122 57-78 108-112 151-66 155-67 2-1 2-1 0 0 0 0 0 0-1 0-27 2-90-13-108-38-129-56-27-32-29-46-1-27 10-44 33-40 77-59 108-32 161-30 87 15 109 30 38 40 62 88 37 58 76 82 113 48 223 74 224 52 307 82 141 64 178 96 56 65 65 97 8 66-5 102-40 77-87 119-116 83-199 117-178 62-277 79-200 24-293 21-173-18-231-39-92-47-117-77-40-58-54-129-22-169-17-224 22-96 51-138 69-80 131-119 41-28 42-29 0-3-1-4 16 3-15-10-99-44-115-61-20-29-21-41 1-25 13-40 38-35 78-49 90-14 118-7 39 17 47 26 10 20 9 32-6 24-18 36-29 24-76 32-127 4-184-11-84-34-99-49-19-27-19-41 2-27 17-46 51-44 107-65 129-33 195-31 120 17 155 37 47 26 90 95 55 78 106 109 148 66 255 104 190 73 245 109 85 71 103 104 24 66 19 101-19 72-52 112-86 84-157 123-160 72-254 96-193 37-285 39-174-7-233-25-96-38-139-80-124-139-156-190-40-85-40-118 7-65 30-99 62-72 118-104 130-56 184-62 72 1 80 5 9 8 10 11 1 6-1 10-4 10-24 17-79 15-159 8-160-28-206-50-64-42-74-60-14-35-11-54 13-39 42-66 85-58 153-79 152-32 225-29 131 19 170 39 52 27 97 96 61 81 119 117 179 82 263 124 138 79 170 115 47 67 52 100 1 65-17 102-50 77-104 118-129 79-214 108-180 49-270 57-173 4-233-10-86-24-150-76-164-122-223-169-82-82-95-114-15-58-8-89 26-64 62-99 93-72 164-99 152-43 217-44 102 10 129 25 64 58 108 83 131 54 240 85 198 63 257 95 92 65 111 95 26 59 24 89-13 63-42 99-77 78-145 114-154 67-245 87-188 30-273 28-158-17-208-38-74-36-116-89-119-140-173-200-71-95-80-129-7-64 6-99 37-69 81-105 108-71 179-93 145-29 185-25 53 14 65 26 31 49 49 65 47 34 132 54 216 41 315 65 177 52 230 83 80 61 97 90 23 59 18 90-18 66-50 104-86 80-157 117-160 67-255 88-195 32-289 32-180-11-244-30-103-45-130-72-41-46-56-111-45-162-72-234-27-104-21-142 21-72 52-108 80-74 139-100 123-36 135-35 8 2 8 2 1 1 1 1 0 1-2 2 4 6-45 6-135-16-183-36-69-40-80-56-13-29-11-44 6-31 32-56 74-50 131-66 127-19 178-11 81 24 104 44 56 81 84 110 63 53 143 83 210 61 306 93 164 66 209 100 70 67 83 99 16 64 7 99-29 74-69 115-100 84-177 120-169 66-265 86-197 30-288 29-171-14-228-34-93-45-125-80-80-122-111-190-35-107-32-145 15-74 42-111 71-75 128-105 133-47 153-48 12 1 12 1 1 1 1 1 0 1-1 1 11 3-24 5-123-9-179-28-82-42-96-59-18-31-17-46 5-30 23-51 59-47 115-66 128-27 183-21 91 21 117 40 57 74 85 106 59 55 131 84 201 61 300 94 170 66 218 100 74 67 89 99 19 64 11 99-26 72-64 113-95 84-170 121-166 67-262 88-195 32-287 32-173-12-231-32-94-43-127-78-85-124-118-192-39-105-38-143 13-72 38-109 67-74 124-105 132-51 163-54 23 2 24 2 1 2 1 2 0 1-1 2 7 3-22 6-114-3-177-21-97-41-115-59-22-33-23-47 0-29 16-50 56-49 106-70 120-35 181-34 107 15 137 32 55 54 86 98 54 60 113 89 174 61 280 94 185 67 240 101 85 68 102 101 25 63 20 98-19 70-52 111-84 83-155 121-159 71-252 94-195 37-288 39-178-6-240-24-102-41-137-75-90-117-129-186-48-106-49-143 8-71 29-107 59-74 113-106 128-58 175-65 49 0 52 2 2 2 2 3 0 2 0 3 2 4-17 8-90 7-162-6-126-38-153-58-36-37-40-53-3-31 6-50 28-42 71-67 111-47 181-55 137-1 182 13 68 30 97 64 64 89 108 119 123 62 231 99 200 73 259 109 94 70 114 103 28 64 25 98-15 69-45 109-77 82-145 121-153 72-245 96-191 38-282 41-172-7-230-25-92-37-138-81-136-144-174-195-48-85-51-118 4-65 22-98 53-71 105-104 125-62 190-74 106-7 124-1 22 13 26 20 5 15 2 25-7 18-20 27-35 19-108 22-178-5-255-23-129-42-158-64-40-42-46-62-5-39 7-64 37-53 84-84 117-61 198-80 172-25 251-20 143 23 186 46 66 42 91 84 53 104 91 141 129 88 211 139 125 90 151 127 37 69 38 101-7 67-30 104-65 79-126 118-140 73-226 97-178 35-252 34-122-13-164-34-101-71-186-112-190-88-243-125-77-68-90-97-18-56-11-85 23-63 58-98 92-74 164-104 160-52 242-60 155-2 204 13 74 32 133 83 108 75 208 121 169 86 210 122 59 66 68 95 8 58-4 91-35 68-80 106-111 74-190 102-170 46-251 51-151-4-198-20-88-53-143-96-147-85-232-130-130-82-157-115-38-62-41-91 5-60 25-94 56-72 114-108 134-68 217-88 170-28 238-23 108 19 146 43 91 77 164 115 193 86 258 124 98 73 117 103 26 58 24 89-15 62-43 98-75 76-141 110-150 62-236 78-172 19-237 10-103-23-143-52-97-85-178-129-184-96-232-133-70-71-81-100-13-58-5-90 29-66 69-103 100-75 175-104 163-49 244-55 146 2 191 17 86 53 138 91 139 75 234 118 152 79 187 113 51 63 58 92 4 58-11 91-41 69-90 107-120 73-202 98-173 42-253 44-146-9-191-27-89-61-143-103-155-90-233-135-117-82-140-114-33-60-33-91 10-61 33-96 65-74 126-109 142-64 224-81 167-21 227-14 91 20 133 51 95 77 181 116 198 84 256 120 90 70 107 100 23 58 19 89-18 63-49 100-81 75-149 109-155 60-242 75-173 16-238 7-103-25-144-55-96-87-178-134-177-99-220-137-63-70-72-99-9-59 2-91 34-67 77-104 108-74 185-101 166-43 241-46 132 8 170 25 86 64 141 97 164 74 253 113 143 76 175 109 48 61 53 90 2 59-13 92-46 70-97 107-124 73-207 98-175 40-257 42-149-9-196-27-86-56-142-103-150-97-224-144-110-83-131-116-29-60-27-91 13-62 39-98 72-74 135-108 146-61 227-75 158-14 210-4 63 13 125 64 97 69 195 107 199 77 256 113 86 67 103 97 22 58 18 89-17 62-48 99-83 76-153 110-157 60-245 76-178 18-247 9-115-26-154-52-93-88-163-136-170-108-211-147-60-71-68-101-7-59 6-92 38-69 84-105 112-73 189-97 163-39 231-38 109 12 142 31 80 66 141 96 184 69 272 104 146 71 181 103 51 61 58 91 4 58-9 90-41 70-90 108-120 75-202 102-177 45-264 51-167-2-223-18-83-30-131-77-113-105-197-165-122-98-144-134-30-64-29-95 11-61 37-96 71-74 134-107 144-60 221-72 143-10 183 1 69 37 111 69 90 55 191 87 210 66 278 99 107 66 130 96 33 59 34 89-8 60-31 96-64 75-126 112-144 69-233 91-184 34-270 33-157-14-207-33-71-31-124-92-127-128-190-185-84-93-97-126-15-63-6-96 28-67 66-104 96-73 166-100 153-43 213-44 91 10 113 23 54 54 92 76 119 47 229 75 211 55 280 87 109 63 134 93 35 59 37 88-5 61-27 97-62 75-122 113-140 73-230 97-186 40-278 43-178-5-241-22-103-40-134-70-65-98-112-164-107-141-124-182-18-74-12-108 23-67 58-103 88-74 154-101 143-42 185-42 52 9 59 14 8 10 9 16 0 11-6 18-10 15-41 23-115 12-202 3-166-31-213-54-66-44-78-64-15-38-11-58 13-43 43-72 86-61 156-86 157-40 238-42 155 10 206 29 81 40 107 72 58 102 93 137 97 73 195 125 161 93 198 130 55 72 63 104 5 65-9 101-42 75-92 115-119 79-201 109-175 51-261 59-162 3-215-11-92-43-157-89-171-95-241-137-102-78-122-108-26-58-24-88 14-60 41-94 73-73 138-105 147-58 228-70 155-9 205 3 64 18 125 70 95 69 192 108 197 80 252 116 85 68 101 98 21 58 17 89-19 64-52 101-84 76-155 110-159 60-247 75-177 17-245 8-112-26-151-54-95-88-172-138-168-105-207-144-56-69-63-99-5-59 9-92 41-70 88-106 115-71 192-95 164-37 230-35 107 13 140 33 81 68 144 98 188 70 274 106 141 71 174 103 48 61 54 90 3 59-12 92-44 70-95 108-123 74-206 100-177 44-264 48-163-4-217-21-76-27-132-82-123-109-203-166-114-94-135-129-27-63-25-94 13-61 40-97 75-74 139-107 146-58 222-69 142-7 181 4 71 41 113 72 96 55 200 88 207 67 271 100 101 66 122 96 29 58 29 88-11 62-36 98-69 75-134 111-148 68-238 89-184 30-268 28-151-17-198-38-67-35-127-104-137-128-193-180-76-87-87-120-12-62-2-94 33-69 73-105 101-73 173-99 154-40 212-39 86 11 109 26 56 55 100 78 137 49 247 78 202 57 264 89 98 64 120 93 30 58 29 89-11 62-36 98-70 77-135 114-148 69-239 92-189 34-279 34-170-11-226-30-91-42-122-76-69-108-131-184-94-125-107-163-12-70-3-103 30-68 69-105 100-72 168-97 141-34 178-31 46 10 53 17 9 12 9 20-2 17-8 26-13 17-49 25-129 11-219 1-170-30-219-53-71-45-84-66-17-40-14-61 13-46 41-74 80-63 150-89 158-46 243-51 168 2 229 19 99 40 126 67 56 94 82 134 53 69 129 117 177 106 223 147 68 76 78 109 11 65 0 100-34 73-77 113-106 80-184 112-169 55-254 65-160 6-211-6-91-43-152-83-164-82-247-123-129-77-157-109-38-59-41-88 4-57 23-90 54-70 111-106 134-67 217-86 171-28 240-22 114 19 151 42 89 79 154 117 186 89 252 129 102 75 122 106 27 60 25 90-13 62-40 98-73 75-139 110-149 63-235 79-171 19-235 11-99-22-141-52-98-83-183-127-186-92-235-129-71-70-83-99-14-58-6-90 27-65 65-101 98-75 173-105 164-50 246-58 152 0 199 15 84 45 138 88 128 76 224 121 155 82 191 117 51 63 57 93 4 58-10 91-42 69-91 106-119 73-200 98-172 41-251 43-141-10-183-28-90-66-145-105-163-87-240-130-118-80-143-112-33-61-34-91 8-60 31-94 63-74 123-109 142-65 225-84 171-23 235-16 102 20 141 47 94 79 174 119 193 87 252 125 87 71 103 101 22 59 18 89-19 63-50 99-83 75-153 108-157 59-243 72-168 12-228 1-88-22-135-60-102-85-194-133-176-92-219-129-61-67-70-97-9-58 2-90 34-67 77-104 109-74 187-101 167-45 245-49 141 6 183 23 88 61 141 98 155 78 243 120 138 78 169 111 44 62 48 91 0 59-18 93-49 71-102 107-129 71-212 95-174 35-251 34-134-14-176-33-90-71-148-111-172-92-241-135-104-77-124-109-27-60-26-90 13-62 40-97 73-74 138-108 149-61 232-76 165-16 222-6 80 17 131 58 100 78 193 119 192 85 243 122 77 68 91 98 17 57 11 88-23 65-58 101-93 76-166 107-162 56-248 67-167 8-224-5-82-22-135-67-106-87-201-137-164-93-201-129-52-67-59-96-4-59 10-92 41-68 89-105 118-72 198-97 169-38 242-38 124 12 161 31 88 70 148 104 180 79 259 118 125 75 153 107 38 60 41 90-4 59-24 93-55 72-112 109-136 69-221 91-176 33-253 31-132-17-173-37-91-74-150-116-173-98-235-140-93-78-110-109-22-59-18-90 18-63 48-99 82-75 151-107 154-56 235-68 155-7 204 5 75 31 131 76 108 68 210 109 184 79 232 114 70 66 83 96 14 58 6 89-26 65-64 102-98 76-173 107-166 53-253 64-169 7-228-6-88-26-135-67-105-92-197-145-155-98-188-134-47-66-52-96 0-59 16-92 48-70 100-107 125-69 205-91 167-32 232-28 102 16 137 39 86 71 158 104 197 76 273 112 120 72 147 103 37 60 39 89-4 60-24 94-57 72-116 109-137 70-223 92-179 34-260 33-143-15-187-35-88-66-143-113-157-106-219-152-90-81-106-113-19-61-13-92 19-63 53-99 87-74 157-105 155-53 232-61 137 0 175 13 79 52 124 82 124 61 229 97 187 71 237 105 76 65 90 95 18 57 12 88-22 64-57 101-93 77-167 110-163 58-253 72-180 15-251 5-117-28-156-54-88-89-153-141-158-116-195-157-50-72-55-102-2-60 14-94 47-70 97-106 122-69 199-90 158-28 211-23 76 14 110 40 74 64 147 92 201 62 289 95 148 66 184 98 54 61 62 90 7 58-6 91-38 69-85 107-117 76-199 105-176 50-267 59-179 4-245-9-109-35-145-64-82-97-145-157-134-124-159-163-33-70-32-101 11-64 36-100 68-74 128-107 138-59 209-70 123-5 152 4 47 33 75 60 53 43 133 67 211 50 306 77 165 60 209 91 69 61 81 90 15 59 7 91-27 67-65 106-99 79-176 112-169 60-263 76-193 21-277 15-154-24-201-47-73-45-101-87-71-131-124-209-63-113-69-150 0-68 17-104 49-72 98-107 119-66 183-82 105-10 118-6 15 8 16 11 2 5 1 9-2 7-13 13-39 17-111 16-167-17-228-37-90-44-107-64-22-36-22-54 4-37 24-62 60-56 119-81 140-45 218-49 149 5 199 22 78 35 107 70 65 97 107 130 125 73 226 119 169 84 211 121 64 71 74 103 11 65 0 100-35 73-79 114-110 82-190 115-172 58-263 72-181 15-249 5-109-25-156-57-137-105-216-160-114-92-135-125-27-61-25-91 13-60 40-94 72-71 136-103 145-55 219-64 132-3 167 9 68 46 106 76 90 52 192 84 213 64 283 98 109 66 134 97 34 59 35 88-5 61-28 96-63 75-124 113-142 71-231 94-184 37-272 38-165-10-219-29-84-36-124-80-109-125-176-190-90-100-103-135-14-66-6-98 27-66 64-102 96-73 166-100 151-41 206-41 79 10 96 23 43 49 70 68 78 41 180 65 225 48 310 76 143 60 180 91 55 60 64 89 8 59-4 93-38 71-84 110-114 78-196 110-178 54-274 66-192 15-274 5-146-29-189-53-66-47-91-90-61-135-107-217-54-114-56-152 6-71 27-107 56-73 109-107 127-61 182-71 70-2 75 1 5 4 6 5 1 3 0 5-1 4-16 10-72 12-149 2-147-32-185-53-51-40-59-57-9-33-4-51 17-40 52-66 94-53 164-69 150-19 210-10 100 28 130 51 67 85 100 119 75 61 165 98 210 79 281 117 114 74 140 107 36 66 38 99-6 67-29 104-63 80-124 120-141 77-230 104-187 44-278 50-174-1-234-17-94-32-145-76-151-137-199-187-62-84-70-116-6-61 7-93 39-68 84-102 112-68 183-88 142-24 180-18 52 14 67 30 38 54 68 72 92 40 200 63 224 47 307 75 140 60 176 90 54 60 62 90 7 60-6 94-40 72-87 111-116 79-199 110-179 55-276 67-194 15-278 6-150-28-194-52-70-49-91-85-42-117-81-201-59-137-62-177 5-74 25-110 55-74 107-108 126-61 175-70 51-2 54 0 2 1 2 2 0 1 0 2 3 2-12 6-80 8-151-6-125-37-152-57-36-36-40-52-3-30 6-49 27-41 69-65 111-46 179-53 133 0 174 15 63 28 93 66 62 86 106 115 126 60 236 96 202 70 264 106 97 70 119 102 30 64 28 98-13 69-40 108-74 82-140 122-151 74-243 99-191 40-284 45-178-4-241-20-102-38-141-74-116-131-159-191-55-95-59-130 2-67 20-101 50-70 101-104 122-63 184-76 97-6 109-2 14 9 16 12 2 7 0 11-3 9-16 16-47 18-123 16-168-18-227-40-86-44-102-63-21-36-20-54 4-37 26-62 66-56 127-82 141-43 218-47 148 6 197 23 76 37 104 71 63 97 104 130 121 72 222 118 172 84 215 122 65 70 76 103 12 64 1 99-33 73-76 114-109 82-187 115-172 59-263 73-182 16-251 7-112-25-158-56-132-101-214-158-117-93-138-127-28-60-26-90 14-61 40-96 71-72 133-103 143-56 217-66 133-3 168 9 66 43 105 73 86 52 186 83 214 64 285 97 115 67 141 97 36 60 38 90-4 60-25 95-58 75-118 112-139 73-227 97-185 39-273 41-169-8-226-26-89-38-126-76-97-117-169-186-96-106-110-142-17-64-10-97 27-68 63-104 91-73 160-101 149-43 205-44 81 9 99 21 40 47 64 67 63 38 156 61 223 46 314 73 157 58 199 89 64 61 76 90 14 59 5 91-31 69-72 108-103 80-181 113-172 59-267 75-195 20-281 14-159-23-207-46-77-47-100-82-47-112-86-189-72-142-79-182-1-74 15-109 45-73 93-109 116-66 176-81 87-9 93-7 7 4 7 5 1 2 0 3 1 3-9 7-46 13-119 6-150-27-192-49-57-40-66-57-11-32-7-49 14-38 44-63 86-52 154-69 145-21 205-12 99 25 128 48 67 84 99 116 74 61 162 96 212 76 289 113 123 73 152 106 43 66 46 99-2 66-22 103-55 79-112 120-134 78-222 107-184 49-278 58-183 6-251-8-111-33-152-65-124-119-182-181-75-97-84-131-9-64 2-96 35-67 77-102 106-70 174-91 138-26 172-21 45 13 54 23 14 24 21 61 12 38 26 49 33 26 118 41 217 29 323 48 194 42 257 70 103 59 127 89 35 59 37 91-8 64-31 101-64 79-126 119-142 76-233 103-192 45-292 54-199 7-284-5-154-34-198-59-66-50-80-77-21-53-16-103 27-137 23-180-41-131-52-178-7-79 5-112 36-68 76-100 101-60 149-72 55-5 57-4 2 2 3 2 0 1-1 2 2 1-7 4-62 8-124-4-110-36-131-53-28-32-30-46-1-27 8-43 31-39 76-60 112-37 171-37 103 13 131 29 44 34 77 88 48 64 96 91 138 55 250 85 212 61 282 94 112 68 139 100 40 65 42 98-4 67-26 106-61 81-120 122-138 79-227 108-189 51-287 61-195 11-275 0-141-31-182-56-68-51-96-101-67-152-78-207-7-93 6-131 39-77 80-114 103-72 160-91 44-11 44-12 1 0 1 0-1 0-1 0 33 2-12 0-125-20-167-41-58-38-67-53-10-28-6-43 11-31 36-52 74-44 131-54 116-6 152 5 54 25 72 49 44 82 68 107 57 47 136 72 207 52 309 80 183 58 239 91 87 66 106 98 26 64 23 98-17 71-48 111-81 84-150 123-157 73-251 98-196 41-294 47-192 0-267-15-127-38-162-65-57-53-75-97-36-145-40-215 4-113 22-157 49-84 96-122 109-72 112-75 3-4 3-5 0-1-2-3-50-16-91-37-56-39-63-53-9-26-5-39 10-27 34-45 69-36 114-41 79 4 96 14 25 20 30 31 5 25 0 39-14 26-34 38-58 24-124 25-142-14-184-31-58-35-67-49-12-28-9-43 10-31 37-55 77-50 142-67 144-22 208-14 109 26 140 48 63 75 93 118 58 65 124 98 190 76 282 114 154 75 194 111 59 70 69 103 10 66-3 102-38 76-84 118-114 84-195 119-175 61-271 77-192 22-272 16-142-23-187-47-90-67-162-140-108-120-125-157-19-67-13-99 21-64 54-99 86-71 151-97 141-40 187-40 60 10 70 18 14 15 17 29-1 34-8 45-12 19-35 28-91 18-184 15-190-17-259-37-109-46-132-68-33-43-35-65 0-43 17-72 51-60 107-92 133-61 219-79 179-23 262-18 152 24 199 47 72 46 93 79 41 108 63 146 52 67 137 127 148 109 179 148 43 72 46 105-3 66-23 103-58 77-115 116-133 74-215 98-172 36-240 34-106-12-145-34-95-68-181-102-203-75-268-111-102-68-122-98-28-57-28-86 11-59 37-94 69-73 134-108 148-63 235-81 177-22 249-15 122 23 160 47 89 84 149 128 173 104 226 146 77 76 90 107 16 59 8 92-28 67-64 103-95 75-168 105-159 50-236 56-138-2-177-16-82-56-132-88-142-66-242-104-167-74-210-107-62-64-72-93-10-58 0-89 31-67 73-105 107-76 185-105 170-51 258-60 170-4 229 10 90 29 135 69 103 97 192 154 144 101 172 137 40 65 42 95-5 61-25 96-57 73-114 108-132 66-211 85-159 22-213 14-71-12-116-48-87-68-171-101-209-70-282-104-118-69-144-99-37-60-39-89 4-60 25-94 58-74 116-111 138-71 225-94 182-35 267-36 155 13 204 32 69 33 131 99 138 117 203 170 90 88 105 121 19 62 12 94-23 65-57 101-89 74-159 103-154 50-223 55-117-5-147-18-67-55-109-80-127-54-235-85-199-64-257-96-91-65-110-95-25-58-23-87 13-63 42-99 78-77 146-113 154-66 245-85 187-28 271-25 152 19 200 40 65 31 117 98 127 138 180 194 71 90 80 124 7 65-4 98-36 68-80 104-108 71-180 94-149 32-195 29-62-14-78-28-41-52-72-71-99-41-208-65-222-47-302-76-133-61-166-91-49-60-56-89-4-60 11-94 44-73 94-112 122-78 207-107 181-51 277-62 192-10 272 1 139 33 179 57 62 48 85 93 62 144 104 223 47 110 48 148-9 72-32 107-61 74-116 107-131 58-179 65-55-1-58-3-4-3-4-4-1-2 0-4-1-4 19-10 88-8 163 4 135 36 166 57 41 38 46 55 6 32-2 50-23 41-64 68-107 50-178 62-144 9-196-4-82-30-109-57-66-91-103-121-98-61-201-99-207-77-272-113-101-72-123-105-30-65-30-98 12-68 38-107 72-81 138-121 149-73 240-98 189-41 280-44 172 5 230 22 91 34 140 81 146 143 187 193 52 83 57 115 0 61-16 95-48 69-98 103-121 65-189 80-124 13-150 6-34-15-43-26-20-54-30-69-19-26-67-43-160-34-273-53-216-39-292-66-127-58-159-88-48-60-55-90-4-61 12-96 47-75 99-115 123-79 209-110 183-54 282-66 199-16 288-8 164 27 214 51 78 49 96 77 28 50 29 110-6 131 13 203 38 138 35 177-16 74-42 110-69 71-122 98-115 37-122 37-5-1-5-1 0-1 0-1 0 0 0-1-10-4 35-3 124 18 165 37 57 37 65 52 11 26 7 41-13 32-38 53-74 45-132 55-120 8-159-3-60-26-80-51-48-84-76-110-68-49-153-76-216-56-313-86-168-62-216-96-75-66-90-98-19-64-12-99 25-73 63-114 95-85 170-122 165-69 261-91 198-34 293-36 183 8 249 26 107 42 138 71 50 57 74 128 43 158 42 207-12 89-35 129-62 80-115 114-111 55-112 57-2 1-2 1 0 1 0 2-15-4 48 11 109 39 129 57 26 31 29 44 0 26-10 41-31 37-73 55-102 28-145 24-70-17-86-30-25-25-33-59-13-107-22-129-19-35-47-51-92-35-199-52-232-33-330-55-176-49-230-80-85-62-105-94-26-64-23-98 16-71 47-111 81-84 150-124 157-75 252-101 198-43 300-51 203-7 290 5 159 33 205 58 69 50 83 76 20 52 16 87-42 111-68 170-26 77-22 110 42 111 50 149 5 64-7 92-34 57-73 83-97 46-127 49-28-1-29-2-2-2-2-3 0-1 1-2-3-4 21-8 93 1 141 17 70 34 81 48 13 25 12 38-5 25-22 43-54 40-108 53-116 14-157 5-65-24-83-45-44-82-65-110-45-48-105-73-173-51-285-78-205-56-272-88-109-66-136-98-38-65-40-98 6-69 28-108 62-82 122-123 139-80 229-109 190-51 290-63 200-13 285-3 153 29 199 53 73 51 93 84 35 81 43 162 4 148-10 198-38 94-77 136-111 91-118 98-5 8-5 10-1 3 4 7 71 36 94 55 28 33 30 45 1 25-8 39-26 32-61 46-82 19-110 14-38-13-44-20-9-15-9-23 3-17 13-26 26-22 68-29 116-1 163 13 66 32 77 45 13 23 12 35-3 24-23 44-62 43-117 58-124 19-177 11-86-26-111-48-58-84-84-116-56-57-124-86-191-62-294-95-181-66-234-101-83-69-100-102-24-65-19-100 21-73 55-114 87-85 158-124 160-72 255-96 196-39 291-43 185 3 253 19 112 40 147 70 68 78 103 150 48 122 48 164-9 77-32 115-61 76-114 108-133 59-158 62-10 0-11 0 0 0 0 0 0 0 0 0-9 0 7-1 103 6 159 24 86 41 100 58 18 31 17 45-4 30-21 49-50 44-105 62-124 25-175 19-82-21-104-40-52-73-77-104-53-52-119-79-189-56-294-86-188-61-245-95-89-67-108-99-27-64-24-97 16-70 47-110 81-84 150-123 155-73 248-98 195-40 291-45 188 1 258 16 119 40 153 67 55 53 85 123 57 159 61 207-4 86-23 125-52 77-101 112-145 70-163 75-3 1-4 1 0 0 0 0 1 0 1 0 17-3 79 11 113 37 135 55 29 33 32 47 1 27-9 44-30 38-72 58-105 33-159 32-89-13-112-28-32-25-60-83-37-63-73-85-102-48-208-74-227-51-313-81-149-62-189-95-61-65-71-97-12-65 0-101 35-75 79-117 111-84 191-119 175-64 273-82 201-28 295-27 179 14 240 35 99 45 125 74 43 56 55 115 22 171 18 232-18 103-44 146-64 82-122 121-50 35-51 37 0 3 0 5-15-3 17 11 93 45 108 61 18 28 18 40-3 25-16 40-41 35-82 46-86 10-109 3-32-16-38-25-7-18-6-28 7-21 20-32 36-23 89-28 128 4 174 20 63 33 72 47 13 25 11 38-6 28-27 47-64 45-126 61-135 20-192 12-96-27-124-49-60-82-89-117-60-60-131-92-196-68-292-103-165-71-210-107-69-68-82-102-15-66-6-102 31-75 71-116 102-85 180-122 170-66 266-86 196-30 285-28 166 14 220 34 88 42 130 90 110 141 134 190 28 83 25 118-17 68-45 103-75 73-135 101-135 45-168 46-34-5-37-7-3-4-3-5 0-3 2-6 2-8 37-13 123-2 195 15 117 40 141 60 31 36 34 53 2 32-9 52-35 46-84 72-121 47-194 54-142 1-189-15-74-31-102-65-66-92-109-123-123-65-230-105-191-78-245-114-84-71-100-104-22-64-17-98 20-70 54-110 88-83 160-120 161-69 254-90 190-31 276-30 155 15 205 35 79 44 150 113 144 135 173 176 38 73 39 104-6 61-28 95-61 71-117 104-132 58-200 69-113 4-136-5-24-1-49-42-31-47-68-66-124-39-237-61-219-45-296-74-130-60-162-90-48-59-54-90-3-61 12-95 45-74 97-114 124-78 209-108 183-52 280-63 195-12 278-2 148 31 191 56 67 49 85 84 34 116 60 190 59 150 63 192-4 76-23 113-53 75-103 108-121 62-168 70-44 3-45 2-2-1-2-2 0 0 0-1-3-1 9-4 81-5 148 10 115 38 137 57 30 34 33 49 1 30-10 48-32 42-78 65-115 40-180 43-117-9-151-25-43-18-86-81-55-73-107-101-149-60-259-93-197-66-258-101-95-69-117-101-29-64-27-98 13-69 41-109 75-82 142-121 152-75 244-100 193-41 287-46 183 2 250 18 109 38 145 69 84 99 131 175 59 115 63 153-3 71-21 106-51 73-102 107-122 63-176 74-68 3-72 1-4-3-5-4 0-2 1-3-1-3 12-7 67-11 140-1 140 33 174 54 45 39 52 55 7 31 0 49-19 39-56 65-100 50-169 63-143 11-195-1-82-30-109-56-65-89-101-119-94-60-195-96-212-74-281-111-108-71-133-105-35-65-36-97 7-68 31-106 66-80 128-121 144-76 234-103 188-44 281-50 179 0 243 15 103 36 145 71 128 132 176 190 62 92 68 126 3 64-11 97-43 69-90 104-115 66-182 83-124 16-148 10-30-14-36-21-7-16-6-28 6-22 16-31 19-18 77-25 164-4 250 10 155 36 195 59 57 45 67 65 11 41 4 64-21 49-57 80-96 64-172 88-167 39-253 41-165-9-222-28-91-43-116-71-52-99-77-139-51-68-131-120-169-108-210-149-58-75-66-107-7-65 7-101 41-75 89-115 115-78 195-108 172-49 253-56 146 1 189 16 93 57 157 92 184 80 259 119 119 73 143 104 35 58 36 87-6 58-27 91-59 71-119 106-140 66-224 85-173 25-243 19-116-21-153-45-90-81-154-120-183-95-245-135-92-75-109-106-23-60-19-91 17-63 48-99 81-75 150-108 154-59 238-72 164-12 219-1 71 14 133 65 106 78 205 122 180 86 225 121 66 67 77 96 12 58 3 89-30 66-71 103-103 75-179 104-167 50-250 57-157 0-207-15-78-35-139-87-125-83-218-131-146-86-178-121-45-63-50-93 0-59 17-92 48-71 101-107 127-71 209-93 171-34 242-32 119 16 157 37 89 73 154 109 187 84 259 123 110 75 132 106 31 59 31 89-9 61-33 95-66 74-129 110-144 65-230 83-175 25-244 18-114-21-152-46-94-82-165-124-185-96-239-135-79-72-93-103-17-58-11-89 23-65 59-101 92-75 164-106 160-53 242-61 152-3 200 10 81 42 136 84 121 72 221 116 166 80 206 115 58 65 67 94 8 58-3 90-35 67-80 105-111 74-191 102-170 46-253 51-155-3-203-19-83-44-141-94-136-88-222-136-132-85-159-119-38-62-40-92 5-60 25-94 57-72 114-108 136-67 218-86 168-26 232-21 101 19 139 45 92 76 169 113 198 82 263 120 99 71 119 101 27 59 26 89-13 61-40 97-73 75-139 109-150 64-237 81-176 21-245 14-113-24-152-49-94-85-166-129-180-101-228-140-70-72-81-102-13-59-4-90 29-66 68-103 101-74 176-103 163-47 240-52 138 4 178 20 85 59 137 92 149 71 244 111 155 76 192 109 54 63 61 92 6 58-7 91-38 68-85 106-117 74-198 101-173 45-257 50-158-4-209-20-74-33-138-91-132-96-215-147-124-89-148-122-34-63-34-93 8-61 31-95 64-73 124-108 141-64 223-80 161-19 215-10 70 12 123 55 94 71 185 107 204 76 267 112 97 68 117 99 26 58 24 88-12 61-39 97-74 75-141 110-151 65-240 83-179 23-254 17-127-23-167-46-90-82-150-128-168-110-216-152-68-75-78-106-11-60-1-91 31-66 73-103 105-73 180-100 161-43 231-44 115 9 148 25 77 63 133 92 168 65 264 100 161 70 201 103 60 62 69 91 10 57 0 90-34 67-78 105-109 77-188 106-172 51-262 60-175 6-238-8-101-32-140-65-92-97-173-157-141-110-168-148-36-67-37-98 6-61 29-96 61-72 120-107 136-63 213-78 147-15 190-6 57 19 105 59 77 55 168 85 214 62 292 95 127 66 156 97 43 60 47 89 0 59-17 93-50 72-105 110-132 74-218 100-181 43-271 47-173-3-233-20-96-37-131-71-83-105-157-174-115-116-134-153-23-66-19-99 20-67 51-102 80-74 146-104 146-52 210-57 101 4 122 15 45 44 70 65 59 40 147 63 219 48 311 75 159 59 202 90 64 61 76 91 13 58 5 90-29 68-70 107-104 79-182 113-171 59-266 74-193 20-279 14-154-25-201-48-74-46-99-84-53-118-104-203-68-125-73-163 1-73 18-108 47-73 96-107 118-66 180-80 93-9 102-6 10 6 11 8 1 3 0 5-1 5-12 10-46 15-120 10-159-23-208-45-69-43-80-60-15-34-12-51 9-37 36-63 78-54 144-75 145-31 213-28 121 19 156 40 62 56 99 106 60 68 127 102 193 78 278 117 141 76 175 111 50 67 56 99 3 65-13 102-46 76-98 117-124 80-209 111-180 53-272 64-183 9-251-3-112-30-155-62-134-115-199-174-89-94-103-128-15-62-8-93 26-64 62-99 93-71 162-97 148-40 203-39 79 11 98 24 45 52 74 72 82 42 185 67 223 50 306 79 140 61 175 92 53 60 61 90 7 59-7 93-40 71-88 110-118 79-202 110-178 53-274 64-192 13-272 3-141-31-182-56-63-45-89-94-78-155-117-225-45-102-45-138 9-71 32-107 62-74 117-106 131-58 182-65 62 0 67 3 5 5 5 6 1 3-1 6 0 5-20 11-85 11-162 0-144-34-180-55-48-40-55-57-8-33-2-51 19-40 57-67 100-54 171-69 149-17 208-7 98 28 127 51 66 87 99 120 76 61 167 99 209 79 280 117 112 73 137 107 36 65 37 98-7 67-31 105-64 80-125 120-143 76-232 103-187 43-277 48-173-2-233-18-91-31-144-78-153-138-199-187-62-83-69-114-5-61 8-93 40-68 86-103 113-67 184-87 141-23 180-17 52 15 68 31 39 54 71 73 103 41 212 65 222 47 302 76 134 61 167 91 49 60 56 90 5 59-10 94-44 73-94 112-122 79-207 109-181 51-277 63-193 11-275 1-143-32-184-56-64-48-86-90-51-132-94-218-49-119-49-157 9-73 32-109 61-75 116-107 131-57 175-63 44 1 46 2 2 2 2 3 1 1 0 3 3 3-18 7-95 6-166-9-121-39-147-58-33-37-36-52-3-32 7-50 30-43 75-68 115-45 185-52 133 2 175 17 63 28 94 67 63 87 109 116 131 63 240 99 197 72 255 108 92 70 111 102 27 64 24 98-16 70-46 109-79 83-148 122-155 72-247 95-192 37-283 40-172-7-231-25-93-39-136-81-131-144-168-197-47-86-49-119 4-65 23-99 54-71 108-104 126-61 189-72 97-5 112 1 17 11 19 16 3 11 1 17-6 14-20 22-47 20-125 19-175-14-242-34-103-44-124-65-28-39-30-58 3-39 19-64 48-55 105-84 137-52 219-63 166-8 231 5 107 35 137 60 62 86 92 128 60 68 139 112 190 99 245 140 82 77 98 110 20 65 13 99-23 71-59 110-91 82-164 117-161 64-251 81-178 22-246 14-105-19-154-51-129-88-222-139-148-89-179-123-44-62-48-91 1-57 18-90 48-69 101-104 127-67 207-87 164-27 227-21 97 18 132 43 85 74 156 108 197 77 272 114 120 72 147 103 37 60 39 90-5 60-25 95-58 74-116 110-138 71-224 93-180 34-260 33-144-14-189-34-88-66-145-113-160-106-220-152-87-80-102-111-18-60-12-92 22-64 56-100 89-74 159-104 156-52 231-59 135 1 173 15 78 54 125 84 128 61 233 98 183 71 232 105 74 64 87 94 17 57 10 88-23 65-59 102-95 77-169 109-165 58-255 71-180 14-249 4-115-29-154-56-88-91-155-143-157-115-193-155-48-72-52-102-1-60 15-93 48-71 100-107 125-68 202-89 157-26 209-20 72 13 107 41 75 64 150 92 204 63 291 95 145 66 180 98 52 61 60 90 5 58-8 91-39 70-87 108-119 76-201 105-177 48-268 56-179 4-244-10-107-35-143-65-82-98-147-159-132-123-156-162-31-69-30-100 12-64 38-101 70-74 131-106 139-58 209-69 121-4 149 6 48 36 75 61 54 42 137 67 213 50 306 77 163 60 207 91 66 61 78 90 14 59 6 91-28 68-67 106-101 79-178 113-170 59-265 74-192 20-277 14-152-25-198-48-72-46-99-88-73-134-125-211-62-111-66-148 0-69 18-104 49-73 99-108 120-65 184-80 102-9 115-5 14 8 15 11 2 5 1 8-2 8-14 14-41 17-115 15-167-17-226-38-88-44-104-64-21-35-21-54 6-38 27-63 59-55 120-80 142-43 220-47 149 6 197 24 75 36 105 72 65 97 109 130 133 75 232 120 163 84 204 121 61 70 70 103 10 64-3 99-37 74-83 115-113 81-193 114-173 57-264 69-180 13-246 3-104-25-153-61-145-108-222-161-108-89-128-122-24-62-22-91 13-59 42-93 76-73 141-104 147-54 220-62 129-1 164 11 68 49 107 77 96 53 200 86 209 65 276 98 105 66 128 97 32 58 33 88-9 62-33 98-65 75-128 113-145 69-234 92-186 34-272 34-161-13-213-32-77-35-122-87-123-131-185-191-81-95-93-129-13-63-3-96 30-68 70-104 99-73 170-98 151-39 204-38 77 11 96 24 46 52 78 72 98 43 206 68 220 50 298 80 129 62 160 92 46 60 52 89 3 60-14 94-47 73-99 112-127 77-213 105-182 49-278 58-188 6-264-7-129-35-165-60-53-39-87-110-93-166-124-223-36-91-34-127 13-70 38-106 68-74 127-105 135-54 183-59 58 3 63 6 6 6 6 8 1 4-1 7-3 8-26 14-95 11-175 0-147-34-184-56-50-41-58-58-8-34-2-53 20-41 56-69 97-55 170-72 153-21 218-13 110 27 142 49 68 81 100 119 67 64 149 102 205 84 276 123 112 75 137 109 35 66 36 99-7 67-31 105-66 80-128 119-143 76-232 101-186 42-274 46-165-5-220-22-79-30-151-93-163-128-208-172-61-77-68-107-6-60 6-92 38-67 83-102 111-69 184-90 151-28 199-23 69 15 93 35 57 59 110 83 163 52 270 81 190 59 246 91 87 64 105 93 25 58 22 89-16 64-46 102-80 78-149 114-156 67-249 87-190 30-278 28-164-16-217-37-84-42-115-81-82-123-142-200-75-111-84-148-5-69 8-102 38-70 83-106 111-70 179-90 131-23 157-18 31 11 35 16 6 11 5 17-3 14-11 22-18 17-72 23-158 2-240-13-144-39-178-61-48-43-56-62-8-39 0-61 26-48 68-79 107-61 184-81 166-30 244-26 143 20 186 41 66 40 93 83 57 101 99 137 139 87 223 135 131 88 160 124 41 69 43 101-3 66-24 103-59 78-117 118-136 75-222 101-179 40-259 42-141-8-185-27-99-66-172-108-185-94-240-133-80-71-94-100-17-56-11-86 23-63 57-98 90-73 162-103 158-50 237-57 146 0 190 15 81 49 131 88 116 68 218 110 174 80 218 115 64 65 75 95 11 58 2 90-31 67-73 105-104 76-182 106-168 51-255 59-166 4-222-10-77-22-136-74-118-95-209-148-142-93-171-127-41-64-43-94 3-60 22-94 55-72 111-108 131-67 212-87 164-25 225-19 92 17 129 44 89 73 168 107 203 77 273 113 111 70 134 101 33 59 34 89-8 60-31 95-64 74-125 111-143 67-231 88-179 30-257 26-137-18-179-39-90-74-147-120-164-107-220-151-79-79-92-110-16-59-9-91 27-66 63-103 94-74 166-103 157-49 231-54 129 3 165 18 78 57 127 87 141 62 244 98 175 71 222 104 69 64 81 93 14 58 7 89-27 66-65 104-99 76-175 108-167 56-257 68-179 11-246-1-111-30-149-58-90-93-161-147-153-114-185-153-45-70-49-101 2-61 20-95 52-71 105-106 128-67 206-86 155-23 204-16 63 10 105 45 77 63 156 92 209 62 294 95 139 66 172 98 49 60 55 89 5 58-10 91-43 71-93 109-123 76-207 104-178 46-269 53-177 2-240-13-104-36-139-67-82-100-150-164-128-121-150-159-28-69-26-101 14-64 41-99 73-73 136-105 144-56 212-65 114-1 139 9 47 39 73 63 56 41 140 65 216 49 309 76 161 60 204 91 66 61 78 90 14 58 5 90-29 68-69 107-102 79-179 113-170 59-265 74-193 20-277 13-153-25-200-48-72-46-99-87-69-131-120-211-62-113-67-150 2-71 20-107 49-72 99-107 121-65 184-79 97-9 108-5 12 7 13 10 2 4 1 7-2 7-13 13-45 16-121 13-163-21-218-42-79-44-93-63-18-35-17-53 8-38 30-63 65-55 130-78 146-39 221-39 138 12 181 31 62 30 98 81 64 90 116 124 162 78 255 120 152 80 189 116 56 69 63 101 7 64-7 101-43 75-91 116-118 81-200 112-177 55-269 66-179 11-245-1-104-26-154-63-148-114-218-167-97-89-114-122-20-61-15-91 18-60 50-95 84-73 152-102 149-48 217-53 112 5 140 18 63 54 101 79 105 50 213 81 210 61 277 93 107 65 131 96 33 59 34 89-7 61-30 97-64 75-126 113-145 71-234 94-186 37-276 39-169-10-226-28-90-40-124-76-84-114-154-188-93-113-106-149-14-66-5-99 29-69 67-105 97-73 165-99 147-38 193-36 63 11 75 20 25 41 37 60 21 30 63 47 146 36 259 56 216 41 293 68 128 59 160 89 48 59 55 89 3 61-13 96-45 75-97 114-124 79-209 109-183 53-281 65-198 13-284 4-157-29-203-53-73-49-90-79-25-64-34-149-39-159-54-219-14-93-4-130 32-74 70-109 94-70 150-89 81-17 84-16 2 1 2 1 0 0 0 0 0 1-2 2-22 8-85 0-128-31-158-50-41-36-46-50-5-28 2-44 20-37 55-58 96-44 159-50 118 2 153 16 50 24 77 63 54 83 92 109 107 53 214 83 221 61 299 93 129 68 161 101 48 65 54 97 2 66-15 103-48 79-102 120-127 82-213 114-183 55-281 69-197 16-281 8-150-26-196-50-74-48-103-93-74-148-91-207-15-96-6-134 31-75 67-113 94-74 152-96 83-22 84-22 1 0 1 0 0 0 0 0 0 0-1 0-2 6-63-2-129-31-161-50-42-37-47-51-6-28 0-43 18-34 55-58 94-43 153-49 111 2 143 16 47 24 69 59 47 81 80 106 87 50 186 77 226 55 314 85 152 64 192 97 63 66 74 98 12 64 1 100-35 76-78 117-108 84-188 119-173 64-271 83-199 27-292 26-175-15-234-36-95-46-122-77-47-65-70-147-33-150-28-198 19-87 47-127 71-79 127-111 83-40 84-41 1-2 1-2 0-1-1-2-36-6-91-25-80-41-93-56-16-29-15-42 5-26 21-44 51-40 100-53 104-12 137-4 49 21 60 36 20 32 22 71-8 74-17 90-19 26-50 38-104 23-191 21-176-17-233-37-86-42-103-62-23-38-23-58 6-41 28-67 61-59 126-88 148-51 234-61 175-7 246 6 121 36 154 61 48 41 69 96 37 102 69 137 105 79 195 133 139 94 169 131 43 71 46 104-3 68-23 105-56 79-113 118-133 77-218 103-179 43-259 46-139-7-183-25-100-65-175-105-190-89-247-127-84-71-99-100-20-56-15-85 19-61 52-96 86-74 156-104 156-54 238-63 154-4 204 10 71 28 130 79 103 73 204 118 179 84 224 120 66 67 77 97 12 58 3 90-30 67-71 104-103 76-180 106-167 51-252 59-162 2-215-12-72-23-138-81-126-88-218-138-143-88-173-122-43-64-46-93 1-59 19-93 52-71 106-107 130-69 211-90 169-30 236-26 107 17 144 40 89 74 160 110 195 81 265 119 109 73 131 104 32 59 32 88-10 61-34 96-65 74-128 110-145 66-231 85-177 26-250 21-122-21-162-44-92-81-158-124-178-101-231-141-78-75-91-105-17-58-9-90 26-66 62-103 94-74 166-104 159-51 238-58 143 0 185 15 83 53 133 87 133 68 233 108 168 77 210 111 61 64 71 93 9 58-1 90-33 67-76 104-107 76-186 105-170 49-257 57-165 2-221-13-78-24-134-75-116-96-206-151-139-94-167-130-39-64-41-94 5-60 25-94 57-73 114-108 134-66 214-85 163-24 220-17 83 16 124 48 90 71 173 105 206 75 275 111 109 69 132 100 33 59 33 88-8 61-31 96-64 74-126 110-144 68-231 89-181 30-260 27-140-18-183-39-88-70-143-119-159-110-215-155-80-79-92-111-16-60-8-92 26-66 63-102 95-74 168-102 157-48 230-53 122 6 156 20 76 59 124 87 147 61 249 95 178 69 225 103 71 63 84 93 16 57 8 88-24 66-62 103-97 77-173 109-166 57-256 70-181 14-252 4-119-29-157-56-86-90-148-143-152-120-186-160-47-73-51-104 1-61 18-95 50-70 103-106 126-67 203-86 152-23 198-16 57 9 96 44 69 60 144 86 205 58 295 89 154 64 193 96 59 61 68 90 9 58-2 91-35 69-79 108-109 77-189 108-174 53-267 65-185 10-258-1-124-32-161-58-75-82-125-142-132-136-162-180-38-77-39-110 6-63 29-98 61-73 119-107 134-61 203-74 120-7 144 1 27 5 49 39 32 47 69 65 128 40 240 61 218 45 295 73 127 60 158 91 47 59 53 88 2 61-14 96-47 74-99 113-126 78-212 107-183 51-280 61-194 10-276-1-145-32-186-56-65-50-83-86-33-118-62-193-60-148-63-189 4-76 23-112 53-74 104-108 122-62 170-71 47-2 48-1 2 1 2 2 0 0 0 1 3 1-10 5-79 6-147-8-118-39-142-58-32-34-35-50-2-30 8-48 30-42 75-65 113-42 179-46 123 6 160 21 47 19 87 76 58 78 108 107 144 60 253 94 199 68 259 103 95 69 116 101 28 64 27 98-14 70-43 109-75 82-142 122-152 73-245 98-192 41-286 45-181-2-245-19-107-39-143-71-96-114-141-184-56-105-60-142 3-70 22-104 51-72 102-106 123-62 180-73 77-4 83-1 7 4 7 6 1 3 0 5 0 5-14 10-64 14-140 5-151-29-191-50-56-41-65-58-10-33-5-51 15-38 47-64 89-54 158-71 149-22 211-14 105 26 136 48 68 82 100 117 70 62 154 98 208 79 283 117 121 74 149 108 40 66 43 99-4 66-25 104-58 79-117 119-137 78-225 106-185 47-277 54-177 2-240-13-99-32-147-71-147-133-199-185-69-87-78-119-8-62 4-94 35-66 78-101 107-69 177-91 145-28 186-23 58 15 73 29 39 53 67 72 84 40 189 63 225 46 310 74 144 60 181 91 56 60 65 89 9 60-3 93-38 72-83 111-113 79-195 111-177 56-274 69-194 17-279 9-153-28-198-51-72-49-94-85-42-115-82-198-61-138-64-178 4-75 24-111 53-73 104-107 124-63 175-72 57-3 60-2 3 2 3 3 0 2 0 3 2 2-11 6-75 8-147-4-130-37-159-57-38-37-43-52-4-31 4-49 25-41 66-66 107-47 176-55 136-3 180 11 67 29 95 62 63 88 105 117 117 60 226 96 205 72 268 107 101 70 124 103 31 64 30 98-11 68-38 107-71 82-136 122-148 74-239 100-191 42-284 47-179-3-242-19-103-37-143-72-119-130-163-191-57-95-62-129 1-67 18-100 47-70 97-105 120-64 184-78 105-8 120-3 17 9 19 14 3 8 2 13-4 10-16 18-40 18-113 18-170-13-235-33-100-44-119-64-27-38-28-56 3-38 20-63 53-55 109-82 136-50 216-58 160-3 218 12 94 36 123 64 64 96 98 131 81 67 179 114 186 93 235 132 73 73 87 106 15 65 7 99-27 71-67 112-100 82-176 116-167 62-257 78-180 19-249 11-109-23-157-54-130-94-218-148-133-92-159-126-35-62-36-91 5-57 27-90 60-70 119-104 137-63 215-78 153-15 201-5 56 9 114 59 84 66 173 99 210 71 282 105 113 69 137 100 36 59 37 89-5 60-27 95-62 75-122 112-141 71-228 93-183 35-267 35-154-13-203-33-72-36-135-102-143-120-203-171-83-86-96-119-15-62-8-93 27-65 64-102 95-74 166-102 155-45 221-47 106 7 134 22 64 56 109 81 139 53 246 84 195 63 252 95 88 65 106 94 24 58 22 88-15 63-45 100-80 77-149 112-156 66-248 85-187 27-271 23-153-19-200-40-67-33-116-96-123-141-175-198-69-92-77-126-7-65 6-98 37-69 82-105 110-70 182-92 146-30 187-25 56 14 70 27 35 50 60 67 74 38 174 60 225 44 314 70 153 58 194 88 62 61 73 90 12 59 3 92-31 69-73 108-107 80-186 113-174 59-270 74-195 21-283 15-161-24-211-46-78-48-100-80-40-105-66-175-71-156-79-199-4-79 10-115 41-73 85-108 109-68 168-84 85-12 90-10 4 2 4 3 1 2 0 2 1 2-5 5-41 11-111 3-141-29-178-50-50-39-57-55-8-30-3-47 19-39 51-62 90-50 157-63 139-11 189 0 80 28 106 54 62 87 99 117 92 58 193 93 216 71 289 106 117 71 145 104 40 65 43 98-4 66-25 105-59 80-117 120-137 79-225 107-187 49-282 58-186 6-257-7-119-34-158-63-96-98-154-171-76-111-85-148-6-68 7-101 37-69 81-104 108-68 174-87 121-19 141-15 22 10 25 14 3 7 3 11-3 9-11 16-24 17-86 20-162-7-233-26-112-43-134-63-31-38-34-56-1-37 13-59 43-51 97-80 128-52 206-62 159-8 218 5 98 34 127 60 65 93 97 128 74 65 167 109 196 91 252 130 85 74 102 108 21 64 16 98-21 70-55 110-88 82-160 118-160 67-251 86-185 27-261 22-130-19-175-43-105-80-190-136-151-103-182-139-42-66-45-95 3-58 21-91 52-69 106-103 129-65 206-82 153-19 201-11 61 11 107 51 78 65 158 95 209 66 290 99 134 68 166 99 46 61 51 90 3 60-13 93-47 72-99 110-127 75-212 102-180 45-270 50-173-1-233-17-96-36-134-71-92-105-170-173-116-110-135-146-24-66-20-98 17-64 46-99 79-74 145-105 147-53 215-59 110 2 136 13 52 46 82 68 77 44 176 70 220 53 303 83 137 63 171 93 49 60 56 90 5 59-9 92-42 72-92 111-121 77-205 106-180 50-274 60-188 8-262-5-128-34-164-59-53-45-100-126-110-157-138-207-36-84-34-118 12-68 37-104 68-74 127-106 135-55 192-62 78 2 87 7 12 10 14 14 1 9-2 15-6 12-25 20-74 17-157 12-173-23-229-45-83-45-98-64-20-38-19-57 7-40 31-67 70-59 133-85 147-45 227-50 158 3 212 20 86 38 113 68 62 99 97 134 90 70 189 119 175 93 218 131 64 72 74 105 11 64-1 99-34 73-78 114-111 81-190 113-171 57-260 69-174 12-235 0-84-18-150-67-156-102-235-149-116-84-139-117-30-60-29-88 9-58 34-92 67-72 129-105 142-60 222-73 153-11 201-1 62 17 120 67 90 66 185 102 205 75 268 110 97 69 117 99 28 58 26 89-13 62-40 98-73 76-139 112-150 65-239 84-182 26-259 21-135-21-177-43-89-76-147-125-162-114-210-157-66-77-76-108-10-59 1-92 34-68 76-104 106-73 181-99 159-40 225-40 103 11 133 29 73 62 129 90 172 61 269 94 168 67 211 100 65 63 76 92 13 58 4 89-29 67-69 105-104 77-182 108-169 55-261 67-181 12-252 0-118-30-155-57-84-91-144-146-145-124-176-165-42-72-44-103 4-63 24-97 56-72 111-107 131-64 206-80 142-16 180-8 40 6 87 51 59 52 136 77 207 54 301 83 160 62 202 93 64 61 75 91 13 58 3 90-30 69-71 107-103 78-181 111-171 57-265 70-190 17-269 8-141-28-182-52-58-36-105-110-117-153-155-207-48-89-51-123 4-65 23-100 55-73 109-107 127-64 194-78 112-8 131-2 23 12 27 19 5 16 3 26-7 19-19 27-28 20-99 23-178-3-259-19-139-41-172-64-46-44-53-64-8-41 2-64 28-51 73-84 113-62 192-84 170-32 253-30 154 17 203 38 77 44 100 76 50 106 79 142 75 71 168 128 152 100 185 139 47 71 52 104 0 65-18 101-51 77-105 116-129 77-212 103-175 43-252 46-134-8-175-26-96-65-168-102-193-84-258-121-98-72-117-102-26-57-24-85 13-59 40-94 75-74 141-107 149-60 234-74 168-15 229-5 94 24 136 56 94 84 177 128 187 93 238 131 75 71 88 101 15 58 8 89-26 66-63 103-96 75-170 106-162 53-246 62-157 3-207-10-79-35-139-83-124-78-221-124-157-83-192-118-52-64-58-93-4-58 10-91 42-69 91-106 118-73 199-98 171-40 249-41 137 11 179 29 90 67 145 104 165 86 243 129 120 79 145 111 35 60 36 90-7 60-29 95-61 73-121 109-139 67-224 86-171 26-239 20-109-20-147-45-93-79-168-119-192-90-251-128-88-72-104-102-22-58-18-89 19-63 50-100 83-75 153-108 155-58 240-71 166-12 224 0 81 19 133 62 104 83 199 130 178 90 221 126 63 67 73 96 10 58 0 90-34 68-76 105-106 74-183 102-167 47-248 52-147-4-192-20-88-55-141-95-145-80-234-124-140-81-171-114-44-62-48-92 0-58 17-92 50-72 103-108 128-71 211-94 173-35 247-33 128 15 168 35 91 73 151 111 179 89 249 130 105 76 126 108 29 59 28 89-13 61-39 97-70 74-135 109-147 63-231 79-169 19-231 10-96-21-138-52-97-81-183-124-190-89-242-126-77-70-90-100-17-57-11-89 25-65 61-101 92-76 165-107 161-54 245-64 162-6 215 8 69 19 135 75 114 81 212 129 163 88 200 123 54 65 61 94 6 58-7 91-41 69-88 106-116 73-196 99-170 41-247 43-137-10-178-28-89-66-145-102-166-84-246-125-125-78-151-111-38-60-40-90 6-60 26-94 58-73 116-109 136-68 220-89 174-29 245-25 118 19 157 41 92 78 159 118 187 92 248 131 93 74 110 105 23 58 20 89-18 63-48 99-80 75-149 108-153 59-237 72-165 12-221 1-77-17-133-63-104-80-200-125-182-87-227-123-67-68-78-97-12-57-3-89 30-67 71-104 102-75 178-105 165-49 248-56 156 0 205 14 81 40 139 88 129 82 222 129 147 85 179 119 46 64 51 93 1 59-16 92-47 71-99 107-126 71-207 95-172 35-245 33-124-14-163-34-90-73-151-109-183-86-255-126-111-75-133-107-32-59-32-89 10-61 34-96 66-74 129-109 143-66 228-84 173-23 241-17 110 22 149 47 93 81 168 123 188 94 243 133 80 72 95 102 18 58 12 89-23 64-58 101-90 75-162 106-159 55-242 64-157 6-208-7-74-29-136-79-114-75-214-121-168-83-208-118-58-65-67-94-8-58 4-91 36-68 81-105 111-75 190-102 169-45 251-50 149 5 196 21 87 53 141 97 144 85 230 130 132 83 160 117 39 62 42 91-4 60-24 94-55 72-112 108-134 68-217 89-170 29-239 24-110-18-148-41-91-77-163-114-193-87-258-125-98-73-117-103-27-58-25-89 14-62 42-98 74-75 140-109 150-63 236-79 172-19 237-10 103 23 143 52 96 84 177 128 185 96 233 134 71 70 82 100 14 58 6 89-29 66-68 103-99 75-174 104-163 50-244 56-148-1-193-16-86-51-138-90-136-75-232-118-153-80-189-114-51-63-58-92-4-58 10-91 42-69 90-106 120-73 201-99 173-42 253-44 145 9 190 26 89 61 144 103 155 90 233 135 118 81 141 114 34 60 34 90-9 62-33 97-64 74-125 108-140 65-223 83-168 21-229 14-92-20-134-50-94-77-178-116-198-84-257-121-90-70-107-100-23-58-20-89 18-63 49-99 80-76 149-110 154-60 241-75 173-16 237-6 103 24 143 54 97 87 180 134 177 98 221 136 63 70 72 100 10 58-1 90-34 67-77 104-107 74-184 101-165 44-242 47-133-7-172-24-87-63-140-97-163-74-252-114-143-76-176-109-47-61-52-91-2-58 13-91 45-70 97-108 124-72 206-97 176-40 257-42 148 9 194 28 88 58 143 104 152 95 226 142 110 83 131 115 29 61 27 91-13 62-39 98-71 74-134 108-146 62-227 76-160 15-212 5-64-12-126-62-97-71-194-109-198-79-255-114-86-68-103-98-22-58-18-88 18-63 49-100 83-76 153-109 157-61 245-76 177-17 246-8 113 26 152 53 93 88 166 136 170 106 211 145 59 71 67 101 7 59-5 92-39 68-84 105-112 72-189 97-164 39-233 39-111-13-145-31-81-67-142-97-182-70-271-106-144-71-178-103-49-61-56-91-3-58 11-91 42-70 92-107 121-75 204-102 176-44 263-48 164 3 218 20 77 27 132 81 121 107 203 164 118 94 140 129 28 64 27 94-12 62-38 97-71 73-135 107-145 59-222 72-145 9-187-2-70-37-114-70-92-56-194-89-209-67-274-101-102-67-124-97-30-58-30-87 9-61 34-97 70-75 134-112 147-68 236-88 184-31 267-29 151 16 198 37 68 37 128 106 138 124 195 176 77 88 89 121 12 62 3 94-29 66-69 102-101 74-174 100-154 41-214 41-90-10-114-25-58-56-103-79-140-51-249-80-200-58-261-90-94-64-115-94-28-58-26-88 11-61 38-98 74-77 140-114 151-68 242-90 189-32 277-31 166 13 220 33 85 42 117 79 77 116 143 193 88 114 99 151 11 69 1 102-32 68-72 105-103 72-172 95-143 33-180 30-49-12-57-19-12-16-13-31 3-34 10-44 12-18 41-26 117-15 212-10 189 21 254 43 100 47 120 69 30 44 31 66-2 45-22 74-60 62-119 95-140 60-227 77-181 21-263 15-151-26-196-49-71-47-90-79-36-109-57-146-44-65-123-123-150-112-182-152-43-73-46-105 2-65 22-102 57-77 113-116 132-73 214-97 170-35 236-33 102 13 140 35 93 67 179 101 205 73 273 108 106 68 128 98 30 57 30 86-8 59-32 94-66 73-129 108-145 66-232 85-179 26-255 21-131-21-171-44-88-78-143-123-163-107-219-151-83-79-96-110-17-61-10-92 24-66 60-102 93-75 165-105 157-51 233-57 135 2 173 16 79 55 128 85 139 63 241 100 175 72 220 105 68 64 80 94 13 57 5 88-27 66-66 103-100 77-177 108-168 54-257 65-176 10-241-2-106-31-144-61-91-94-168-149-154-111-185-149-44-69-48-100 2-59 20-93 53-72 107-107 128-68 207-87 157-23 208-17 69 12 110 46 80 65 161 95 209 65 290 98 132 67 162 99 45 59 50 89 1 59-15 92-48 72-101 110-127 74-212 100-180 43-269 48-171-4-229-20-91-36-130-74-95-106-175-174-115-107-134-143-25-65-21-96 17-65 47-101 79-75 144-106 146-54 215-61 117 0 144 11 56 46 88 70 83 46 184 73 220 55 298 86 129 63 160 94 45 59 51 89 1 59-15 93-48 73-101 112-127 75-212 103-182 47-276 54-184 3-253-11-116-37-150-64-67-84-112-149-116-145-138-189-28-77-25-110 15-66 44-102 77-74 139-105 141-52 196-56 75 5 85 11 14 12 16 18 2 16-3 24-9 17-29 25-76 18-164 14-182-19-245-40-99-45-118-67-27-40-28-61 4-42 23-68 54-59 114-88 141-54 226-66 173-11 243 1 120 33 154 58 51 49 85 115 48 81 105 123 174 103 234 148 89 81 105 115 22 65 16 99-21 70-55 109-88 81-159 117-159 63-246 80-172 19-233 11-82-13-146-57-132-81-230-126-160-82-197-116-52-63-59-91-5-57 8-88 39-67 86-103 117-71 197-95 170-39 246-39 132 12 172 31 88 69 141 105 160 83 243 125 129 80 156 113 40 61 42 91-3 60-23 94-56 73-113 109-134 70-218 91-174 32-248 29-123-17-163-38-92-76-157-115-184-93-247-133-94-74-111-105-24-59-20-89 16-62 46-98 79-75 147-107 153-59 237-72 164-12 219-1 74 16 132 64 103 78 200 123 183 86 230 122 68 67 80 97 13 58 4 89-28 66-67 103-101 75-177 105-165 51-249 59-159 2-210-13-75-29-138-83-122-83-217-132-150-87-182-121-47-64-52-94-1-59 15-92 47-70 99-106 125-71 206-94 171-35 243-34 121 15 159 35 89 73 152 109 185 84 258 123 113 75 136 106 33 60 33 89-8 61-31 95-64 74-126 110-143 66-228 85-175 25-245 20-116-21-155-45-93-81-163-122-184-96-240-136-82-73-96-103-18-59-12-90 22-64 56-100 90-75 162-106 158-54 240-64 155-4 203 9 79 37 136 82 116 71 217 115 170 82 211 116 60 65 70 95 8 57-2 89-34 68-78 105-109 74-188 103-169 47-253 53-156-2-206-18-79-39-139-91-132-87-220-136-136-86-164-120-39-63-42-93 4-59 23-93 55-72 112-108 133-68 216-88 168-27 233-22 103 18 141 43 91 76 166 112 198 82 264 120 102 71 123 102 28 59 27 89-12 61-38 96-71 75-136 110-148 64-235 81-176 23-246 16-116-23-155-48-93-83-163-127-180-101-230-140-73-72-84-103-14-59-6-90 28-66 66-102 99-75 174-103 162-49 239-55 140 3 181 19 85 57 136 91 144 70 241 110 158 76 196 110 56 63 64 92 7 58-6 90-37 68-83 106-114 75-194 102-173 46-258 52-159-3-211-19-72-27-137-88-129-96-214-147-127-90-152-124-35-63-36-93 7-61 29-95 62-72 122-107 139-65 220-82 162-20 218-12 74 14 123 53 93 72 182 107 204 76 269 112 100 69 120 100 28 58 27 88-12 61-38 96-72 75-137 111-151 65-239 83-179 25-255 20-129-22-169-45-91-81-150-126-167-110-216-153-70-76-81-107-12-59-3-91 30-65 71-102 103-74 178-101 160-44 231-46 117 8 150 24 78 62 131 91 164 64 262 99 163 70 205 103 61 63 72 92 11 57 1 89-33 67-75 105-107 77-186 107-171 52-261 62-176 6-240-7-104-32-142-63-91-96-169-155-144-112-172-150-38-68-40-98 6-61 27-96 59-72 117-107 134-64 211-80 150-17 193-8 53 12 105 57 76 56 165 86 213 62 293 94 129 66 160 97 44 60 49 89 1 59-16 93-48 72-101 110-130 74-215 101-181 43-271 49-175-2-236-18-98-38-133-70-82-103-154-171-119-118-138-155-25-67-21-100 19-67 49-102 78-74 142-105 146-52 211-59 103 3 125 14 45 42 69 64 56 40 142 63 216 48 309 75 163 58 207 89 67 61 80 91 15 58 7 90-27 67-66 106-101 79-178 113-170 60-265 76-193 22-279 16-158-23-206-45-77-47-102-83-51-115-100-197-72-131-78-169-1-73 15-108 46-73 93-108 116-66 178-82 98-11 108-7 10 5 11 7 1 4 0 6-1 4-10 9"/></g>
<g clip-path="url(#cd)"><path class="cv" transform="scale(0.2)" stroke-width="4.5" d="M4703 4363C4696 4361 4696 4360 4695 4358s-4 14-4-81 6-212 18-322 30-221 56-328 59-209 98-299 87-167 126-214 68-67 89-76 32-11 44-6 16 12 21 28 7 39-3 78-37 99-83 160-111 124-185 179-158 103-258 151-162 80-181 98-22 31-24 46-3 28 26 74 102 139 121 183 9 27 9 27 0 1 0 1 0 0 0 0 5 14-6-9-47-141-49-180 5-53 13-65 19-19 37-24 51-3 90 12 76 44 99 74 39 66 45 117-2 112-2 113-1 2-1 2 0 0 0 0 0-1 0-2-1-50 11-153 32-212 59-313 64-198 102-272 75-112 94-128 26-18 34-18 11 2 14 7 6 14 3 34-14 58-53 117-101 128-178 194-187 143-254 198-89 88-102 118-16 57-8 96 9 28 9 29 0 0 1 0 0 0 0 0 7 49-2-18-3-98 4-115 16-26 30-33 32-10 61-4 65 26 90 52 42 57 52 102 5 118-2 144-9 22-12 24-4 2-7 2-3 5-18-18-67-134-95-221-32-135-28-161 14-37 24-45 22-15 46-16 64 12 101 35 64 54 82 90 27 82 24 131-8 49-8 50-1 1-2 1 0 0-1 0-1 15-1-16 11-162 33-263 52-200 88-281 73-130 91-148 25-19 31-20 9 0 12 4 5 9 3 22-7 40-43 97-98 126-174 196-185 150-243 206-81 93-95 133-18 97-19 100-1 3-2 3-1 0-2 0 4 18-12-24-34-123-31-152 10-39 20-49 21-17 45-19 64 8 102 28 66 48 85 81 31 72 33 134-10 126-10 127 0 1 0 2-1 0-1-1 0 0 0-1-1-67 9-172 27-214 52-319 59-205 97-290 83-150 113-182 44-38 56-42 20-1 27 4 10 13 12 28 0 41-22 89-67 116-129 180-138 126-229 188-192 126-227 159-41 51-45 71-1 41 14 71 25 35 28 37 4 1 5 0 2 0 4-5 8-63 17-83 19-27 32-33 29-10 53-4 53 25 74 49 36 58 42 99-1 76-4 82-5 7-7 8-4 1-7-1-7 6-32-49-55-151-57-195 10-55 16-65 15-15 27-18 30-1 56 11 53 39 73 72 32 73 33 132-11 108-12 110-1 1-1 2-1 0-1 0 0 0-1-4-1-100 13-204 36-211 66-309 69-192 108-258 69-97 89-110 27-15 36-14 14 5 18 13 7 19 3 44-20 74-61 136-104 130-179 195-177 133-263 195-118 96-133 122-17 47-15 60 3 11 4 11 1 1 2 1 1 0 1-2 7-37 16-60 19-33 32-40 28-11 52-6 52 19 73 41 38 51 46 92 1 67-1 72-4 6-6 7-3 1-6-1-4 8-27-41-45-140-46-176 7-46 13-55 15-14 27-16 30 1 53 14 49 38 66 73 28 78 26 143-14 109-15 111-1 1-1 2-1 0-1-1 0 2-1-4-1-115 13-221 34-213 63-313 67-196 107-269 76-113 100-133 37-22 48-23 18 4 24 12 10 18 8 41-11 63-45 122-89 127-157 192-151 125-246 187-180 118-206 145-28 41-29 54 4 22 8 28 9 7 12 7 6 1 12-3 30-40 44-50 29-15 48-14 43 12 63 29 36 46 43 75 3 35 2 37-2 2-3 3-2 0-3-1-4 7-19-32-21-97-18-117 11-25 16-30 13-7 22-6 25 7 42 24 34 47 43 91 5 116-6 161-17 43-20 45-6 3-9 3-4 3-16-13-56-103-89-196-44-159-42-194 16-43 25-52 18-15 35-17 47 4 80 23 63 49 82 85 31 80 30 135-11 80-12 82-2 2-2 2-1 0-1 0-1 4-3-9 5-131 23-231 44-205 78-294 77-162 105-198 41-39 51-43 15-2 20 1 8 8 9 19 1 25-19 70-66 113-130 179-146 135-238 206-154 125-183 164-41 102-44 115-2 6-2 7-1 0-1 0-1 0-3-3-20-73-20-108 8-49 17-60 20-18 39-22 50 1 83 17 62 43 81 75 32 70 35 128-12 130-18 143-7 12-9 13-5 1-9-1-1 14-32-46-87-189-115-275-27-132-24-157 15-35 26-44 25-17 54-17 79 14 121 38 73 56 93 91 30 76 29 120-9 54-10 56-2 2-2 2-1 0-1-1-2 8-3-13 9-144 31-242 54-197 89-271 62-103 72-112 15-10 19-11 6 2 7 5 3 7-1 21-18 53-66 115-121 134-209 210-157 139-191 186-48 80-56 142-9 75-10 77-3 3-4 3-2 0-5-2-19-23-47-100-30-128-27-152 10-35 21-44 22-16 51-17 81 12 125 35 74 52 94 85 31 73 33 126-1 36-2 36 0 1 0 1 0-1 0-1-5 45 3-44 24-203 49-305 57-201 94-279 72-119 88-133 21-15 26-16 8 1 11 5 3 7 0 22-12 47-53 106-107 128-189 200-180 148-224 197-60 82-69 123-3 117-3 121-1 4-1 4-1 1-1 1 0 1-4-5-35-95-40-143 5-60 13-72 17-21 34-27 47-6 87 7 81 38 107 67 43 63 51 110 1 157-1 165-1 3-1 4 0 0 0 0 0 0 0-1-4 19 2-79 21-211 42-317 50-209 86-301 80-169 114-212 54-54 68-60 20-6 27-2 10 8 12 20 3 28-12 68-51 104-108 168-129 128-216 191-196 133-238 172-51 61-57 84-4 46 10 79 20 33 21 34 3 1 3 1 2-1 3-3 1-51 7-80 15-38 26-47 25-14 46-14 53 12 78 32 46 47 59 84 15 98 10 125-8 23-10 25-4 2-7 1-3 3-14-11-56-107-75-178-10-114-5-136 16-24 25-29 18-10 37-8 50 16 77 40 49 56 61 98 14 113 6 161-4 22-5 23-1 1-1 1 0-1-1-1-4 31 0-53 18-197 40-300 54-204 90-289 81-150 108-180 39-34 49-37 16-2 22 3 9 11 9 26 0 38-24 87-72 120-137 186-145 130-239 199-168 125-197 160-37 61-39 86 1 23 2 24 0 0 0 0 0 0 0 0 0 2 1-3 3-79 10-97 18-25 31-31 32-9 59-3 58 26 79 51 38 57 46 102-1 88-5 97-5 8-7 9-4 1-7-1-4 11-30-41-63-160-70-211 3-69 10-82 16-19 28-23 29-6 56 3 59 34 82 65 39 67 44 118-6 123-7 126-2 3-2 3 0 1-1 0 0 0-1-2-3-55 9-156 32-207 60-306 67-193 105-260 70-98 88-111 25-15 33-14 11 3 15 10 6 17 1 41-20 71-63 133-106 130-184 196-187 141-258 198-95 90-109 120-13 68-12 71 0 2 0 2 0 0 0 0 0 0 0 0-3-12-2-56 10-56 20-67 20-19 37-22 44 0 74 14 55 38 73 69 29 76 29 123-10 62-13 66-4 5-7 5-4 1-9-3-22-22-55-104-51-159-51-201 21-47 28-56 15-15 29-17 37 1 66 17 60 44 79 78 32 76 33 133-9 88-10 89-1 2-1 2-1 0-1 0-1 2-2-5 3-119 19-222 41-208 74-302 75-180 109-229 54-63 67-70 19-7 25-5 10 7 12 16 4 22-7 56-43 98-98 163-127 131-214 199-189 140-233 185-58 73-65 103-4 46-4 47 0 0 0 0-1 0-1 0 1 5 0-3-6-93 0-112 16-29 28-36 28-11 55-7 61 21 86 44 44 53 55 96 9 111 2 137-9 22-11 24-4 2-7 2-3 4-18-16-62-125-88-208-25-125-21-148 11-32 21-40 24-14 48-13 62 13 95 36 58 55 74 93 23 90 18 141-7 35-7 35-1 1-2 1 0 0-1 0-2 29-1-28 16-181 38-283 55-201 91-281 75-131 94-150 26-20 32-21 11 1 14 5 6 10 4 25-6 43-41 99-94 127-169 195-184 149-250 207-92 96-108 134-19 94-20 97-1 3-2 3-1 0-1 0 2 9-6-11-28-109-26-139 11-40 20-50 21-16 43-18 61 5 96 24 63 47 81 80 30 75 31 138-14 160-23 191-9 20-11 21-4 3-7 2 0 8-18-20-76-156-123-267-81-212-92-265-1-69 6-84 17-26 35-33 50-9 106 1 123 35 165 64 66 61 81 94 19 73 14 106-11 34-12 36-3 2-4 2-2-1-3-3-6 14-4-42 21-169 48-260 70-176 83-196 14-16 16-18 4-1 4 0 1 1 1 5 5-4-22 40-94 120-177 198-155 148-190 199-51 91-60 154-12 147-14 153-4 8-5 8-3 1-6 0 1 16-30-43-88-189-106-254-11-83-6-99 13-26 27-33 33-13 84-8 127 30 174 57 76 58 93 89 22 77 22 80 0 2 0 2 0 0 0-1-4 7 9-86 37-199 68-289 70-159 80-172 9-11 11-12 3-1 3 0 1 2 0 6 6 4-32 57-116 136-198 214-129 134-156 184-40 90-44 164-5 126-6 131-3 5-5 6-3 1-6-1-1 14-39-62-82-192-93-245-5-66 1-80 15-23 31-29 43-12 101-2 128 38 171 66 67 58 81 90 16 65 17 66 0 1 0 1 0 0 0-1 4-76 24-176 50-202 83-280 54-103 60-109 5-5 6-6 2 1 2 2 1 4-2 11-13 38-69 104-155 156-221 224-95 114-114 163-25 104-26 194-5 61-6 64-3 3-5 3-3 1-7-4-27-34-68-128-61-171-63-204 4-46 12-57 17-18 41-23 72-3 135 15 118 49 151 79 50 59 59 93 6 39 6 40 0 0 0 0 0 0 0-1 0-35 16-134 44-202 77-288 66-137 74-146 8-9 10-10 3-1 4 1 1 3-1 8 0 17-45 76-132 144-210 219-119 128-144 176-35 89-37 170-4 106-6 109-2 4-4 5-3 1-6-2-7 4-47-81-72-184-79-228 1-55 8-67 16-21 34-27 54-9 114 5 123 43 160 72 57 59 69 92 11 58 11 59 0 1 0 0 0 9 0-4 21-172 46-270 62-198 94-258 35-56 39-60 4-3 6-3 2 2 2 4 1 4-6 19-44 79-112 150-168 160-221 220-75 102-90 153-14 164-16 196-4 21-6 22-2 2-4 2-2 1-9-8-54-96-86-182-33-127-31-150 10-33 20-42 22-16 56-17 102 12 158 36 94 55 118 85 36 66 39 102 1 13 1 13 0 0 0 0-5 50 2-30 28-194 55-292 67-193 96-241 29-42 33-45 6-3 7-2 2 2 2 5 3 3-8 26-59 94-131 167-171 159-219 216-69 99-82 149-12 167-14 186-4 14-5 15-2 2-4 2-1 2-11-10-61-117-87-196-20-107-16-127 11-29 22-38 26-14 65-13 109 19 159 45 81 55 102 87 31 91 31 106 0 4 0 4 0 1 0-1 11-127 33-228 53-203 88-281 61-110 69-118 10-9 13-9 4 0 4 2 2 5-1 15-13 41-64 104-137 144-218 219-122 125-146 172-35 83-37 161-3 88-4 90-2 4-3 4-3 1-5-2-10-1-46-86-55-161-56-194 6-45 14-55 19-19 42-23 71-1 126 18 101 48 130 78 44 62 52 102 4 51 4 52 0 0 0 0-4 11 8-86 34-205 63-302 70-188 100-235 35-45 40-49 9-4 11-3 3 3 3 8 3 6-10 34-58 97-126 167-173 157-232 218-84 102-100 147-16 144-17 175-3 18-4 19-2 2-3 2-2 0-7-6-42-79-64-153-21-104-16-123 13-29 25-37 28-16 66-13 99 22 142 48 71 56 89 89 26 96 25 124 0 6 0 7 0 0 0-1-5 53 2-30 25-199 49-301 60-201 96-275 64-105 76-116 15-10 19-11 7 2 8 5 3 8-1 22-16 53-64 115-121 133-209 209-155 138-188 183-44 81-50 132-1 103-1 106-1 3-2 3-1 1-2 0 5 20-15-25-47-144-48-180 7-46 16-57 19-19 40-23 62-1 108 17 84 46 109 76 39 65 46 114 1 90 1 91 0 1 0 1 0 0 0 0 0 0 0-2 4-100 20-204 39-210 70-307 72-187 108-243 56-69 67-76 16-8 21-6 7 4 9 11 4 16-6 44-40 88-95 152-130 132-220 204-165 133-198 174-42 71-46 108 7 94 7 95 0 1 0 1-1 1-1 0 0 0-1-1-21-72-24-115 5-58 14-70 18-21 36-25 48-5 85 9 71 40 94 70 38 65 44 117-2 145-12 191-12 35-15 38-4 2-7 2-3 2-15-13-60-114-105-222-84-210-94-264 3-74 10-90 18-25 35-32 46-11 97-1 111 36 149 66 62 61 76 97 16 81 9 112-8 24-9 26-2 1-2 1-2-1-3-2-7 15-2-55 25-182 53-274 70-177 90-205 20-24 23-26 5-2 6-1 2 3 2 7 4 2-18 41-84 114-161 189-170 155-214 209-63 94-75 147-15 147-18 155-3 8-5 9-3 1-5 0 2 14-23-31-77-171-92-232-7-77-1-92 14-25 28-32 37-13 86-5 116 32 157 60 66 58 81 91 18 85 18 87 0 2 0 2 0 0 0 0-4 49 1-22 25-191 52-289 64-195 96-253 38-57 43-61 7-4 9-3 3 1 3 5 2 4-6 23-46 82-112 152-169 159-228 221-85 105-101 152-18 149-20 187-4 22-5 23-2 2-4 2-2 1-7-6-48-83-76-165-25-117-22-139 11-31 22-40 24-15 58-16 100 16 150 40 82 55 103 87 33 73 34 112 0 12 0 12 0 0 0 0 3-65 20-167 44-206 77-296 75-162 93-184 20-20 24-22 6-1 7 0 3 5 2 11 3 13-27 62-93 121-173 196-169 152-210 204-57 90-67 141-7 140-8 147-2 6-3 7-2 1-4 0 2 9-13-17-63-147-73-200-2-68 5-82 15-23 31-30 43-9 92 1 105 37 139 65 56 59 68 97 13 94 13 96 0 1 0 1 0 0 0-1-3-8 10-108 35-208 64-306 70-189 103-243 44-59 51-64 11-5 15-4 4 3 5 8 3 10-7 35-47 88-109 155-159 149-236 218-111 113-132 155-29 72-27 151 0 49-1 50-1 2-2 2-1 0-3-2-14-14-40-90-25-121-22-144 13-32 24-41 24-16 54-16 85 16 126 40 70 53 89 86 30 76 30 133-2 38-2 38 0 1 0 1 0 0 0-1-4 57 1-24 20-199 42-303 53-206 89-292 79-151 102-176 30-27 37-30 12-1 15 3 6 8 5 20-1 30-29 80-83 121-155 188-179 147-249 208-96 97-111 133-22 59-14 126 3 28 3 29 0 0 0 0 0 0-1 0 5 25-13-41-18-109-13-130 14-31 26-39 28-15 57-13 75 21 107 45 55 53 70 91 21 88 17 159-21 145-25 155-6 9-8 10-4 1-8-1-1 16-35-53-94-205-137-311-64-179-66-216 5-53 14-66 23-23 47-29 74-5 135 12 116 47 151 77 53 62 63 97 8 80 1 101-8 18-10 19-2 1-3 1-1-1-3-4-9-7 0-89 34-187 64-272 62-134 70-142 7-9 8-9 2-1 3 0 0 3-1 8 0 15-45 75-130 141-211 217-124 129-150 177-38 87-43 170-7 103-9 107-4 5-5 6-4 0-7-3-14-7-56-98-80-193-88-238-3-60 4-73 15-22 34-28 51-11 112 1 128 42 168 71 62 58 75 90 12 58 12 59 0 1 0 1 0 0 0-1 2-66 21-164 50-201 83-279 50-97 55-102 5-5 7-6 1 1 2 2 0 3-3 10-15 39-73 106-159 158-221 224-89 112-107 161-23 121-24 202-5 53-7 55-2 3-4 3-3 1-8-4-33-47-75-143-62-170-64-203 4-45 12-56 17-19 41-24 74-4 139 15 121 49 154 79 51 59 60 92 6 37 6 37 0 1 0 1 0 5 0-4 20-164 45-262 63-197 92-248 26-41 29-43 4-3 5-3 1 1 1 4 1 1-7 18-57 89-132 164-164 158-207 214-61 98-72 153-10 176-13 194-3 14-5 16-3 2-5 1-1 4-13-13-70-132-101-218-31-119-28-140 9-32 20-40 23-16 60-17 112 14 171 39 96 55 120 85 36 70 38 96 1 6 1 7 0 0 0-1-5 12 8-82 37-200 68-290 71-164 82-178 10-13 12-14 3-1 4 0 1 2 0 6 7 1-29 53-113 133-195 212-132 136-160 186-40 91-44 163-5 132-7 137-3 6-4 6-3 1-6-1 1 17-35-54-84-192-97-246-6-70 0-84 13-23 29-30 41-13 98-4 129 36 173 65 69 58 84 89 18 68 18 69 0 1 0 1 0 0 0 0 2-58 20-157 48-202 81-284 59-116 65-123 7-7 9-8 2 0 3 2 0 3-2 9-7 28-59 92-148 152-219 223-103 119-124 168-29 91-30 185-4 79-6 82-3 3-4 3-3 1-7-2-19-18-60-111-67-178-71-215 2-49 9-60 17-20 38-25 66-7 128 10 121 47 156 76 53 59 64 93 7 46 8 47 0 1 0 0-2 22 0-6 22-179 48-277 64-196 94-249 29-44 32-47 5-3 6-3 2 2 2 4 2 3-7 21-55 88-127 162-168 159-214 216-67 99-79 151-11 172-14 193-4 15-5 17-3 2-4 1-2 3-12-10-64-121-94-205-29-117-26-138 10-31 21-40 24-16 61-16 110 15 165 40 91 56 114 86 35 73 37 100 0 7 0 7 0 0 0 0-6 28 6-63 33-200 62-294 73-183 93-212 18-23 21-24 4-2 5-2 2 3 1 7 6 0-16 37-84 114-165 192-159 151-196 204-53 93-62 150-7 157-9 166-3 8-5 9-2 1-4 0 1 11-18-22-77-165-96-231-12-85-7-101 13-25 26-33 33-14 81-9 121 29 167 56 73 58 91 90 22 86 22 88 0 2 0 2 0 0 1-2 10-116 31-217 53-202 88-279 56-101 63-108 9-7 11-8 3 1 3 3 1 4-2 13-16 44-70 109-149 151-222 222-108 119-129 166-31 86-31 176-4 71-5 74-2 3-4 3-2 1-6-3-19-21-57-110-54-160-55-191 5-43 13-53 19-19 44-23 76-1 134 18 105 50 133 81 45 61 53 99 4 43 4 43 0 1 0 0-4 13 8-83 35-204 65-299 72-184 97-221 26-32 30-35 6-2 8-1 2 3 2 7 4 4-14 37-73 107-148 181-171 157-218 212-66 96-78 146-10 158-12 171-3 11-4 12-2 1-4 1-1 3-11-12-61-127-80-195-15-90-10-107 13-27 27-35 32-15 75-10 110 27 153 55 70 57 86 91 23 102 23 105 0 3 0 3 0 0 0-2 9-113 29-215 48-204 82-290 74-143 88-159 18-15 22-16 6-1 7 1 2 5 1 13-3 24-41 80-104 127-188 203-162 147-198 196-51 87-59 139-4 128-5 132-2 5-3 5-2 1-3 0 4 16-17-24-60-154-66-199 2-58 9-71 17-21 35-27 51-7 101 7 100 41 131 71 49 61 60 101 8 86 8 87 0 1 0 1 0 0 0 0-5 49 2-38 26-201 51-303 58-200 95-275 66-107 78-118 17-11 22-12 6 2 8 6 3 7 0 22-17 51-64 113-117 131-204 206-163 141-197 187-47 81-53 129-1 107-1 110-2 3-2 4-1 0-2-1 4 14-10-16-46-135-48-174 8-50 16-61 19-19 39-24 58-1 102 15 83 44 108 75 40 64 47 112 1 106 1 107 0 1 0 1 0 0 0 0 0 0 0-1 0-64 14-169 35-213 63-313 67-195 106-264 66-96 82-108 22-13 28-12 11 3 13 9 5 14 1 35-22 67-67 128-112 129-194 197-190 145-239 193-65 78-74 110-1 100 4 117 1 4 1 5 0 0 0 0 1 1 0-3-19-104-15-131 14-37 24-46 24-16 48-17 63 12 95 33 57 48 73 84 25 82 23 146-17 104-21 110-5 7-7 7-4 2-9-2-14-4-54-92-88-207-108-283-10-100-5-119 14-29 27-37 30-13 67-9 90 24 129 51 65 59 82 95 22 83 17 122-7 31-8 32-2 1-2 1-1 0-2-1-4 23-2-34 19-177 44-273 62-191 95-251 48-68 55-73 11-6 14-5 5 2 6 6 1 6-7 28-40 80-99 146-150 146-231 218-123 120-147 165-34 106-39 164-5 28-6 29-3 2-4 2-2 1-7-6-43-80-65-152-17-101-12-120 12-28 25-36 28-15 65-12 95 22 135 48 65 56 82 91 24 102 23 129-1 6-1 6 0 0 0 0 0 0 0-1-2-13 10-113 33-207 62-306 68-191 103-250 53-70 62-77 14-7 18-6 5 2 6 8 2 9-7 33-38 82-95 148-141 139-228 213-136 124-162 166-36 75-37 131 1 73 0 75-1 2-1 2-1 0-2-1 3 20-22-46-33-130-30-156 10-37 20-46 23-17 49-19 75 9 115 30 71 51 91 84 31 72 33 132-4 77-4 78 0 1 0 1 0 0 0 0 0 0 0-2 4-109 19-215 36-211 66-311 70-193 108-258 67-92 83-103 23-13 30-13 11 4 14 11 5 16 0 40-24 74-70 135-112 130-193 196-193 143-248 191-69 77-79 107-9 61 2 100 8 21 8 21 1 1 1 1 0 0 0-1 2 22-5-44 1-82 9-97 18-23 32-29 37-9 68 0 65 31 88 58 40 62 48 108 0 121-6 142-9 16-12 18-4 1-7 0-2 10-22-24-73-154-100-239-27-126-23-150 14-34 24-42 25-15 51-15 70 15 106 39 64 55 81 92 26 84 22 131-7 41-8 42-1 1-1 1-1 0-1 0-2 20-2-21 14-170 37-270 54-199 91-276 69-116 84-130 20-15 26-15 8 1 10 5 4 9 2 24-13 47-55 107-107 130-188 201-182 149-230 201-66 86-78 130-13 87-14 90-2 2-3 2-1 1-2-1-1 16-23-48-30-124-27-149 12-35 22-44 23-16 49-16 71 10 109 32 66 51 84 85 29 76 29 139-5 79-6 79 0 1 0 1 0 0 0 0 0 1 0-2 4-121 19-227 36-213 66-313 69-194 108-262 71-99 89-113 26-15 33-14 13 4 17 11 6 16 2 40-20 69-62 130-106 129-184 193-190 140-258 193-89 84-100 111-15 50-7 83 16 43 17 44 2 1 2 1 1 0 2-1 2 28-1-39 7-74 16-87 19-22 35-26 39-6 69 6 59 35 79 63 35 67 38 115-6 89-10 97-6 7-8 8-4 1-8-2-8 6-40-63-68-178-75-229-1-69 6-82 17-22 30-26 34-8 65 2 68 35 93 65 42 67 49 114-3 116-5 121-2 3-2 4-1 0-1 0 0-1-1-3-4-42 8-142 34-206 64-303 68-188 105-248 57-76 70-85 20-8 25-7 10 4 12 12 4 15-3 42-33 83-85 148-122 131-208 201-184 143-229 190-59 77-68 115-7 56-7 57-1 1-1 1-1 0-1-1 2 22-12-35-11-97-5-116 14-28 26-36 29-12 58-8 68 21 96 45 49 55 61 96 16 103 8 166-16 70-19 73-5 4-7 5-5 1-11-6-35-51-78-151-83-206-94-266 6-79 12-95 18-24 33-30 38-11 80-2 93 35 127 64 56 63 69 101 11 97 5 122-5 15-6 16-1 1-2 1 0-1-1-3-7 12 0-72 28-192 56-287 69-183 98-227 36-44 42-48 9-3 12-2 4 3 4 9 3 8-11 39-61 100-127 169-169 153-238 218-100 108-119 152-28 140-31 157-3 12-5 13-2 1-3 1-1 3-10-11-56-120-69-181-4-77 2-93 14-24 29-31 35-11 78-4 97 32 132 59 57 58 70 96 14 112 14 115 0 2 0 2-1 0-1 0 0 0 0-1 5-86 21-189 42-209 75-303 74-177 104-217 37-42 45-45 11-4 14-2 5 5 6 12 2 13-15 50-65 106-131 174-168 148-241 214-105 107-123 147-26 72-22 146 0 30-1 31-1 1-1 1-1 0-2-1-15-21-35-89-15-105-10-125 14-29 25-37 28-14 61-11 83 21 119 46 60 54 75 91 24 86 21 152-4 40-4 40 0 0 0 0 0 0 0 0 0 12-1-5 11-175 29-281 44-211 76-307 76-183 112-237 58-69 72-77 19-8 26-7 10 7 12 15 4 21-5 52-39 91-92 155-125 129-211 196-190 138-232 180-54 68-60 96 0 72 10 97 5 12 6 13 0 0 1 0 0 0 0-1-4-28-5-73 9-58 18-71 20-19 37-23 46-2 77 12 60 39 80 70 32 69 34 122-9 97-13 104-6 7-8 8-4 1-9-2-8 6-42-68-76-188-87-246-3-80 3-95 17-24 30-30 33-10 66-2 75 33 104 62 48 63 58 106 3 116 0 127-2 6-2 7-1 0-1 0-1 0-2-2-6-8 5-103 29-202 58-299 66-189 102-248 55-73 66-81 17-8 22-7 8 4 10 11 3 12-4 38-37 82-90 147-128 133-216 206-170 139-206 183-49 74-57 124-6 51-7 52-1 1-2 1-1 0-2-1-14-20-29-82-9-91-3-108 15-27 27-34 31-12 64-7 76 27 106 53 51 56 63 96 16 101 10 173-15 105-16 106 0 1 0 1-1 0-1 0 0 2-1-4-1-122 9-230 27-216 52-322 57-208 95-297 85-161 121-203 56-55 73-61 27-5 36-1 16 14 19 29 4 38-10 81-48 108-101 171-122 127-202 184-186 116-272 165-98 67-107 82-11 27-8 44 16 45 60 93 32 30 34 30 3 0 4-1 2 4 4-11 9-79 18-93 17-21 30-25 30-4 54 5 48 28 66 55 31 69 32 113-7 61-10 65-5 5-7 5-4 1-8-2-18-13-47-87-45-149-44-182 11-43 18-52 17-14 31-15 36 2 63 19 53 45 70 81 26 81 23 145-10 79-11 80 0 1-1 1 0 0-1 0 0 6-1-8 4-146 21-251 41-208 74-304 74-182 111-236 62-74 78-83 23-10 31-8 11 7 15 17 6 23-3 56-35 91-84 155-117 132-198 196-194 138-261 191-85 80-95 104-8 45-7 50 2 5 2 6 1 0 2 0 1 0 2-3 9-53 18-71 19-27 33-33 32-8 57-1 53 25 73 49 34 61 39 100-3 56-5 60-4 4-5 5-3 0-7-2-11 0-36-64-39-140-38-169 9-39 16-46 15-13 29-14 34 3 59 20 48 43 63 80 24 86 19 154-12 84-13 85 0 1-1 1 0 0-1 0 0 8-1-8 3-151 19-257 39-212 70-310 72-190 111-255 71-95 91-109 31-15 41-15 17 6 21 15 9 22 4 49-19 77-60 139-101 130-174 194-163 124-259 187-148 104-165 127-19 36-18 48 5 20 9 23 6 4 9 4 5 1 11-5 30-45 44-55 29-14 48-12 45 13 64 31 37 45 44 76 2 39 1 41-2 3-3 3-2 1-4 0-4 7-20-36-23-101-20-122 11-27 17-32 13-7 23-6 25 6 43 23 35 47 45 90 7 113-4 168-20 57-23 60-6 4-9 4-4 2-14-10-48-82-86-179-56-182-59-226 9-53 17-65 18-19 34-22 43 0 79 15 72 43 95 75 39 72 44 120-8 104-10 109-2 4-3 4-1 0-1 0-1 0-2-5-3-71 12-170 38-203 70-295 74-174 104-216 44-47 53-51 15-4 19-2 7 5 8 14 1 19-15 57-58 106-119 173-143 135-234 208-150 126-179 168-43 105-47 128-3 10-3 11-2 1-2 1-1 1-5-5-30-83-33-126 6-56 14-68 18-20 35-25 46-4 82 10 72 39 95 69 38 65 44 117 0 131-11 201-20 95-23 98-3 5-5 5-3 2-8-3-18-21-66-127-105-230-148-336-53-168-56-202 4-48 14-61 21-20 49-26 86-3 156 15 132 46 169 75 59 60 70 92 12 69 4 98-13 32-16 34-4 2-5 2-3-1-5-4-9 1-4-66 27-173 56-258 52-119 56-123 3-5 4-6 0 0 0 0 0 1-2 5 0 10-54 74-151 156-216 224-96 115-116 165-27 104-29 199-7 88-9 92-3 4-5 5-4 0-8-4-20-18-67-117-94-211-108-266-9-70-4-84 14-24 30-31 39-14 102-5 147 35 200 63 79 57 96 85 19 57 19 59 0 2 0 2 0 0 0 0 0 15 0-7 18-156 44-250 69-186 74-196 3-7 4-8 0 0 0 0-1 2-2 4 2 7-55 74-157 161-210 224-79 110-95 163-17 133-18 221-6 72-8 75-3 4-5 4-4 1-9-4-25-30-74-132-95-213-109-265-9-68-3-82 13-23 28-30 40-13 106-5 156 36 212 64 83 56 100 83 20 50 20 51 0 1 0 1 0 5 0-3 15-143 40-236 65-183 68-188 0-4 0-3 0-2-5 6-86 105-163 185-124 136-151 188-38 97-42 175-3 187-6 199-4 12-6 13-3 2-6 1 0 9-22-26-89-172-134-274-58-156-60-183 4-39 12-49 19-18 47-22 96 0 178 21 151 51 190 79 55 53 63 75 4 19 4 19 0 0 0 0 0 27 0-10 18-157 45-248 41-121 42-124 0-2 0-3-1 0-1 1 5-8-9 9-137 148-198 216-90 117-109 169-25 110-24 205-3 157-5 164-4 8-6 9-4 1-7-1 4 19-33-48-104-205-150-306-62-156-64-183 5-38 13-48 18-18 47-22 99 1 190 21 168 50 210 77 59 50 67 68 4 19 4 20 0 1 0 1 0 0 0 0 0 0-1-2-5-26 8-111 44-191 45-197 0-6 0-6-1-2-3-1 9-11-14 11-144 146-192 207-71 108-84 162-15 127-12 219 0 179-3 188-3 10-5 11-2 2-5 0 2 14-22-27-91-182-148-296-111-227-129-279-14-66-10-80 11-22 26-29 31-11 106-4 205 30 291 54 130 49 152 67 25 33 26 42 0 12-1 13-2 3-3 3-3 0-4-2-5 3-9-22 4-144 2-159-3-14-5-15-3-3-7-2 2-13-53 39-115 120-142 170-39 105-40 137 2 21 3 22 1 1 1 1 1 0 2-1 1 16 23-84 49-210 82-304 54-130 55-133 1-3 1-3-1-1-2 1-13 15-84 100-121 154-148 211-39 109-41 185 13 211 13 274-4 45-5 48-3 4-5 4-4 0-10-6-35-53-90-163-115-227-137-286-18-74-15-87 10-23 23-30 24-13 87-7 187 31 275 58 136 53 167 80 17 15 18 15 1 0 2 0-3 44 4-21 41-223 45-246 1-15 0-16-2-2-3-2-1-3-11 5-114 114-164 176-74 109-89 162-17 118-11 201 13 182 12 247-4 45-5 47-3 3-4 3-3 1-8-5-29-50-82-161-114-227-172-339-96-199-107-235-8-48-3-59 13-19 32-24 47-8 150 4 240 33 328 53 121 40 138 55 22 26 24 38-1 24-9 35-18 17-25 19-12 1-17-2-11-5-18-25-13-97-17-105-7-10-10-11-6-3-16 2-56 40-97 91-65 100-73 136-3 25-2 26 0 1 0 1 1 0 1-1-7 32 8-21 48-187 79-286 14-57 14-59-1-1-2-2-1 0-3 2-11 8-67 83-85 131-102 189-24 121-19 212 16 218 15 282-4 44-6 47-3 3-5 3-3 0-9-6-35-58-92-169-125-235-174-332-56-134-59-154 3-29 10-37 16-13 44-15 114 9 232 30 241 44 306 65 71 34 72 34 0 1 0 1 0 0 0 0 2 12-9-21-22-73-26-78-8-7-14-7-10-5-45 21-89 85-113 128-22 52-22 52 0 0 0 0 0 0 0 0 15-64 41-162 29-116 29-119-1-3-2-4-1-1-3 0 4-15-42 45-79 125-95 182-22 119-16 198 23 162 32 238 12 185 11 197-2 11-3 12-3 2-4 1-2 2-11-14-68-141-123-252-117-223-179-334-103-188-114-220-8-44-3-54 12-16 29-20 39-6 148 9 243 31 359 42 174 25 195 36 26 19 29 27 5 18-2 34-31 49-64 72-45 22-52 21-11-2-16-7-10 1-13-52-5-78-7-82-4-5-7-5-4-3-16 5-63 59-90 106-41 105-41 118 0 8 1 9 0 0 1 0 0 0 1-1 6-7 32-105 64-223 65-231 1-7 0-7 0-1-1-1-1-2-7 4-76 92-110 154-50 115-56 183 1 161 9 258 7 199 5 211-2 12-4 13-3 2-5 1-1 6-17-20-84-161-143-274-128-238-162-310-33-86-32-101 5-23 14-29 18-11 63-9 176 24 296 44 238 42 280 57 35 19 36 20 1 2 1 2 0 1-1 1-1 0-3 0-11-7-34-39-22-22-30-24-15-4-40 9-74 57-101 98-18 26-18 26-1 0-1 0 0 0 0-1-2 1 17-85 17-100 17-102-2-3-3-4-2-1-4 0-7-1-41 50-56 106-64 159-1 92 1 97 3 5 4 6 2 0 3-1 0 10 10-16 43-163 74-264 55-164 55-166-2-3-2-3-3 0-3 0-4-1-8 5-101 133-135 197-51 117-58 186 1 166 9 268 5 165 3 173-3 9-5 10-3 1-6 0 4 16-28-39-104-197-163-310-102-203-113-239-9-46-4-56 10-17 26-21 34-8 129 7 234 42 334 65 151 49 155 49 4 0 5 0 2 1 2-8-3-115-6-124-6-10-9-12-5-3-14 1-51 32-100 85-75 101-88 142-7 37-7 38 0 1 0 1 1 0 1 0-2 9 3-7 39-158 68-257 35-110 35-113 0-2 0-3-2 0-3 1 23-33-35 38-107 142-131 201-35 115-36 193 12 194 15 285-3 87-5 91-3 5-5 5-3 1-7-3-11-6-64-110-119-227-173-333-75-164-80-189 0-35 6-44 14-14 37-17 78 0 192 19 241 44 316 67 97 44 99 45 1 1 1 1 0 0 0 0 1 1-1-3-16-99-20-110-7-12-11-14-7-3-17 1-56 35-100 86-70 99-79 133-3 15-3 15 0 1 1 1 0 0 0 0-7 28 5-13 48-188 74-278 9-42 9-43-1-2-1-2-2-1-4 1-30 30-77 97-74 122-88 182-16 128-9 222 16 219 15 275-4 37-5 40-3 4-5 3-4 1-10-7-38-66-95-177-120-229-174-332-73-151-77-174 1-34 7-42 16-15 40-17 90 4 209 23 252 40 330 60 90 33 95 38 4 7 4 8 0 2-1 3-2 1-4 1-5 0-16-11-34-51-41-56-13-6-24-5-32 9-72 46-73 96-74 98-1 1-1 1-1 0-1 0 0 0 0-2 25-103 38-167 4-36 3-38-1-2-2-2-2-1-6 2-37 36-66 92-45 111-48 165 6 78 8 82 3 3 4 3 2 1 3 0-1 22 16-36 46-193 78-293 61-159 62-162 1-4 1-4-1-1-1-1-1-1-6 5-104 125-146 191-63 121-74 183-8 145 0 249 10 188 8 198-4 11-5 12-4 2-6 1 0 10-22-26-95-178-153-290-97-197-106-231-6-45-2-55 12-17 29-21 41-9 138 7 228 44 315 70 128 53 132 54 4 0 5-1 2 3 4-10 17-165 16-179-2-12-4-13-3-3-6-2 6-15-48 34-115 121-143 172-41 104-42 142 2 28 3 29 1 1 1 1 1 0 2-1-1 26 21-71 46-209 79-306 65-156 66-159 2-4 2-4 0-2-5 5-105 125-161 198-83 124-100 181-21 118-15 215 11 199 9 211-3 13-5 14-3 2-6 1 0 6-18-21-88-163-140-270-78-174-82-203-1-41 6-50 15-18 37-22 73-4 170 15 198 50 256 77 87 61 90 63 2 1 3 1 1 0 1-2 1-24 17-116 40-173 41-178-1-6-2-6-1-2-3-1 27-32-30 25-145 153-183 209-57 103-66 161-5 144-1 234 0 164-2 172-3 8-4 10-3 1-6-1 3 16-25-33-95-194-153-308-116-229-138-286-20-73-17-88 10-24 23-30 26-14 94-9 204 26 301 48 153 47 178 65 31 32 33 42 1 18-1 22-5 5-7 6-5 0-7-1-6-2-12-19-7-116-10-130-5-14-7-16-6-3-11-2-18 1-73 56-95 113-115 159-22 84-21 88 1 3 1 3 1 0 1 0 0 1 2-2 20-77 46-179 75-236 78-245 2-7 2-8-1-1-1-1-1 0-4 2-67 76-118 147-77 125-93 185-17 128-11 227 10 217 8 235-4 15-5 17-4 3-6 2-2 3-16-16-77-142-135-255-113-222-130-270-14-61-11-73 10-21 24-26 26-13 102-4 212 37 308 62 163 62 177 72 6 4 6 4 1-1 2-2-3 15 2-63 7-118 5-123-3-5-5-6-3-2-11 1-57 42-111 102-82 110-98 158-13 87-12 91 1 3 1 3 1 1 2 0 0 2 3-4 25-107 52-211 79-243 93-275 6-13 7-14 0-2-1-2-1 0-2 2-29 33-98 118-109 145-132 202-33 111-33 193 15 224 13 270-4 31-6 33-3 4-5 3-3 1-11-8-48-81-104-192-115-226-133-279-14-67-11-80 12-22 25-28 26-12 96-5 197 35 284 62 133 52 163 79 11 9 11 9 2 0 2-1-3 36 6-45 35-199 35-209-1-9-2-10-2-1-4-1 15-20-27 19-135 139-172 194-54 102-63 158-1 151 5 178 5 15 6 15 1 1 1 1 1 0 3-3 10-47 27-157 40-219 69-321 68-200 105-267 51-76 58-82 9-6 12-5 4 1 4 4 1 6-5 21-33 65-96 134-166 158-223 220-82 105-96 151-19 91-8 173 23 159 22 164-1 6-2 7-2 1-3 0 1 8-13-15-79-160-102-232-18-93-14-110 11-26 23-34 27-13 75-10 135 25 193 53 92 57 113 87 32 74 32 75 1 2 1 2 0 0 0 0 0 0 1-2 12-113 35-213 54-201 88-273 44-78 48-82 5-4 7-4 1 0 1 2 1 3-3 12-28 55-92 126-164 160-218 222-78 106-93 157-15 152-17 209-4 35-5 37-3 2-5 2-2 1-8-5-42-67-81-161-53-157-53-185 5-40 14-50 19-18 46-22 86 1 150 22 115 52 145 81 45 60 53 94 4 27 4 28 0 0 0 0 0 1 0-2 15-139 38-238 59-199 91-262 36-59 39-62 5-3 6-3 2 0 2 2 0 3-5 16-41 72-110 144-167 160-216 219-72 103-86 155-12 170-15 203-4 21-6 23-3 2-4 2-3 2-11-8-56-99-91-190-40-136-39-160 8-35 18-45 21-16 53-19 100 8 160 31 104 54 130 84 40 62 45 96 1 17 1 17 0 0 0 0-1 20 1-6 22-178 48-275 64-196 93-247 27-41 30-43 5-3 6-3 1 2 1 4 2 2-8 21-57 90-131 165-166 158-210 214-64 98-75 152-10 174-13 192-4 14-5 15-3 2-5 2-1 3-12-12-68-130-98-213-28-115-25-136 10-31 21-39 24-16 62-16 113 15 168 41 92 55 115 86 35 78 36 98 0 5 0 6 0 0 0-1-3-10 12-108 40-202 72-291 71-157 82-171 11-12 13-13 3-1 4 0 1 3 0 8 5 6-33 60-114 133-197 212-134 136-162 186-41 89-46 160-4 127-6 132-2 5-4 6-3 1-5-1 0 16-35-55-79-187-89-237-4-65 2-78 15-23 31-29 46-12 103-1 124 39 165 67 63 59 77 92 14 67 14 68 0 1 0 1 0 0 1-2 10-116 32-216 54-202 88-277 51-92 57-97 7-6 9-6 3 0 3 2 1 4-2 14-20 48-78 115-157 155-224 223-97 114-117 162-25 102-26 189-4 55-5 57-2 3-4 3-3 1-7-4-28-39-66-130-52-157-53-186 6-41 15-52 19-18 45-22 81 1 140 21 106 51 135 81 44 61 51 99 4 35 4 36 0 0 0 0-5 17 8-77 34-203 64-297 73-183 94-214 22-26 25-28 5-2 6-1 2 2 2 7 5 2-16 38-80 112-159 188-165 155-206 208-58 94-68 147-8 157-10 167-3 9-4 10-3 1-5 0 1 8-14-17-71-151-89-216-12-85-7-101 13-26 27-34 33-14 80-9 116 29 160 57 70 58 86 91 22 92 22 94 0 2 0 2 0 3 0-3 18-163 41-263 56-200 92-274 56-93 63-99 10-8 12-8 4 1 5 4 2 5-2 17-23 53-78 119-147 148-224 220-113 120-136 166-31 81-32 166-2 71-4 73-2 3-3 3-2 0-5-3-16-15-51-100-48-150-47-178 8-41 17-51 20-18 46-22 80 4 134 25 93 51 119 82 40 64 46 106 2 42 2 43 0 0 0 0 0 5 0-4 18-169 41-271 55-202 90-280 66-114 77-124 13-11 17-12 4 1 6 4 2 6-1 18-13 44-60 105-122 136-209 213-145 135-174 181-42 83-47 142-2 102-3 105-2 3-3 4-1 0-3-1 2 19-27-48-52-156-54-190 7-46 15-57 19-19 41-23 66 0 117 18 91 47 117 77 42 64 50 108 3 69 3 69 0 1 0 1 0 0 0-1 5-89 22-192 42-209 74-303 76-176 104-214 36-40 43-44 11-3 14-1 5 4 5 11 2 14-16 51-66 107-134 175-171 151-241 215-98 104-116 144-22 85-19 152 0 26 0 27-1 1-2 1-1 0-2-2-18-25-38-95-14-104-9-123 13-29 25-37 27-14 61-12 85 21 121 46 61 54 77 90 24 86 21 150-3 34-3 34 0 0 0 0-1 0-1 0 0 15 0-6 13-178 32-284 45-211 78-305 76-178 111-226 53-59 64-65 19-6 24-4 9 6 11 15 2 20-10 55-48 97-105 162-131 130-222 199-175 133-209 172-43 65-47 96 11 91 13 95 1 3 1 3 1 0 1 0 0 0 0-1-9-38-10-84 8-58 17-70 19-20 36-24 46-3 79 11 63 38 84 68 34 69 38 122-9 118-14 130-7 10-9 11-5 2-8 0-3 12-34-47-83-186-103-261-15-111-10-132 18-30 29-38 26-13 56-10 76 21 111 47 61 59 77 96 21 90 15 133-7 29-8 30 0 1-1 1-1 0-1-1-4 26-2-37 20-184 45-283 58-195 95-265 61-94 73-104 17-10 21-10 8 2 9 7 4 9-1 27-23 62-72 126-119 132-206 206-169 142-207 189-53 79-62 132-9 69-10 71-1 2-2 2-2 0-4-2-14-13-35-83-21-112-17-133 12-31 23-39 26-14 57-13 79 17 116 41 62 54 78 90 26 82 23 146-3 42-4 42 0 1 0 1 0 0 0 0 0 7 0-5 11-169 29-275 44-211 77-306 76-180 111-230 54-61 66-68 20-6 25-4 9 5 11 14 2 20-9 53-45 95-101 160-129 130-218 198-180 135-216 175-46 66-51 97 10 90 12 94 2 4 2 4 0 0 0 0 0 0 0-1-8-36-9-82 9-58 17-70 20-20 37-24 46-2 78 12 63 38 83 68 34 70 37 122-8 114-13 124-7 10-9 11-5 1-9-1-3 12-35-51-82-188-100-259-12-103-6-123 18-29 30-36 27-12 57-8 76 23 110 50 58 60 72 99 17 98 11 135-6 21-6 22-1 1-2 1 0-1-1-2-5 26-1-50 23-191 49-290 61-194 97-261 60-90 71-99 17-10 22-9 7 2 9 7 4 10-1 30-26 67-76 131-121 132-209 206-169 142-207 188-52 78-61 130-9 65-9 67-2 1-3 2-1 0-3-2-14-15-34-84-18-106-13-126 13-30 24-37 27-14 59-12 79 20 114 45 58 53 74 90 23 87 19 153-4 44-4 44 0 1 0 1 0 0 0 0 0 12-1-6 11-174 29-280 42-211 75-308 75-184 111-240 61-73 75-81 21-10 28-8 10 6 13 15 5 20-4 50-36 90-87 153-121 130-205 195-194 139-242 184-61 70-68 97-5 59 6 90 9 19 10 19 1 1 1 1 1-1 1-2-3-27-2-70 11-55 20-66 20-19 39-22 47 1 77 16 57 40 75 71 30 74 30 126-10 76-13 81-6 6-8 6-4 1-9-3-18-11-53-95-63-179-68-223 4-59 11-72 18-20 33-24 40-5 73 8 69 40 93 72 39 69 44 118-5 102-6 105-1 3-2 3-1 1-1 0 0 0-1-3-2-68 12-169 38-206 69-301 73-181 107-230 48-59 59-65 16-5 21-4 8 6 10 14 3 18-8 51-47 96-105 162-134 133-225 205-166 134-200 177-45 69-52 117-4 38-4 38-1 1-2 1 0 0-1-1-13-20-23-77-3-80 4-95 16-24 29-31 35-10 68-2 72 29 98 56 45 59 55 104 10 115 0 182-17 70-20 73-4 4-6 4-5 1-12-6-36-56-82-161-91-222-109-289-14-92-8-111 15-30 30-38 36-16 81-11 107 27 151 55 71 59 88 93 24 75 20 113-9 40-10 42-2 2-3 2-2 0-2-2-4 16-4-27 16-160 41-255 64-190 92-238 31-44 36-47 5-3 7-2 2 2 2 5 2 4-9 28-57 95-126 166-172 157-229 218-82 102-99 150-21 157-25 175-4 14-5 15-3 2-5 1-1 5-14-14-67-135-90-209-18-100-13-118 12-28 24-36 28-15 69-12 110 22 156 48 75 57 94 89 26 96 26 104 0 3 0 3 0 1 0 0 0 5 0-3 17-161 40-261 58-200 92-272 53-88 60-94 9-7 12-7 3 1 4 4 1 5-3 17-24 58-81 124-151 150-225 221-110 118-131 164-30 82-31 171-3 60-4 62-3 3-4 3-2 1-6-3-22-28-56-114-43-145-42-172 7-39 17-49 20-17 48-20 84 5 137 27 92 52 117 82 39 65 44 108 1 36 1 36 0 1 0 0-2-13 12-113 37-207 67-302 73-183 100-223 32-38 37-41 8-3 10-2 4 3 4 9 3 6-14 40-67 104-138 175-175 157-230 216-79 99-94 144-13 149-15 170-2 13-3 15-2 1-3 1-1 0-7-6-46-93-65-161-15-95-10-113 14-27 27-35 30-15 71-10 100 26 140 52 66 57 82 92 23 114 22 123 0 3 0 4 0 0 0-1-2 22 0-6 19-185 41-287 54-205 90-287 73-132 89-148 21-17 25-18 8 1 10 4 4 7 2 18-6 35-45 92-103 126-185 199-175 149-218 199-59 86-68 129-4 125-4 130-1 5-2 5-1 1-2 0 1 4-6-7-45-115-51-164 4-61 12-74 17-22 34-27 46-7 90 6 88 38 116 67 46 62 55 106 6 125 5 127 0 2 0 2 0 0 0 0 0 0-1-1-3-5 8-107 28-211 54-314 60-202 98-280 75-127 95-145 28-20 35-21 12 1 16 5 6 12 4 28-8 46-44 102-95 126-170 192-185 145-252 202-90 90-103 123-18 62-9 109 7 32 7 32 0 1 0 0 4 14-1-4-17-115-11-138 14-32 26-40 26-14 53-13 67 17 97 40 53 51 67 89 20 93 15 157-17 83-20 87-5 5-7 6-4 1-10-4-26-29-68-127-83-209-97-272-6-82 0-98 16-26 31-34 37-11 78-4 94 31 129 59 59 62 72 99 15 92 9 120-5 18-6 18-1 1-1 1-1 0-2-2-6 18 0-61 26-189 53-284 68-186 98-233 38-48 44-52 9-4 12-3 3 2 4 7 1 8-12 37-56 97-121 165-166 152-237 218-102 110-122 155-28 138-32 160-4 14-5 15-2 1-4 1-1 3-9-10-55-116-70-177-9-84-3-100 15-26 29-33 34-13 76-7 98 31 134 58 60 58 74 95 16 113 16 117-1 2-1 2 0 0 0 0 0 0 0-1 1-54 16-157 40-209 71-304 73-184 104-230 40-49 47-53 12-4 15-3 5 4 6 11 3 12-11 43-56 99-120 167-163 147-239 215-111 111-131 152-28 68-25 145 0 39-1 41-1 1-1 1-2 0-3-2-14-15-35-86-19-111-15-132 13-31 24-39 26-14 58-12 84 18 122 42 63 54 80 90 26 81 24 144-3 40-3 40-1 1-1 1 0 0 0 0 0 6 0-5 12-170 30-275 45-211 78-306 76-179 110-227 53-59 64-65 19-6 24-4 8 6 10 15 3 19-10 53-48 97-105 162-131 130-222 200-173 132-206 171-42 65-46 98 11 92 12 94 1 2 1 2 1 1 1 1 0-1 0-1-10-35-12-84 7-62 15-74 19-21 35-25 44-4 78 9 65 36 87 66 36 67 41 118-7 128-13 145-8 13-10 14-4 2-8 1-1 11-27-34-81-174-108-259-27-132-23-156 12-35 23-44 24-15 52-15 75 13 115 37 70 55 89 91 28 78 26 123-8 50-9 51-1 2-1 2-1 0-2-1-1 12-2-15 11-153 33-252 54-198 90-273 65-110 78-121 17-11 21-12 7 1 9 5 3 7-1 21-16 51-62 112-114 131-199 205-170 145-208 194-54 82-64 135-11 82-12 84-2 3-3 3-2 1-4-1-11-5-37-78-30-127-27-152 10-35 21-44 22-16 50-17 77 10 118 32 71 52 90 85 31 74 32 130-2 49-2 50 0 0 0 0 0 0 0 0 0 3 0-4 11-159 31-264 46-209 80-301 78-171 108-209 40-44 49-48 13-3 17-1 7 7 8 16 2 21-16 61-62 109-127 175-155 139-242 208-130 115-152 152-30 67-29 112 6 60 6 60-1 1-1 1 0 0 0 0 4 12-3-7-26-118-23-144 12-38 22-48 23-16 48-17 65 9 100 29 61 49 79 84 28 77 27 142-16 151-22 167-8 13-10 14-4 1-7 0-1 14-29-37-87-188-129-292-59-180-61-218 9-51 18-63 21-22 44-27 69-2 125 15 107 47 138 78 50 64 59 100 2 87-3 101-5 11-6 12-2 1-2 0-2 0-3-4-8-22 4-110 37-192 68-278 67-137 76-148 11-10 14-11 3-1 4 1 1 2-1 9-2 18-45 76-117 133-201 212-142 137-172 185-44 87-51 158-9 107-11 111-3 5-4 5-3 1-7-2-10 0-49-86-70-181-75-222 1-55 8-67 17-20 36-26 57-8 115 7 115 44 150 73 53 60 64 95 9 59 9 59 0 1 0 1-1 0-1-1 3-65 21-165 47-203 80-288 67-134 77-144 10-11 13-11 3-1 4 1 1 4-1 11-2 22-46 82-125 138-208 216-131 132-158 180-38 86-42 159-4 107-6 111-2 4-4 4-2 1-5-1-4 9-41-71-66-176-71-216 3-52 10-64 17-21 37-26 58-6 116 9 112 45 145 74 52 60 62 96 9 60 9 61 0 1 0 0-4-2 10-99 37-205 67-299 74-180 96-212 23-27 27-30 6-2 8-1 2 3 2 8 4 5-17 43-79 112-156 186-170 156-214 210-63 94-74 145-9 154-11 164-2 9-3 10-2 1-4 1 0 6-12-14-65-137-82-203-7-82-2-98 13-26 27-33 34-13 79-7 111 30 152 57 65 58 81 92 20 98 20 101 0 1 0 2 0 0 0-1-4 55 1-17 24-193 49-294 60-199 95-269 56-89 64-96 12-8 15-8 4 2 5 5 2 7-2 21-25 61-80 126-142 143-224 218-124 123-148 168-35 79-36 151-1 77-2 79-2 3-3 3-2 0-4-2-9-1-40-80-43-145-41-172 8-39 17-49 20-18 47-21 78 5 127 26 86 51 110 82 37 66 42 114 1 49 1 49 0 1 0 1 0-1 0-1-3-2 9-102 32-206 60-305 67-193 102-255 54-73 64-80 13-7 17-6 5 2 7 7 1 9-6 31-37 78-93 144-140 139-227 213-135 125-161 167-35 76-37 133 1 78 1 79-1 2-2 3-1 0-2-1 3 21-22-46-36-134-34-161 10-38 20-48 22-17 48-19 74 6 115 27 74 51 95 84 33 70 36 127-3 76-3 76 0 1 0 1 0 0 0 0 0 0 0-2 4-103 19-208 38-212 68-311 70-190 108-253 63-84 77-93 20-11 26-10 10 4 12 11 5 16-2 41-29 79-78 141-119 131-203 199-188 141-232 186-58 74-65 106 5 101 7 109 1 3 2 3 0 1 0 1 0-1 0-1-8-25-13-78 4-68 12-81 18-22 34-27 41-7 75 4 67 35 90 63 39 64 46 113-2 134-10 159-9 20-11 22-5 2-8 1-2 6-21-22-73-150-107-246-43-152-41-181 9-42 19-53 23-18 48-20 70 5 113 25 78 53 100 86 36 72 38 116-8 70-9 72-2 3-2 3-1 0-2 0-1 1-2-8 4-110 23-209 49-200 83-281 71-130 85-144 17-16 22-17 6 0 8 3 2 7 1 18-7 36-47 94-105 129-187 203-174 149-217 200-59 87-70 137-14 99-15 102-2 3-3 4-3 0-5-2-4 9-33-63-44-143-43-172 9-42 18-52 21-18 45-21 71 4 117 24 80 50 103 81 36 68 40 118 0 61 0 61 0 1 0 1 0 0 0 0-2 38 0-10 18-189 40-292 52-206 88-291 77-146 98-168 27-24 34-26 10 0 13 3 4 7 4 18-4 30-35 82-89 122-164 191-183 151-242 207-81 93-94 131-10 124-9 139-1 7-1 8 0 0-1 0 0 0-2-1-21-44-33-104-4-83 3-99 15-25 29-32 34-10 71-3 82 29 111 56 50 57 62 99 15 107 8 174-6 43-6 43 0 0 0 0 0 0 0 0-1 36-1-12 9-187 25-295 40-215 71-314 71-194 111-262 73-102 94-117 32-18 42-17 16 4 21 13 8 19 4 44-16 69-55 129-99 127-172 190-165 124-260 185-132 95-149 119-19 41-18 62 21 62 35 80 13 12 15 12 3 0 4-1 1 11 5-16 13-76 22-89 20-20 36-23 37-2 63 10 52 35 69 64 28 72 28 114-7 49-10 52-4 4-6 4-4 1-9-4-26-29-54-107-36-142-34-169 9-36 17-44 18-13 34-14 42 5 69 24 52 47 68 85 24 87 19 151-9 60-10 61 0 1-1 1 0 0 0 0-1 18-2-14 9-169 27-273 45-209 79-301 76-174 111-221 55-59 69-65 22-6 28-4 12 8 14 19 4 24-9 62-47 101-101 166-126 132-211 197-197 139-248 184-65 71-72 95-3 43-2 46 2 3 2 3 1 0 1 0 0 0 1-3 7-61 16-79 19-27 32-33 31-10 57-3 54 26 75 51 36 59 42 99-2 68-5 74-4 6-6 6-3 1-7-1-7 5-33-54-50-147-51-185 12-51 19-60 17-14 28-16 30-1 55 13 52 42 70 77 29 78 28 140-12 103-13 104-1 2-1 2-1 0-1 0-1 1-1-5 0-117 14-221 36-211 66-310 69-192 109-259 72-101 93-116 30-17 39-17 16 5 21 13 8 20 4 46-17 73-57 134-100 130-173 194-164 127-259 191-140 104-158 129-19 41-18 54 5 17 7 19 3 2 4 2 3 0 5-3 19-44 30-59 24-22 40-25 38-2 62 10 47 32 62 61 21 74 20 89-4 14-5 15-3 2-4 2-2 1-8-6-35-66-45-121-3-73 2-86 13-17 21-20 19-5 35 1 39 22 57 49 33 65 36 121-7 135-22 203-28 101-31 105-5 5-7 5-4 1-9-4-23-28-69-135-101-230-140-331-53-163-53-196 12-50 22-62 25-22 53-26 86-1 147 19 113 50 145 81 51 64 60 101 6 84-4 115-14 28-16 29-3 2-5 1-2-1-4-4-9-8-1-87 31-185 61-271 65-143 75-154 10-11 12-12 3 0 4 1 1 3-1 8 3 12-38 68-116 133-201 211-142 138-172 187-44 88-52 158-10 116-12 120-3 5-5 5-3 1-6-2-8 4-48-80-78-191-87-238-1-61 6-74 15-22 33-28 50-9 108 3 122 41 161 70 60 59 72 91 12 63 12 64 0 1 0 1 0 0 0 0-1 20 0-7 21-174 46-272 64-196 94-250 30-46 34-49 4-3 5-3 2 2 2 4 2 3-7 21-53 87-124 161-169 159-217 216-68 100-81 152-13 170-15 191-4 16-6 17-2 2-4 2-2 3-12-11-63-119-93-202-27-117-24-138 10-31 21-40 24-15 61-16 109 16 163 41 90 55 113 86 34 71 36 101 0 7 0 7 0 0 0-1 1-53 19-153 46-203 79-289 67-136 76-147 10-10 12-10 4-1 4 1 1 3 0 9-1 20-46 79-126 139-207 217-127 130-153 179-38 87-41 162-4 109-5 113-3 4-4 4-3 1-6-1-4 9-42-72-69-179-75-221 2-54 9-67 17-20 36-26 55-8 113 7 117 43 152 73 54 59 66 94 9 61 9 61 0 1 0 1-5 31 6-59 32-201 60-297 71-189 97-229 26-35 30-38 6-3 8-2 2 2 2 6 3 3-12 33-68 102-142 176-170 158-217 213-67 97-79 148-11 162-13 177-3 11-4 12-2 2-4 1-1 4-11-11-64-127-85-200-15-96-11-114 12-27 25-35 29-14 71-11 111 24 157 51 74 56 92 89 26 99 26 104 0 2 0 2 0 6 0-3 19-170 43-271 57-201 92-274 56-94 64-101 10-7 13-8 4 2 5 4 1 6-3 18-21 54-75 120-145 146-224 219-117 122-140 168-33 80-34 160-3 75-4 77-2 3-3 3-2 1-5-2-14-10-47-94-46-150-46-178 8-40 17-50 20-18 46-21 78 3 130 23 93 51 118 82 40 63 45 108 3 44 3 45-1 0-1 0 0 1 1-2 11-135 32-237 50-205 85-290 73-140 88-157 20-16 24-17 6-1 8 2 3 5 1 14-3 26-41 82-103 127-186 202-167 148-206 198-54 86-62 135-5 128-6 133-2 4-2 5-2 1-3 0 3 11-12-16-56-144-62-189 1-59 8-72 17-21 35-27 50-9 98 4 96 42 126 71 48 61 59 103 7 99 7 100 0 1 0 1 0 0 0 0-1 15 0-6 17-182 38-286 52-206 88-293 77-150 99-174 24-23 31-25 8 0 11 3 5 7 4 18-1 27-31 77-87 122-162 192-183 152-240 207-79 93-93 132-9 129-9 144 0 8-1 9 0 0-1 0 0 0-2-2-24-50-37-111-7-84-1-100 16-26 30-33 35-12 72-5 85 30 116 57 52 57 64 98 16 108 10 168-3 23-3 23 0 0 0 0 0 0 0 0-3 49-1-22 14-195 32-302 45-212 79-308 76-183 113-238 61-72 76-81 23-9 30-7 12 7 15 16 5 22-4 54-36 90-86 154-120 129-202 192-198 138-253 183-67 70-75 94-8 48 2 80 20 40 21 41 3 1 3 1 2-1 2-2 0-26 3-66 13-50 23-61 22-17 41-19 47 3 75 20 53 42 69 75 25 82 22 127-9 48-12 51-4 3-7 3-3 1-10-5-33-46-64-131-41-151-40-181 9-40 18-49 18-15 36-16 47 4 78 22 59 48 77 84 29 81 26 138-8 65-9 66-1 1-1 1-1 0-1 0 0 9-1-10 7-150 26-253 46-207 80-297 78-167 108-205 43-43 53-47 17-4 22-1 8 9 9 20 3 26-15 68-62 110-123 177-142 132-234 202-165 129-196 168-40 64-44 104-2 27-2 27 0 1 0 1-1-1-1-1-2 10-10-46 0-79 8-94 16-23 30-29 35-9 66-1 64 30 88 57 40 60 48 107 1 122-6 145-9 18-11 19-4 2-8 1-2 8-21-22-71-149-99-235-29-132-26-157 14-35 24-44 23-15 49-15 68 13 105 37 65 54 83 90 27 82 24 130-8 46-8 47-1 2-2 2 0 0-1-1-1 16-2-17 13-163 35-263 53-200 89-278 71-121 86-136 22-16 27-17 9 1 11 5 4 8 2 22-11 45-51 104-104 128-184 199-183 151-233 203-69 88-82 131-14 91-15 94-1 3-2 3-2 0-3-1 2 18-21-42-32-127-29-153 11-37 20-46 22-16 47-18 70 9 109 30 67 50 86 83 30 74 31 136-5 85-5 86 0 0 0 0-1 0-1 0 0 0 0-2 4-110 18-216 35-212 65-313 68-195 107-264 72-103 90-117 26-16 34-16 13 4 16 11 7 16 3 38-18 67-59 127-105 129-182 194-188 139-258 194-91 85-103 112-15 52-8 84 16 44 17 45 2 1 2 1 1 0 1-1 3 36 0-34 5-79 14-93 18-22 34-27 38-6 68 5 60 33 81 61 36 66 40 113-5 95-9 104-6 8-9 9-4 1-8-1-5 9-36-54-70-177-80-233-3-76 4-90 16-23 29-28 32-9 62 0 69 32 95 61 44 65 53 110-1 121-3 128-2 5-2 5-1 0-1 0-1 0-1-2-5-24 6-122 32-205 60-303 67-191 104-253 60-83 73-92 20-10 25-9 10 4 12 10 5 15-2 40-28 78-78 142-119 131-204 201-186 144-232 192-62 79-71 117-9 61-9 62-1 2-1 2-1 0-2-1 3 21-12-35-13-100-8-120 14-29 26-37 28-13 56-10 69 20 98 44 50 54 64 94 18 98 11 165-18 88-21 93-5 5-8 5-4 1-10-4-25-28-68-127-89-215-108-288-10-95-5-113 15-29 29-37 33-12 73-8 99 25 140 53 67 59 84 95 22 79 18 116-8 34-9 36-2 1-3 1-1 0-1-1-4 20-3-33 18-171 43-266 63-190 94-243 40-54 45-58 9-4 11-3 3 1 4 5 1 5-9 29-50 88-115 157-165 154-234 220-99 109-119 155-27 143-30 171-5 18-6 19-3 1-5 1-1 2-10-9-56-112-77-183-18-98-13-117 14-28 27-36 29-15 69-12 101 25 144 51 69 57 86 91 23 106 23 114 0 4 0 4 0 0 0 0-1 1 0-2 10-129 31-232 49-204 84-289 74-139 89-155 18-17 22-18 5 0 7 2 2 6 1 15-4 28-42 84-103 129-187 204-166 147-204 197-53 86-62 137-5 123-6 127-2 4-3 5-1 0-3-1 4 16-15-22-57-150-62-192 4-56 12-68 17-21 36-26 53-5 102 10 95 42 124 71 47 62 56 104 6 90 6 91 0 1 0 1 0 0 0-1-5 40 4-54 26-205 51-307 59-200 96-276 70-111 84-123 20-14 24-14 8 1 10 5 3 8-1 23-15 52-59 112-112 130-196 203-174 145-214 192-54 81-61 123-1 114-1 118-1 3-2 3 0 1-1 1 0 2-4-6-39-110-42-153 3-57 11-69 18-21 36-26 51-6 93 8 81 41 107 71 42 63 50 111 0 145-1 147 0 2 0 2-1 1-1 1 0-1 0-1-4 0 5-101 24-212 47-317 55-207 92-294 81-154 110-187 44-38 54-41 18-2 24 2 8 9 9 23-1 33-22 80-69 114-132 179-143 128-236 195-167 121-194 155-34 55-36 82 14 73 21 85 5 7 6 7 1 0 1 0 1 0 2-4-2-74 4-98 16-34 27-42 26-13 49-11 58 15 84 36 47 49 59 88 14 105 8 136-9 27-11 29-5 3-7 2-4 3-15-12-55-103-82-186-26-131-23-154 12-33 21-41 21-13 43-13 58 12 90 34 57 54 73 91 23 89 18 143-7 39-7 39-1 1-2 1 0 0-1 0-2 29-1-24 14-181 36-283 53-202 89-285 77-142 100-166 30-25 38-27 12 0 16 4 6 10 6 23-3 39-33 92-85 123-156 191-173 143-252 207-114 105-133 141-25 99-26 104-1 3-1 4-1 0-1 0-1 0-3-4-21-80-21-116 9-47 18-57 20-18 39-21 52 0 86 17 64 43 83 75 32 71 34 130-12 139-18 154-8 13-10 14-4 1-8 0-1 13-29-39-86-185-119-278-38-148-36-178 15-40 25-50 23-18 50-20 76 8 122 30 82 53 105 86 35 72 37 114-8 72-9 74-2 3-3 4-1 0-1-1-1 2-3-8 3-104 22-201 49-199 83-277 65-117 76-127 14-12 18-12 5 0 6 3 3 6 0 17-11 40-56 101-117 133-204 209-157 142-191 190-49 82-58 144-10 88-11 90-2 4-4 4-2 0-5-2-14-11-46-91-43-145-42-173 8-40 17-50 21-17 47-20 76 4 124 25 85 51 109 82 37 66 41 114 0 46 0 47 0 0 0 0 0 0 0 0-5 40 4-50 27-203 53-304 61-197 97-267 61-93 71-102 16-9 19-9 6 2 8 6 2 8-2 25-25 62-77 125-127 136-215 211-149 134-178 178-42 79-46 133 0 91-1 93-1 3-2 3-1 0-2-1 4 23-20-38-42-141-41-171 8-42 17-52 20-18 44-21 69 2 114 22 79 49 101 80 36 67 41 120-1 80-1 80 0 1 0 1 0 0 0 0 0 1 0-2 9-142 27-247 43-211 76-305 75-180 108-227 49-55 60-61 16-5 21-3 8 5 9 14 3 17-11 51-51 97-110 163-138 132-230 204-154 126-182 165-37 67-40 106 9 83 9 84 0 1 0 1 0 1 0 0 0 1-1-2-23-93-21-128 10-46 20-56 20-18 41-21 56 3 92 21 65 43 84 76 32 70 35 130-12 149-19 168-9 15-11 16-4 2-7 1-1 12-25-30-84-176-123-277-51-173-52-208 9-47 18-59 21-20 45-24 69 0 120 18 97 49 125 80 45 66 51 105-2 87-5 95-3 6-4 6-1 1-2 0-1 0-2-5-5-48 9-141 41-196 74-280 68-135 79-148 14-12 17-13 5 0 6 2 1 3 0 11-5 24-47 82-111 131-196 208-154 143-188 192-49 87-57 149-11 105-12 109-3 4-5 4-2 1-5-2-9 3-45-79-61-168-64-205 5-49 13-60 19-20 40-25 64-2 118 15 102 47 132 77 46 62 54 100 5 57 5 58 0 1 0 1 0 0 0-1 0-38 15-139 41-205 73-297 75-173 96-201 23-25 27-27 6-2 8-1 3 4 2 10 3 10-21 52-83 117-160 191-173 155-219 208-64 93-75 142-10 147-11 156-3 7-4 8-2 1-3 0 0 6-11-12-61-135-74-195-4-75 2-89 15-24 30-31 38-11 84-3 105 33 142 61 58 58 72 95 16 101 16 103-1 2-1 2 0 0 0-1 0-33 15-135 37-208 68-304 71-185 102-231 40-48 46-52 11-4 14-3 4 4 5 9 3 10-11 41-58 97-123 166-168 151-238 217-100 107-119 149-23 91-21 160-1 29-2 30-1 2-2 2-1 0-3-3-23-34-45-108-20-109-16-129 12-30 24-38 27-15 61-13 89 18 128 43 66 54 84 90 26 81 25 138-2 24-2 24 0 0 0 0 0 0 0 0-4 38 3-54 24-205 48-308 57-204 94-286 76-135 96-154 25-21 32-22 10 0 13 4 5 9 4 23-6 39-40 94-94 125-170 193-186 149-245 204-81 90-93 126-9 109-6 135 0 7 0 8 0 0 0 0-1 0-1-1-6-2-21-68-10-94-4-111 16-28 29-35 31-13 64-8 77 26 107 52 51 56 64 96 17 99 10 172-21 132-25 140-5 7-8 8-3 1-7-2-3 14-43-70-98-217-140-321-60-175-62-212 10-50 19-63 21-21 47-26 77-3 140 14 118 48 152 78 53 62 63 96 7 79 0 102-9 18-10 19-3 2-4 1-2-1-3-4-9-9 0-89 33-186 64-270 59-126 65-133 7-7 8-7 2-1 3 0 0 2-2 7-3 16-52 78-138 146-214 220-115 124-139 173-34 89-38 179-7 94-9 97-3 4-5 5-4 0-8-4-17-14-61-108-80-195-89-241-1-58 6-71 16-22 34-28 52-9 114 4 132 42 172 70 63 59 75 90 13 54 13 55-1 1-1 1 0 0 0-1-1-29 15-125 44-200 76-283 57-115 61-120 6-7 7-7 1 0 1 1 1 2-1 8-7 24-60 89-153 157-218 225-95 115-114 164-25 105-26 198-5 71-7 74-3 3-5 4-3 0-7-4-25-29-68-125-72-186-78-225 1-51 8-63 16-20 37-26 61-7 126 8 131 46 169 75 58 58 69 89 10 45 10 46 0 0 0 0 0 0 0 0-2-16 13-112 42-200 74-285 60-128 66-135 5-6 6-7 2 0 2 1 0 2-1 7-1 16-52 79-146 153-214 224-100 118-121 168-28 96-29 191-4 86-6 89-3 4-5 5-3 0-7-3-17-14-61-109-77-191-84-234-1-56 5-69 16-20 35-27 53-9 118 5 133 43 174 72 62 58 75 89 12 50 12 50 0 1 0 1 0 1 0-2 11-119 34-218 58-199 89-261 30-52 33-55 3-3 4-3 1 1 0 3 1 2-4 13-44 75-116 149-164 159-208 216-65 100-77 155-10 180-13 206-4 19-6 20-3 2-5 2-2 2-12-10-64-116-101-208-41-139-40-164 7-36 17-45 20-17 51-20 101 7 165 30 112 54 139 83 42 60 48 92 2 16 2 16 0 0 0 0-4 52 1-15 26-184 52-280 72-193 89-220 13-19 15-21 2-1 3-1 0 2 0 4 5-5-13 27-87 114-169 195-145 145-177 197-46 94-53 160-5 162-8 171-3 8-5 9-3 1-5 0 2 14-24-30-87-179-112-254-19-97-15-115 11-28 24-36 27-14 72-12 128 22 184 49 90 57 111 87 30 78 30 82 0 2 0 2 0 0 0 0-5 46 3-31 29-189 57-283 72-185 85-204 10-15 12-16 2-1 2-1 1 2 0 5 8-8-18 33-100 125-182 206-136 139-165 190-42 93-47 164-5 151-7 157-3 7-5 8-3 1-6 0 2 16-29-42-90-190-111-259-14-87-10-104 12-26 26-33 30-14 80-10 132 27 186 54 84 57 103 87 26 74 26 76 1 2 1 2 0 0 0-1-1-36 16-133 46-200 78-281 53-107 57-112 4-5 5-6 1 0 2 1 0 3-2 8-10 29-66 96-157 158-218 224-87 112-105 163-22 119-23 206-5 60-7 62-3 4-4 4-4 0-9-4-29-39-73-137-70-183-75-221 1-50 8-61 17-20 38-26 63-7 130 10 132 46 170 75 58 58 69 89 9 41 9 42 0 1 0 0 0 1 0-1 8-96 29-194 55-200 87-267 33-61 36-64 3-3 4-3 1 0 1 2 0 2-4 11-37 65-106 138-164 160-210 218-67 102-80 156-11 178-14 211-5 23-6 25-3 3-5 2-3 2-12-9-59-102-98-198-48-150-48-177 6-39 15-49 19-17 47-21 92 3 159 25 119 52 149 81 46 59 53 90 4 22 4 22 0 1 0 1 0 0 0-2 5-81 25-179 53-200 86-271 36-68 39-71 3-3 4-4 1 1 0 2 1 2-3 10-31 58-98 130-164 161-212 220-70 103-83 157-12 173-15 214-5 27-7 29-3 2-5 2-2 1-10-8-55-92-96-189-52-158-53-187 5-40 13-51 19-17 45-22 86 1 154 21 123 52 155 81 49 58 57 89 4 26 4 26 0 0 0 0 0 4 1-3 17-154 42-251 67-200 90-238 15-26 17-28 2-2 3-1 0 1 0 3 3-2-9 18-72 101-152 181-150 150-184 202-50 96-58 159-6 175-9 187-4 11-5 12-3 2-6 1 1 9-19-22-84-164-115-250-28-114-25-134 9-31 20-40 23-15 62-16 119 15 181 40 103 56 128 85 37 75 39 88 0 4 0 5 0 0 0-1-5 37 4-45 32-192 61-284 69-166 77-176 6-9 7-10 1-1 1-1 1 2 0 5 10-7-28 46-125 142-201 218-115 128-139 178-34 94-36 178-5 127-7 132-3 6-5 6-3 1-6-1-3 12-44-69-92-204-109-264-11-76-6-92 13-24 27-31 35-14 92-7 140 31 192 60 81 57 99 86 22 64 22 65 0 2 0 2 0 0 0-1-5 28 6-59 34-194 64-283 64-149 69-157 4-6 5-6 0-1 0 0 0 2-1 5 9-3-37 57-140 151-209 223-101 120-122 171-29 97-30 192-4 106-6 110-3 5-5 5-3 1-7-2-10 0-54-91-91-205-106-261-7-70-2-85 14-23 29-30 38-13 98-5 144 35 195 63 79 58 95 86 20 58 20 59 0 2 0 2 0 0 1-1-6 37 3-43 32-190 61-281 64-154 69-161 4-6 5-7 1-1 1 0 0 1-1 4 10-7-34 51-139 151-207 223-101 120-122 171-30 99-30 193-5 111-7 115-3 5-5 6-3 1-7-2-8 3-53-88-95-209-111-268-12-75-7-90 13-24 27-32 36-14 95-7 146 32 201 60 84 58 101 86 23 59 23 61 0 1 0 1 0 0 0-1 0-49 19-145 50-199 82-270 26-55 27-57 1-2 1-2 0 0 0 1 0 1-4 8-44 67-119 145-154 155-191 210-54 98-63 160-6 193-9 218-5 19-7 21-3 2-5 1-3 3-14-12-70-125-114-227-60-164-62-193 3-41 11-52 18-18 44-22 87-2 163 18 140 50 177 79 54 56 63 82 5 23 5 23 0 1 0 1 0 2 0-3 14-136 38-230 70-197 76-207 3-7 3-8 0 0 0 0 3-4-7 12-99 119-176 198-121 134-146 185-38 97-41 177-3 173-6 182-4 9-6 11-3 1-6 0 1 14-27-34-95-189-134-282-44-133-43-156 7-34 16-43 21-17 55-19 116 7 193 30 133 54 164 82 46 55 51 76 2 11 2 11 0 0 0-1-2-41 16-133 58-217 77-260 7-16 8-17 0-1 0-1 0 0-5 5-86 100-162 180-121 135-146 187-38 98-41 177-2 192-5 206-5 12-6 13-4 2-6 1 0 9-21-23-87-167-135-272-69-173-73-204 3-42 11-53 17-18 42-23 82-3 168 16 164 48 208 76 62 53 72 75 7 23 7 24 0 0 0 0 0 0 0 0 0 9-1-6 12-135 37-227 38-119 38-121 1-4 0-4-1-1-2 0 37-44-28 29-157 164-204 224-68 106-81 162-13 136-12 231-4 123-7 128-3 6-5 6-4 1-7-1-2 12-48-78-112-222-158-322-59-153-61-179 4-36 12-46 19-17 48-20 104 1 199 22 179 49 223 74 60 48 68 64 5 20 5 22 0 1-1 1 0 0 0 0-1 0-2-2-8-23 4-105 28-155 28-160-1-6-2-6-2-1-4-1 13-20-58 52-135 142-167 196-47 99-53 160 4 161 11 195 6 17 6 17 1 1 2 0 1 0 2-1 7-32 21-141 33-219 59-325 61-206 99-290 79-133 95-149 19-19 24-20 4-1 6 2 0 6-2 17-7 34-45 88-106 126-192 201-157 140-190 186-45 83-50 129 12 125 30 210 9 59 9 61-1 3-2 3-1 0-3-1 6 24-30-55-70-178-75-218 3-52 10-63 17-20 36-26 61-5 124 11 123 45 159 75 55 59 67 94 11 55 11 56 0 0 0 0 0 0 1 0-1 4 0-4 20-168 44-269 58-201 93-273 53-89 60-95 9-7 11-7 3 1 4 4 1 5-3 17-23 55-80 122-154 152-226 221-104 116-125 163-28 84-27 174-2 65-3 67-2 3-4 3-2 1-5-2-18-19-53-106-48-152-49-181 7-40 16-51 20-17 45-21 80 2 136 23 98 50 124 81 42 62 48 104 3 41 3 41 0 0 0 0-5 53 2-27 26-197 52-296 61-197 96-262 50-75 57-81 10-6 13-6 4 2 5 6 1 6-5 22-34 70-93 137-156 151-230 221-107 115-128 160-29 79-28 166-2 54-3 56-2 2-3 2-2 0-5-3-21-26-52-108-36-135-34-160 10-36 20-45 22-17 52-19 86 11 135 33 83 53 105 85 35 66 39 115 0 33 0 33 0 1 0 0 0 0 0-1 5-92 23-195 45-208 78-299 76-169 100-199 27-29 33-31 9-2 11 0 4 5 4 12 2 15-22 58-79 115-152 186-179 155-234 211-78 96-91 139-12 141-13 156-1 9-2 10-1 1-2 1-1 1-4-5-41-84-55-146-5-84 1-100 14-25 28-32 34-12 74-6 94 30 128 57 57 58 71 96 15 131 14 138 0 3 0 3 0 1 0 1 0 0 0-1-3 2 7-97 28-209 55-311 61-200 99-275 71-114 88-128 22-16 28-16 9 1 12 6 5 11 2 28-13 53-55 113-106 128-187 197-186 147-236 197-66 83-76 119-1 119-1 124 0 3 0 3 0 1 0 1-1 0-1-1-13-28-24-87-4-80 3-96 17-25 31-31 37-11 72-3 76 32 104 59 46 59 57 102 11 111 2 183-19 98-22 102-4 6-7 6-3 1-8-4-21-20-66-122-100-226-132-317-36-133-34-158 10-38 22-49 27-19 62-21 103 9 159 32 99 54 125 86 39 64 44 100-7 75-10 82-5 6-6 6-2 1-3 0-2 0-3-8-3-70 14-163 48-193 80-263 43-76 47-80 4-5 6-5 1 1 1 2 1 3-3 13-28 58-90 126-163 157-226 222-90 109-108 158-24 142-28 199-6 35-8 38-3 2-5 2-3 1-10-7-48-80-88-175-52-157-53-186 6-40 15-51 19-18 46-22 85 0 148 21 112 52 142 81 45 61 52 94 4 31 4 31-1 1-1 1 0 4 0-4 17-152 41-250 62-198 92-253 28-45 31-47 4-3 5-3 2 1 1 3 2 2-6 18-52 84-125 158-166 159-211 216-64 99-76 153-11 175-14 196-4 16-6 18-2 2-4 1-2 3-13-12-67-125-99-212-33-124-31-145 9-33 20-42 22-16 58-17 109 12 168 37 98 55 122 85 37 64 41 96 0 9 0 9 0 0 0 0-5 26 6-65 35-198 65-291 72-174 85-193 12-15 15-16 3-1 3 0 1 2 1 5 7-2-23 44-102 126-185 206-141 141-171 192-44 91-50 159-5 143-6 149-4 7-5 8-3 1-5-1 2 17-29-42-85-187-101-247-9-76-4-92 13-24 28-31 36-14 90-7 128 33 175 61 73 58 89 89 21 73 21 75 0 1 0 1 0 0 0 0-5 48 2-29 28-193 56-288 70-191 92-226 20-27 22-29 4-2 5-2 2 2 1 5 4-1-12 29-76 107-155 184-160 153-197 207-55 94-64 152-7 165-10 176-3 10-4 11-3 1-5 0 0 9-17-19-78-160-102-234-18-96-14-114 11-27 24-35 28-15 73-13 121 24 172 50 83 57 103 88 28 87 28 90 0 2 0 3 0 0 0-1-1-26 15-124 42-203 75-291 68-145 77-157 10-10 12-11 4-1 4 0 1 3 0 8 2 12-40 69-123 139-204 217-127 131-153 180-38 89-41 164-4 117-6 121-3 4-4 5-3 1-6-1-3 11-41-68-76-187-84-232-2-60 5-73 15-21 33-27 51-11 110 2 123 41 162 70 59 59 72 93 12 61 12 62 0 1 0 1 0 3 1-3 17-158 41-258 60-198 93-263 41-66 45-70 6-5 8-4 2 1 2 3 2 4-4 17-37 70-102 140-167 159-224 222-82 106-98 154-17 152-19 198-4 27-6 29-2 2-4 2-2 1-8-6-46-77-80-166-38-136-37-160 9-35 19-44 21-17 52-19 97 8 154 32 96 53 121 84 38 64 43 102 1 20 1 20 0 0 0-1-1-26 15-125 41-205 73-295 73-161 87-179 15-16 18-17 4-1 5 0 2 4 1 9 4 8-30 59-102 125-186 204-151 145-184 195-47 89-54 150-5 136-6 141-3 6-4 7-2 1-5 0 4 17-24-36-74-175-84-226-4-66 2-80 15-23 31-29 45-12 98-2 117 39 155 67 61 59 74 94 14 77 14 78 0 1 0 1-5 51 2-30 27-196 54-295 63-194 96-253 42-60 48-65 8-4 10-4 3 2 3 6 2 4-6 24-45 80-109 149-167 157-230 221-89 107-106 153-19 133-21 184-3 28-4 29-2 2-4 2-2 0-6-5-38-65-67-147-31-122-28-144 11-33 22-42 24-16 58-17 97 15 146 39 82 55 103 87 32 69 34 114 0 17 0 17 0 0 0 0-3 1 10-97 34-205 63-302 71-188 102-236 37-49 43-52 8-5 10-4 3 3 4 8 2 8-10 36-56 97-123 166-171 155-234 218-90 104-106 148-19 134-20 173-2 20-3 21-2 2-3 2-1 0-5-4-37-67-60-141-18-106-14-125 12-29 24-38 27-14 64-12 97 21 139 47 69 55 87 89 26 88 25 128 0 10 0 10 0 0-1 0 0 3 1-3 15-163 36-266 50-206 85-293 77-148 96-170 26-22 31-24 9-1 11 2 4 6 3 16-2 26-34 78-92 122-168 193-181 152-233 206-71 91-82 132-8 133-8 142-1 7-2 7-1 1-1 1-1 1-4-4-36-81-47-139 0-74 6-89 16-24 30-31 38-10 79-1 88 32 118 60 51 58 63 100 10 143 8 152 0 4 0 4-1 0-1 0 0 0 0 0-4 37 3-54 21-208 43-312 52-207 89-295 80-158 108-190 41-36 50-39 16-3 20 1 7 8 8 20-1 30-23 76-71 115-136 180-152 133-244 202-141 114-164 148-29 60-29 94 15 72 15 74 1 1 1 1 1 0 1 0 0 0 0-2-12-78-8-110 12-41 22-51 22-16 44-18 56 7 88 25 57 46 73 80 27 81 25 139"/></g></g>
</svg></body></html>
